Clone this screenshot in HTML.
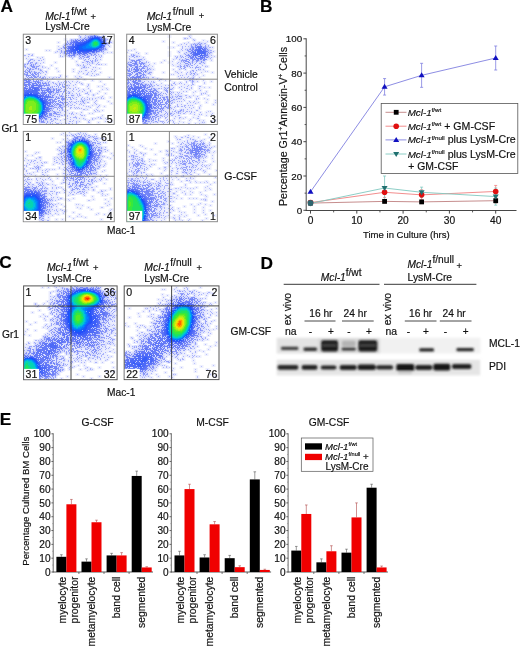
<!DOCTYPE html>
<html><head><meta charset="utf-8"><title>Figure</title>
<style>
html,body{margin:0;padding:0;background:#fff;}
body{width:520px;height:647px;overflow:hidden;}
svg{display:block;font-family:"Liberation Sans", sans-serif;}
text{stroke:#111;stroke-width:0.18px;paint-order:stroke;filter:grayscale(1);}
</style></head><body>
<svg width="520" height="647" viewBox="0 0 520 647">
<rect width="520" height="647" fill="#fff"/>
<text x="0.6" y="12.4" font-size="17.3" font-weight="bold" fill="#000">A</text>
<text x="259.9" y="12.4" font-size="17.3" font-weight="bold" fill="#000">B</text>
<text x="-0.8" y="268.4" font-size="17.3" font-weight="bold" fill="#000">C</text>
<text x="260.6" y="268.7" font-size="17.3" font-weight="bold" fill="#000">D</text>
<text x="-0.35" y="425.2" font-size="17.3" font-weight="bold" fill="#000">E</text>
<defs><clipPath id="c0"><rect x="23.60" y="34.50" width="90.40" height="89.70"/></clipPath>
<path id="p0_1" d="M42 5h1M35 8h1M35 12h1M3 15h1M23 16h1M26 16h1M32 18h1M84 18h1M88 18h1M14 23h1M53 27h1M32 28h1M54 30h1M82 30h1M28 31h1M22 33h1M25 34h1M33 34h1M76 34h1M50 35h1M35 37h1M50 37h1M77 38h1M55 39h1M75 40h1M43 42h1M52 42h1M30 43h1M58 43h1M86 43h1M61 45h1M69 46h1M77 47h1M59 50h1M81 50h1M75 52h1M79 52h1M83 54h1M79 55h1M84 55h1M76 57h1M74 59h1M82 59h1M70 60h1M75 63h1M87 63h1M85 67h1M88 69h1M69 71h1M81 72h1M67 73h1M64 75h1M79 76h1M76 77h1M66 79h1M69 79h1M79 81h1M72 84h1M82 84h1M62 85h1M83 85h1M56 87h1M82 87h1M88 87h1M75 88h1M38 89h1"/>
<path id="p0_2" d="M58 0h1M56 1h1M62 1h1M80 1h1M57 2h1M82 4h1M48 5h1M84 5h1M87 7h1M87 8h2M85 11h1M86 12h1M35 15h2M83 15h1M34 17h1M38 18h1M37 19h1M80 19h1M5 20h2M9 20h1M1 21h2M8 21h2M37 21h1M78 21h1M5 22h1M37 22h1M39 22h1M76 22h1M78 22h1M19 23h1M77 23h1M3 24h1M17 24h1M49 24h1M56 24h1M20 25h1M77 25h1M11 26h1M15 26h2M18 26h1M61 26h1M74 26h1M72 27h1M13 28h1M20 28h1M59 28h2M75 28h1M17 29h1M69 29h1M74 29h1M1 30h1M60 30h1M64 30h1M66 30h1M73 30h1M75 30h2M78 30h1M1 31h1M16 31h1M55 31h1M57 31h1M60 31h1M67 31h1M1 32h1M19 32h1M19 33h1M63 33h1M65 33h1M70 33h1M72 33h1M58 34h1M17 35h1M69 35h1M18 36h1M62 36h2M72 36h1M19 37h1M22 37h2M56 37h1M58 37h1M68 37h1M71 37h1M20 38h1M23 38h1M65 38h1M60 39h1M64 39h1M69 39h1M22 40h1M63 40h2M73 40h1M37 41h1M68 41h1M71 41h1M21 42h1M37 42h1M56 42h1M22 43h1M26 43h1M33 43h1M35 43h2M22 44h1M24 44h1M29 44h1M54 44h2M24 46h1M26 47h1M35 47h1M41 47h1M43 47h1M45 47h1M49 47h1M54 47h1M29 48h2M38 48h1M40 48h1M42 48h2M46 48h1M53 48h1M56 48h1M30 49h1M32 49h1M47 49h1M58 49h1M52 50h1M65 50h1M46 51h1M50 51h1M65 51h1M64 52h1M45 53h1M52 53h1M44 54h1M46 54h2M50 54h1M55 54h1M65 54h1M50 55h1M53 55h1M60 55h1M43 56h1M49 56h1M56 56h1M61 56h1M67 56h1M45 57h1M50 57h1M55 57h1M59 57h1M67 57h1M64 58h1M49 59h1M53 59h1M56 59h1M62 59h3M54 60h1M56 60h1M65 60h1M50 61h1M54 61h1M56 61h2M70 61h1M55 62h1M79 62h1M53 63h1M59 63h1M64 63h1M78 63h1M58 64h1M61 64h1M66 64h1M69 64h1M72 64h1M78 64h1M80 64h1M53 65h1M58 65h1M64 65h1M66 65h1M69 65h1M73 66h1M53 67h1M55 67h1M57 67h1M72 67h1M51 68h2M64 68h2M71 68h1M53 69h1M57 69h1M61 69h1M72 69h1M49 70h1M56 70h1M58 70h1M73 70h1M43 71h1M47 71h2M51 71h1M60 71h1M76 71h1M41 72h1M45 72h1M63 72h1M65 72h1M75 72h1M47 73h2M51 73h1M53 73h1M55 73h1M74 73h1M47 74h1M52 74h1M54 74h1M56 74h1M58 74h1M60 75h2M73 75h1M39 76h1M44 76h1M71 76h1M74 76h1M41 77h2M72 77h1M37 78h1M42 78h1M49 78h1M58 78h1M46 79h1M48 79h2M53 79h1M41 80h1M48 80h1M50 80h1M57 80h1M38 81h2M41 81h1M44 81h1M58 81h2M61 81h1M36 82h1M44 82h1M52 82h1M47 83h1M50 83h4M75 83h1M77 83h1M44 84h1M53 84h1M56 84h1M60 84h1M69 84h1M77 84h2M32 85h1M34 85h1M41 85h2M47 85h1M69 85h1M30 86h1M37 86h1M50 86h1M66 86h1M28 87h2M46 87h2M49 87h1M53 87h1M65 87h1M27 88h1M32 88h1M42 88h1M53 88h1M65 88h2M1 89h1M15 89h1M27 89h1M29 89h1M33 89h3M42 89h2M45 89h2M49 89h1M53 89h1"/>
<path id="p0_3" d="M68 0h1M65 2h1M57 3h1M62 3h1M82 5h1M48 6h1M44 7h1M44 8h1M43 9h1M84 9h1M42 10h1M41 11h1M40 12h1M40 13h1M38 14h1M82 14h1M82 15h1M38 16h1M38 17h1M80 17h1M41 19h1M72 20h1M75 20h1M42 21h1M68 21h1M70 21h1M73 21h1M46 22h1M51 22h1M56 22h1M65 22h2M72 22h1M57 23h1M61 23h1M63 23h3M72 23h1M58 24h1M60 24h1M66 24h1M70 24h1M73 24h1M7 25h3M62 25h1M65 25h1M72 25h1M6 26h2M67 26h1M69 26h1M72 26h1M5 27h2M63 27h3M68 27h2M5 28h1M7 28h3M64 28h1M66 28h1M69 28h1M4 29h2M7 29h1M12 29h2M2 30h1M4 30h1M10 30h1M12 30h1M7 31h1M2 32h1M13 32h3M61 32h1M2 33h1M4 33h1M13 33h1M60 33h2M4 34h2M13 34h1M15 34h1M3 35h1M9 35h2M15 35h1M2 36h1M4 36h1M17 36h1M1 37h2M8 37h1M11 37h1M2 38h2M12 38h2M15 38h2M1 39h1M14 39h2M17 39h1M1 40h2M15 40h1M15 41h1M14 42h2M17 42h1M16 43h2M19 43h2M18 44h3M1 45h1M0 46h1M18 46h2M22 48h1M25 48h1M0 49h1M23 49h1M25 49h1M36 49h1M25 50h2M33 50h1M36 50h2M39 50h1M41 50h1M25 51h2M34 51h1M36 51h1M39 51h1M43 51h2M29 52h1M31 52h1M33 52h1M35 52h1M39 52h3M29 53h1M35 53h1M37 53h1M40 53h2M30 54h1M33 54h1M38 54h1M36 55h2M41 55h1M36 56h1M41 56h1M37 57h2M40 57h2M35 58h1M40 58h1M46 58h1M32 59h1M39 59h1M43 59h1M45 59h2M31 60h1M34 60h1M36 60h1M39 60h1M36 61h1M38 61h1M43 61h1M45 61h1M48 61h2M33 62h1M37 62h1M39 62h2M42 62h1M43 63h1M45 63h3M49 63h1M41 64h1M47 64h1M50 64h1M41 65h1M44 65h1M47 65h2M59 66h1M61 66h1M42 67h1M46 67h1M48 67h1M59 67h2M41 68h4M47 68h1M60 68h1M39 69h2M42 69h1M45 69h1M40 70h1M44 70h1M33 71h1M31 73h3M35 73h1M37 73h3M30 74h1M34 74h1M36 74h1M38 74h2M34 75h1M39 75h1M29 76h1M36 76h1M30 77h2M34 78h2M33 79h1M33 80h4M30 81h1M31 82h2M34 82h1M25 83h3M28 84h1M31 84h2M23 85h1M27 85h2M24 87h1M1 88h1M18 88h4M24 88h1M7 89h1M10 89h1M12 89h2M23 89h1"/>
<path id="p0_4" d="M67 2h1M65 3h1M78 3h1M61 4h1M52 5h1M54 5h1M57 5h1M59 5h1M50 6h1M82 6h1M48 7h1M82 7h1M47 8h2M82 8h1M45 9h1M47 9h1M83 9h1M43 10h2M46 10h1M42 11h1M44 12h1M41 13h1M43 13h1M41 14h2M42 15h1M80 15h1M41 17h2M76 17h1M78 17h1M41 18h1M42 19h3M43 20h1M46 20h1M68 20h1M71 20h1M45 21h7M57 21h1M61 21h2M48 22h1M59 22h2M64 22h1M8 30h1M8 31h1M10 31h1M8 32h4M9 33h3M7 34h1M12 34h1M6 35h2M6 36h1M5 37h2M4 38h1M6 38h2M11 38h1M4 39h1M7 39h1M9 39h1M11 39h2M3 40h2M8 40h3M12 40h2M3 41h5M9 41h3M3 42h1M5 42h1M8 42h1M10 42h3M4 43h1M6 43h4M11 43h3M2 44h1M5 44h1M10 44h1M3 45h4M9 45h2M14 45h1M1 46h2M6 46h2M10 46h1M13 46h1M15 46h1M17 46h1M10 47h6M1 48h1M8 48h1M16 48h2M19 48h1M1 49h1M17 49h1M19 49h4M0 50h2M17 50h1M20 50h1M23 50h1M18 51h7M21 52h1M24 53h2M27 53h1M0 54h1M19 54h4M24 54h3M23 55h1M27 55h1M30 55h2M33 55h1M35 55h1M20 56h3M30 56h2M33 56h3M21 57h1M29 57h2M33 57h1M35 57h1M30 58h1M33 58h2M29 61h2M29 62h1M38 62h1M29 63h2M33 63h1M35 63h1M39 63h1M32 64h1M34 64h3M38 64h3M28 65h2M31 65h3M38 65h3M27 66h1M29 66h3M35 66h2M39 66h1M29 67h5M35 67h1M37 67h1M28 68h3M32 68h1M36 68h4M29 69h1M31 69h1M33 69h3M30 70h1M32 70h1M34 70h4M28 71h2M31 71h1M36 71h3M28 72h3M36 72h2M28 74h1M27 76h1M26 77h1M31 78h2M24 79h1M26 79h3M30 79h3M26 80h3M24 81h1M26 81h3M23 82h2M21 84h3M18 85h1M22 85h1M16 86h1M18 86h1M20 86h1M13 87h1M16 87h1M18 87h3M5 88h1M8 88h1"/>
<path id="p0_5" d="M71 1h1M68 2h2M67 3h1M77 3h1M78 4h1M60 5h1M62 5h2M79 5h1M52 6h2M55 6h2M58 6h3M80 6h1M50 7h3M49 8h2M81 8h1M48 9h1M82 9h1M47 10h1M82 10h1M81 11h1M45 12h2M81 12h1M45 13h1M80 13h1M44 14h2M80 14h1M45 15h1M78 15h2M43 16h2M76 16h3M43 17h3M74 17h2M44 18h1M46 18h1M71 18h1M73 18h1M45 19h2M48 19h1M66 19h2M50 20h2M54 20h1M56 20h1M59 20h3M64 20h1M3 46h1M5 46h1M3 47h4M2 48h6M12 48h1M14 48h2M5 49h2M9 49h5M15 49h1M2 50h6M9 50h2M13 50h2M16 50h1M1 51h3M5 51h2M8 51h2M14 51h4M2 52h3M6 52h1M8 52h1M15 52h4M1 53h2M6 53h2M15 53h2M18 53h1M1 54h1M17 54h2M0 55h2M16 55h1M18 55h1M24 55h3M0 56h1M16 56h1M18 56h2M23 56h3M27 56h1M19 57h1M24 57h5M18 58h6M25 58h4M0 59h1M18 59h5M26 59h2M19 60h3M23 60h1M25 60h1M27 60h1M22 61h2M26 62h2M25 63h4M24 64h1M24 65h1M26 65h2M25 66h2M27 67h1M25 68h3M26 69h2M26 70h2M25 71h2M25 72h3M25 73h1M25 74h3M25 75h2M24 76h2M23 77h3M23 78h1M23 79h1M22 80h2M21 81h2M20 82h1M22 82h1M20 83h2M17 84h1M19 84h1M15 86h1M11 87h1"/>
<path id="p0_6" d="M71 2h1M74 2h1M76 3h1M66 4h1M78 5h1M53 7h2M57 7h1M59 7h1M80 7h1M51 8h2M80 8h1M50 9h1M81 9h1M49 10h2M49 11h1M47 12h2M80 12h1M46 13h2M79 13h1M46 14h1M78 14h1M77 15h1M45 16h3M46 17h2M71 17h1M73 17h1M47 18h2M65 18h1M69 18h2M50 19h3M55 19h4M60 19h4M10 51h4M9 52h2M8 53h7M2 54h3M6 54h2M9 54h2M13 54h3M3 55h1M5 55h5M14 55h2M1 56h3M6 56h3M14 56h2M1 57h2M14 57h1M1 58h1M14 58h2M1 59h1M15 59h2M0 60h1M17 60h1M0 61h1M16 61h5M25 61h1M18 62h8M19 63h1M21 63h4M20 64h3M21 65h3M22 66h2M23 67h2M23 68h2M23 69h3M23 70h2M24 71h1M23 73h2M23 74h2M22 75h3M23 76h1M22 77h1M21 78h2M21 79h1M21 80h1M19 82h1M18 83h1M16 84h1M0 85h1M15 85h1M13 86h1M5 87h1M7 87h2M10 87h1"/>
<path id="p0_7" d="M72 2h1M69 3h1M75 3h1M67 4h1M65 5h2M63 6h2M78 6h1M61 7h2M79 7h1M53 8h7M52 9h3M52 10h1M50 11h1M80 11h1M49 12h2M48 13h2M78 13h1M47 14h2M47 15h2M76 15h1M48 16h2M72 16h2M48 17h4M66 17h5M50 18h3M54 18h4M59 18h6M11 54h2M11 55h3M4 56h2M9 56h5M3 57h11M2 58h12M2 59h2M10 59h5M1 60h1M14 60h1M15 61h1M0 62h1M16 62h2M17 63h1M19 64h1M20 66h2M21 67h2M22 68h1M22 69h1M22 70h1M22 71h1M22 72h1M22 73h1M21 77h1M20 79h1M19 81h1M18 82h1M15 84h1M11 86h1"/>
<path id="p0_8" d="M71 3h4M68 4h1M76 4h1M67 5h1M77 5h1M65 6h1M63 7h2M78 7h1M60 8h3M79 8h1M55 9h5M79 9h1M53 10h4M79 10h1M52 11h2M79 11h1M51 12h3M78 12h1M50 13h3M77 13h1M49 14h2M49 15h4M73 15h2M50 16h5M70 16h2M52 17h1M54 17h12M4 59h2M7 59h2M2 60h3M9 60h5M1 61h1M13 61h2M16 63h1M17 64h2M18 65h2M19 66h1M20 67h1M21 68h1M21 69h1M21 71h1M21 72h1M21 73h1M21 74h1M21 75h1M20 78h1M19 80h1M18 81h1M17 82h1M16 83h1M13 85h1M4 86h1M8 86h1"/>
<path id="p0_9" d="M69 4h2M75 4h1M68 5h1M76 5h1M66 6h1M77 6h1M65 7h1M63 8h1M78 8h1M60 9h3M57 10h4M54 11h5M78 11h1M54 12h2M53 13h3M52 14h4M75 14h1M53 15h3M71 15h2M56 16h5M63 16h6M5 60h4M2 61h2M11 61h2M14 62h1M15 63h1M19 67h1M20 68h1M20 69h1M20 70h1M20 77h1M19 79h1"/>
<path id="p0_10" d="M71 4h4M69 5h1M75 5h1M67 6h1M76 6h1M66 7h1M77 7h1M64 8h2M63 9h1M78 9h1M61 10h2M78 10h1M59 11h3M56 12h4M77 12h1M56 13h3M76 13h1M56 14h4M73 14h2M56 15h15M61 16h2M4 61h7M2 62h1M12 62h2M14 63h1M17 65h1M18 66h1M19 68h1M20 71h1M20 72h1M20 73h1M20 74h1M20 75h1M19 78h1M16 82h1M3 85h2M11 85h1"/>
<path id="p0_11" d="M70 5h1M74 5h1M68 6h1M67 7h1M66 8h1M77 8h1M64 9h2M77 9h1M63 10h2M77 10h1M62 11h2M77 11h1M60 12h3M76 12h1M59 13h4M75 13h1M60 14h13M11 62h1M1 63h1M13 63h1M15 64h1M0 65h1M16 65h1M17 66h1M18 67h1M19 69h1M19 70h1M19 76h1M19 77h1M18 79h1M17 80h1M0 82h1M15 82h1M1 83h1M2 84h1M12 84h1M5 85h1"/>
<path id="p0_12" d="M71 5h3M69 6h1M75 6h1M68 7h1M76 7h1M67 8h1M66 9h1M65 10h1M64 11h2M76 11h1M63 12h4M75 12h1M63 13h6M73 13h2M4 62h2M8 62h3M2 63h1M12 63h1M1 64h1M14 64h1M0 66h1M17 67h1M18 68h1M19 71h1M19 72h1M19 73h1M19 74h1M19 75h1M18 78h1M0 81h1M16 81h1M13 83h1M3 84h1M11 84h1"/>
<path id="p0_13" d="M70 6h1M74 6h1M69 7h1M75 7h1M68 8h1M76 8h1M67 9h1M76 9h1M66 10h2M76 10h1M66 11h2M67 12h2M74 12h1M69 13h4M6 62h2M3 63h1M11 63h1M13 64h1M15 65h1M16 66h1M0 67h1M18 69h1M18 70h1M18 77h1M0 79h1M17 79h1M0 80h1M16 80h1M15 81h1M1 82h1M14 82h1M2 83h1M4 84h7"/>
<path id="p0_14" d="M71 6h3M75 8h1M68 9h1M68 10h1M68 11h1M75 11h1M69 12h1M73 12h1M4 63h1M9 63h2M2 64h1M1 65h1M14 65h1M15 66h1M16 67h1M0 68h1M17 68h1M0 69h1M17 69h1M0 70h1M0 71h1M18 71h1M0 72h1M18 72h1M0 73h1M18 73h1M18 74h1M18 75h1M18 76h1M0 77h1M0 78h1M17 78h1M1 81h1M13 82h1M3 83h1M12 83h1"/>
<path id="p0_15" d="M70 7h2M73 7h2M69 8h1M69 9h1M75 9h1M69 10h1M75 10h1M69 11h1M74 11h1M70 12h3M5 63h4M3 64h1M11 64h2M2 65h1M13 65h1M1 66h1M16 68h1M17 70h1M0 74h1M0 75h1M0 76h1M17 77h1M16 79h1M1 80h1M15 80h1M14 81h1M2 82h1M4 83h8"/>
<path id="p0_16" d="M72 7h1M70 8h1M74 8h1M70 9h1M74 9h1M70 10h1M74 10h1M70 11h4M4 64h1M9 64h2M12 65h1M14 66h1M1 67h1M15 67h1M1 68h1M16 69h1M17 71h1M17 72h1M17 73h1M17 74h1M17 75h1M17 76h1M1 78h1M16 78h1M1 79h1M15 79h1M14 80h1M2 81h1M13 81h1M3 82h3M11 82h2"/>
<path id="p0_17" d="M71 8h3M71 9h3M71 10h3M5 64h4M3 65h1M11 65h1M2 66h1M13 66h1M2 67h1M14 67h1M15 68h1M1 69h1M15 69h1M1 70h1M16 70h1M1 71h1M16 71h1M1 72h1M16 72h1M1 73h1M16 73h1M1 74h1M16 74h1M1 75h1M16 75h1M1 76h1M16 76h1M1 77h1M16 77h1M15 78h1M14 79h1M2 80h1M13 80h1M3 81h3M12 81h1M6 82h5"/>
<path id="p0_18" d="M4 65h7M3 66h1M11 66h2M13 67h1M2 68h1M14 68h1M2 69h1M14 69h1M15 70h1M15 71h1M15 72h1M15 73h1M15 74h1M15 75h1M15 76h1M15 77h1M2 78h1M14 78h1M2 79h1M13 79h1M3 80h10M6 81h6"/>
<path id="p0_19" d="M4 66h7M3 67h2M11 67h2M3 68h1M12 68h2M3 69h1M13 69h1M2 70h1M13 70h2M2 71h1M13 71h2M2 72h1M13 72h2M2 73h1M13 73h2M2 74h1M13 74h2M2 75h1M13 75h2M2 76h1M12 76h3M2 77h1M11 77h4M3 78h2M9 78h5M3 79h10"/>
<path id="p0_20" d="M5 67h6M4 68h8M4 69h9M3 70h10M3 71h10M3 72h4M9 72h4M3 73h3M9 73h4M3 74h3M9 74h4M3 75h3M9 75h4M3 76h9M3 77h8M5 78h4"/>
<path id="p0_21" d="M7 72h2M6 73h3M6 74h3M6 75h3"/>
<clipPath id="c1"><rect x="127.00" y="34.50" width="90.10" height="89.70"/></clipPath>
<path id="p1_1" d="M64 0h1M43 2h1M58 4h1M67 5h1M77 6h1M37 7h1M81 7h1M47 8h1M62 8h1M52 11h1M43 13h1M47 13h1M8 15h1M2 16h1M5 16h1M52 17h1M1 18h1M43 18h1M20 19h1M43 21h1M88 22h1M47 25h1M38 26h1M85 26h1M46 27h1M35 28h1M43 28h1M28 29h1M46 30h1M47 31h1M26 32h1M81 32h1M27 35h1M47 35h1M49 37h1M79 37h1M81 37h1M37 38h1M75 38h1M86 38h1M45 40h1M47 40h1M77 41h1M73 43h1M39 46h1M44 46h1M77 46h1M85 47h1M78 48h1M35 49h1M78 49h1M78 53h1M83 53h1M69 57h1M80 57h1M67 58h1M67 61h1M82 61h1M64 63h1M78 64h1M81 65h1M89 66h1M72 68h1M80 68h1M89 68h1M87 70h1M74 71h1M82 77h1M84 77h1M80 78h1M86 79h1M85 80h1M80 81h1M59 83h1M67 83h1M57 84h1M64 85h1M63 86h1M77 86h1M89 86h1M53 87h1M86 87h1M57 88h1M78 88h1M52 89h1M62 89h2M69 89h1M73 89h1"/>
<path id="p1_2" d="M63 2h1M64 3h1M59 4h1M61 4h1M68 6h1M73 8h1M58 9h1M68 9h1M78 9h2M55 10h1M60 10h1M65 10h1M82 11h1M56 12h1M59 12h1M62 12h1M82 12h1M56 13h1M83 13h2M86 13h1M56 14h1M55 15h1M59 15h1M56 16h1M84 16h2M87 17h1M10 18h1M53 18h1M85 18h1M12 19h1M58 19h1M5 20h1M7 20h1M5 21h1M54 21h1M85 21h1M3 22h1M11 22h1M13 22h1M49 22h1M51 22h1M54 22h1M17 23h1M50 23h2M85 23h1M3 24h1M50 24h1M84 24h1M3 25h1M18 25h1M53 25h1M20 27h1M20 28h1M22 28h1M52 28h1M1 29h1M51 29h1M54 29h1M78 29h1M23 30h1M22 31h1M76 31h1M51 32h2M79 32h1M74 33h1M24 35h1M53 35h1M74 35h1M77 35h1M64 37h1M24 38h2M51 38h1M55 38h1M61 38h1M64 38h1M23 39h1M52 39h1M60 39h1M24 40h1M60 40h1M64 40h1M71 40h1M54 41h1M56 41h1M52 42h1M62 42h1M22 43h1M26 43h2M55 43h1M58 43h1M61 43h1M67 43h1M22 44h1M31 44h1M53 44h1M63 44h2M67 44h1M34 45h2M59 45h1M70 45h1M33 46h1M63 46h2M22 47h1M25 47h1M27 47h1M60 47h1M67 47h1M71 47h1M27 48h2M48 48h1M54 48h1M60 48h1M66 48h1M47 49h2M53 49h1M55 49h1M66 49h1M30 50h1M45 50h1M49 50h1M58 50h1M66 50h2M28 51h1M31 51h2M39 51h1M42 51h1M45 51h2M62 51h1M65 51h1M35 52h1M55 52h1M61 52h1M73 52h2M38 53h1M42 53h1M47 53h1M53 53h1M58 53h1M65 53h1M32 54h2M35 54h1M46 54h1M60 54h2M65 54h1M73 54h1M38 55h1M55 55h1M63 55h1M74 56h1M57 57h1M60 57h1M47 58h1M51 58h1M53 58h1M52 59h1M55 59h1M75 59h1M77 59h1M79 59h1M49 60h1M75 60h1M59 61h2M46 62h1M49 62h1M55 62h1M63 62h1M71 62h1M50 63h1M60 63h1M55 64h1M70 64h1M72 64h1M48 65h1M50 65h1M57 65h1M70 65h1M58 66h1M51 67h1M53 67h1M55 67h1M63 67h1M68 67h1M46 68h1M48 68h1M64 68h1M67 68h1M61 69h1M69 69h1M51 70h1M55 70h1M51 71h1M58 71h2M62 71h1M64 71h1M66 71h1M49 72h1M51 72h2M55 72h2M58 72h1M48 73h1M59 73h1M63 73h1M67 73h1M73 73h1M45 74h1M65 74h1M73 74h1M47 75h1M55 75h1M57 75h1M61 75h1M49 76h1M57 76h1M70 76h2M43 77h1M46 77h1M48 77h2M57 77h1M60 77h2M63 77h1M65 77h1M50 78h1M59 78h1M65 78h1M68 78h1M74 78h1M48 79h1M52 79h1M54 79h1M57 79h2M64 79h1M44 80h1M47 80h1M68 80h1M73 80h1M75 80h1M35 81h1M45 81h2M52 81h2M36 82h1M38 82h1M41 82h1M49 82h1M72 82h1M34 83h1M39 83h2M53 83h2M39 84h1M48 84h1M53 84h1M71 84h2M41 85h1M40 86h1M44 86h1M46 86h1M73 86h1M34 87h4M42 87h1M47 87h1M27 88h1M31 88h1M36 88h1M38 88h1M41 88h1M47 88h1M76 88h1M24 89h1M37 89h1M48 89h1"/>
<path id="p1_3" d="M72 9h1M75 9h1M67 10h1M69 10h1M65 11h1M79 11h1M65 12h2M79 12h1M65 13h1M64 14h1M61 15h1M63 15h1M61 16h2M82 16h1M62 17h1M60 18h1M84 18h1M83 19h1M59 20h1M7 21h2M60 21h2M6 22h2M10 22h1M56 22h1M59 22h1M82 22h1M8 23h1M55 23h1M57 23h1M59 24h1M12 25h4M56 25h1M5 26h1M55 26h3M55 27h1M57 27h1M70 27h2M2 28h1M66 28h1M70 28h1M75 28h1M77 28h1M18 29h1M64 29h1M66 29h1M69 29h1M73 29h2M2 30h1M64 30h1M68 30h1M54 31h1M58 31h1M61 31h1M65 31h2M71 31h1M1 32h1M19 32h2M54 32h2M57 32h2M61 32h1M63 32h1M70 32h1M1 33h1M21 33h1M54 33h1M58 33h2M64 33h1M66 33h1M69 33h4M21 34h1M23 34h1M55 34h1M57 34h2M69 34h1M1 35h1M21 35h2M59 35h1M72 35h1M1 36h1M21 36h1M66 36h2M70 36h1M20 37h1M67 37h1M23 38h1M69 38h1M1 39h1M22 39h1M65 39h1M67 39h2M68 40h1M1 41h1M19 41h1M67 41h1M1 43h1M20 43h1M66 44h1M1 45h1M17 45h3M1 46h1M66 46h1M18 47h1M66 47h1M16 48h2M24 49h1M1 50h1M20 50h1M22 50h1M24 50h2M23 51h1M25 51h1M26 52h1M27 54h2M39 54h1M41 54h1M40 55h1M44 55h2M39 56h3M43 56h1M40 57h2M43 57h2M32 58h1M35 58h1M41 58h1M43 58h1M45 58h1M34 59h1M37 59h1M39 59h1M44 59h1M40 60h1M43 60h1M45 60h1M36 61h1M52 61h1M40 62h2M51 62h1M53 62h2M41 63h1M44 63h1M46 63h1M45 64h1M52 64h2M42 65h1M47 65h1M45 66h2M43 67h2M45 69h1M44 71h1M43 72h1M40 73h3M44 73h1M37 74h1M41 74h3M35 76h1M37 76h1M54 76h2M33 77h3M39 77h1M52 77h3M32 78h1M35 78h1M40 78h1M52 78h1M32 79h1M39 79h1M41 79h1M44 79h2M31 80h1M38 80h1M41 80h1M34 81h1M31 82h2M29 83h2M27 84h1M29 84h1M32 84h1M27 85h1M29 85h1M32 85h1M26 86h2M32 86h1M22 87h2M25 87h1M29 87h2M1 89h1M17 89h5"/>
<path id="p1_4" d="M71 10h1M73 10h2M69 11h2M74 11h1M69 12h1M66 13h2M79 13h1M66 14h2M79 14h2M64 15h1M66 15h1M81 15h1M65 16h1M63 17h2M81 17h1M82 18h1M64 19h1M81 19h1M62 20h1M81 20h1M62 21h2M81 21h1M63 22h1M62 23h1M64 23h1M80 23h2M64 24h1M60 25h3M66 25h4M71 25h1M78 25h3M6 26h3M10 26h4M58 26h3M63 26h1M66 26h2M70 26h3M77 26h2M6 27h1M8 27h3M13 27h2M59 27h4M66 27h1M75 27h1M4 28h2M10 28h1M13 28h1M15 28h2M58 28h1M62 28h2M6 29h3M13 29h5M59 29h3M3 30h3M8 30h4M14 30h2M17 30h1M62 30h1M3 31h6M11 31h1M14 31h1M18 31h1M60 31h1M4 32h2M9 32h1M11 32h1M13 32h3M17 32h2M6 33h1M16 33h2M3 34h1M5 34h1M13 34h1M15 34h4M3 35h1M5 35h1M7 35h1M14 35h2M2 36h2M5 36h1M14 36h2M17 36h1M19 36h1M2 37h3M7 37h2M15 37h2M18 37h2M5 38h2M8 38h1M14 38h1M17 38h1M19 38h1M2 39h3M6 39h1M10 39h1M13 39h3M17 39h1M3 40h3M9 40h2M16 40h3M2 41h3M8 41h1M15 41h1M17 41h1M3 42h1M6 42h2M17 42h1M4 43h3M14 43h1M16 43h3M2 44h1M4 44h1M14 44h2M2 45h4M13 45h1M2 46h1M4 46h1M12 46h3M2 47h1M6 47h1M12 47h3M1 48h3M1 49h2M4 49h1M13 49h1M15 49h1M4 50h2M15 50h2M19 50h1M2 51h1M18 51h2M21 51h1M1 52h2M19 52h1M23 52h2M1 53h1M21 53h3M20 54h2M25 54h1M22 55h4M28 55h2M24 56h1M27 56h4M27 57h1M30 57h2M29 58h1M30 59h1M30 60h1M32 60h2M30 61h3M34 61h1M32 62h1M30 63h1M32 63h1M34 63h1M36 63h3M40 63h1M30 64h2M33 64h2M37 64h2M41 64h1M35 65h1M37 65h3M41 65h1M32 66h3M36 66h1M38 66h1M41 66h2M33 67h1M36 67h1M40 67h3M34 68h3M39 68h2M42 68h1M34 69h1M39 69h3M33 70h6M40 70h1M42 70h1M33 71h1M35 71h1M39 71h1M42 71h1M32 72h1M34 72h2M38 72h2M42 72h1M31 73h2M35 73h1M37 73h1M29 74h2M32 74h5M31 75h1M34 75h1M36 75h1M29 76h3M27 77h1M29 77h1M27 78h3M31 78h1M27 79h3M25 80h1M28 80h1M30 80h1M29 81h2M24 82h1M26 82h3M24 83h1M26 83h1M23 84h1M25 84h1M22 85h2M25 85h1M19 87h2M15 88h1M18 88h2M2 89h1M4 89h1M10 89h1M13 89h3"/>
<path id="p1_5" d="M71 12h5M69 13h3M75 13h1M77 13h1M70 14h1M78 14h1M67 15h1M69 15h1M78 15h2M66 16h1M68 16h1M79 16h1M66 17h2M80 17h1M65 18h2M65 19h1M66 20h1M65 21h1M79 21h2M64 22h1M66 22h2M78 22h2M65 23h3M69 23h2M77 23h2M65 24h2M68 24h1M70 24h7M78 24h1M72 25h1M74 25h2M77 25h1M9 28h1M9 29h2M10 32h1M9 33h3M8 34h1M10 34h2M8 35h5M9 36h4M9 37h3M12 38h2M11 39h1M11 40h1M11 41h1M14 41h1M10 42h5M7 43h7M6 44h1M8 44h3M12 44h1M6 45h5M12 45h1M7 46h1M9 46h2M7 47h3M7 48h5M8 49h5M7 50h2M10 50h3M14 50h1M5 51h1M7 51h3M12 51h1M14 51h1M16 51h2M4 52h2M8 52h5M14 52h2M17 52h2M3 53h1M15 53h5M2 54h2M18 54h1M2 55h1M17 55h2M1 56h1M19 56h2M1 57h2M18 57h1M20 57h2M23 57h4M1 58h1M19 58h1M22 58h1M24 58h1M26 58h2M1 59h1M20 59h6M27 59h3M22 60h1M24 60h3M28 60h2M25 61h2M28 61h2M25 62h1M28 62h2M25 63h1M27 63h3M24 64h1M26 64h2M24 65h1M26 65h5M24 66h1M26 66h1M28 66h3M25 67h2M28 67h3M32 67h1M26 68h4M31 68h1M27 69h4M32 69h1M27 70h4M32 70h1M28 71h2M31 71h1M27 72h1M30 72h1M27 73h3M26 74h1M28 74h1M25 76h3M25 77h2M24 78h1M24 79h2M23 80h2M23 81h1M22 82h1M22 83h2M20 84h3M17 86h1M19 86h2M16 87h2M1 88h1M12 88h3M6 89h2"/>
<path id="p1_6" d="M72 13h3M72 14h5M70 15h3M76 15h2M69 16h3M77 16h2M69 17h1M78 17h2M67 18h2M79 18h1M67 19h2M79 19h1M67 20h2M78 20h2M67 21h5M76 21h3M69 22h1M72 22h3M76 22h1M74 23h3M5 53h2M8 53h7M4 54h12M3 55h2M6 55h5M12 55h2M16 55h1M3 56h2M11 56h3M15 56h3M3 57h1M5 57h2M11 57h7M2 58h5M11 58h1M13 58h2M16 58h1M18 58h1M2 59h2M13 59h6M1 60h2M15 60h1M17 60h2M20 60h1M1 61h1M16 61h1M18 61h7M20 62h5M21 63h4M22 64h2M22 65h2M22 66h2M22 67h2M23 68h2M23 69h1M24 70h2M25 71h1M25 72h1M24 73h2M25 74h1M24 75h1M23 76h2M23 77h2M23 78h1M22 80h1M21 81h2M21 82h1M20 83h2M19 84h1M17 85h2M1 87h1M13 87h1M5 88h2M8 88h1M10 88h1"/>
<path id="p1_7" d="M73 15h2M72 16h4M71 17h7M69 18h1M71 18h8M69 19h10M69 20h5M75 20h1M74 21h2M8 56h2M7 57h3M7 58h1M9 58h2M6 59h4M11 59h2M3 60h2M6 60h1M10 60h5M2 61h1M13 61h2M15 62h1M17 62h3M17 63h4M19 64h1M21 64h1M20 65h2M20 66h1M21 67h1M21 68h2M22 69h1M22 70h2M22 71h3M23 72h2M23 73h1M23 74h1M22 75h2M22 76h1M22 77h1M22 78h1M21 79h1M21 80h1M20 81h1M20 82h1M19 83h1M16 85h1M14 86h1M2 87h1M11 87h2"/>
<path id="p1_8" d="M7 60h3M3 61h2M10 61h3M2 62h1M13 62h1M15 63h2M17 64h2M18 65h2M19 66h1M20 67h1M20 68h1M21 70h1M21 71h1M22 73h1M22 74h1M21 76h1M21 77h1M21 78h1M20 80h1M19 81h1M18 83h1M15 85h1M1 86h1M13 86h1M3 87h2M10 87h1"/>
<path id="p1_9" d="M5 61h5M3 62h1M11 62h1M1 63h1M14 63h1M17 65h1M18 66h1M19 67h1M19 68h1M20 69h1M20 70h1M21 72h1M21 73h1M21 74h1M21 75h1M20 78h1M19 80h1M18 82h1M17 83h1M16 84h1M14 85h1M5 87h1M9 87h1"/>
<path id="p1_10" d="M4 62h2M9 62h2M2 63h1M12 63h2M1 64h1M14 64h2M16 65h1M17 66h1M18 67h1M19 69h1M20 71h1M20 72h1M20 73h1M20 74h1M20 75h1M20 76h1M20 77h1M19 79h1M18 81h1M16 83h1M15 84h1M13 85h1M2 86h2"/>
<path id="p1_11" d="M7 62h2M3 63h1M11 63h1M13 64h1M15 65h1M16 66h1M17 67h1M18 68h1M19 70h1M19 71h1M19 77h1M19 78h1M18 80h1M14 84h1M12 85h1M4 86h2M8 86h2"/>
<path id="p1_12" d="M4 63h1M9 63h2M2 64h1M12 64h1M1 65h1M14 65h1M0 67h1M17 68h1M18 69h1M19 72h1M19 73h1M19 74h1M19 75h1M19 76h1M18 79h1M0 81h1M17 81h1M0 82h1M16 82h1M15 83h1M1 84h1M2 85h1M11 85h1M6 86h2"/>
<path id="p1_13" d="M5 63h4M3 64h1M11 64h1M1 66h1M15 66h1M16 67h1M0 68h1M0 69h1M18 70h1M18 71h1M0 78h1M18 78h1M0 79h1M0 80h1M17 80h1M16 81h1M1 83h1M14 83h1M13 84h1M3 85h2M10 85h1"/>
<path id="p1_14" d="M4 64h1M10 64h1M2 65h1M13 65h1M14 66h1M15 67h1M16 68h1M17 69h1M0 70h1M0 71h1M0 72h1M18 72h1M0 73h1M18 73h1M0 74h1M0 75h1M18 75h1M0 76h1M18 76h1M0 77h1M18 77h1M17 79h1M1 82h1M15 82h1M2 84h1M11 84h2M5 85h5"/>
<path id="p1_15" d="M5 64h5M3 65h1M11 65h2M2 66h1M13 66h1M1 67h1M16 69h1M17 70h1M17 71h1M18 74h1M17 78h1M1 80h1M16 80h1M1 81h1M15 81h1M14 82h1M2 83h1M12 83h2M3 84h2M10 84h1"/>
<path id="p1_16" d="M4 65h1M9 65h2M12 66h1M14 67h1M1 68h1M15 68h1M1 69h1M16 70h1M17 72h1M17 73h1M17 74h1M17 75h1M17 76h1M17 77h1M1 78h1M16 78h1M1 79h1M16 79h1M15 80h1M14 81h1M2 82h1M13 82h1M3 83h1M11 83h1M5 84h5"/>
<path id="p1_17" d="M5 65h4M3 66h2M11 66h1M2 67h1M13 67h1M2 68h1M14 68h1M15 69h1M1 70h1M1 71h1M16 71h1M1 72h1M16 72h1M1 73h1M1 74h1M1 75h1M1 76h1M16 76h1M1 77h1M16 77h1M15 79h1M2 80h1M14 80h1M2 81h1M13 81h1M3 82h1M11 82h2M4 83h7"/>
<path id="p1_18" d="M5 66h6M3 67h2M11 67h2M13 68h1M2 69h1M14 69h1M2 70h1M15 70h1M15 71h1M15 72h1M16 73h1M16 74h1M16 75h1M15 76h1M15 77h1M2 78h1M15 78h1M2 79h1M14 79h1M3 80h1M13 80h1M3 81h2M10 81h3M4 82h7"/>
<path id="p1_19" d="M5 67h6M3 68h3M11 68h2M3 69h1M13 69h1M13 70h2M2 71h1M14 71h1M2 72h1M14 72h1M2 73h1M14 73h2M2 74h1M14 74h2M2 75h1M14 75h2M2 76h1M14 76h1M2 77h1M13 77h2M3 78h1M13 78h2M3 79h2M11 79h3M4 80h9M5 81h5"/>
<path id="p1_20" d="M6 68h5M4 69h9M3 70h4M11 70h2M3 71h3M12 71h2M3 72h1M12 72h2M3 73h1M12 73h2M3 74h1M12 74h2M3 75h1M12 75h2M3 76h1M12 76h2M3 77h3M11 77h2M4 78h9M5 79h6"/>
<path id="p1_21" d="M7 70h4M6 71h6M4 72h8M4 73h4M10 73h2M4 74h3M10 74h2M4 75h4M9 75h3M4 76h8M6 77h5"/>
<path id="p1_22" d="M8 73h2M7 74h3M8 75h1"/>
<clipPath id="c2"><rect x="23.60" y="131.70" width="90.40" height="89.70"/></clipPath>
<path id="p2_1" d="M46 1h1M40 2h1M38 3h1M42 4h1M29 7h1M77 7h1M80 7h1M40 8h1M34 11h1M37 11h1M34 18h1M2 20h1M13 21h1M15 21h1M12 22h1M88 22h1M4 24h1M9 24h1M90 24h1M81 25h1M17 26h1M31 26h1M84 26h1M2 27h1M87 27h1M1 29h1M81 30h1M23 31h1M82 32h1M30 33h1M36 36h1M36 37h1M26 38h1M29 38h1M31 38h1M81 39h1M79 40h1M10 41h1M8 43h1M34 43h1M12 44h1M77 44h1M83 44h1M34 47h1M83 48h1M29 50h1M38 52h1M81 52h1M29 53h1M73 55h1M38 56h1M87 57h1M87 58h1M70 59h1M82 59h1M75 61h1M84 63h1M45 64h1M79 64h1M82 64h1M69 65h1M38 67h1M50 67h1M88 67h1M42 68h1M45 68h1M70 68h1M82 68h1M46 69h1M65 69h2M85 70h1M35 72h1M82 72h1M38 73h1M53 73h1M55 73h1M86 73h1M59 74h1M84 74h1M41 75h1M54 76h1M65 76h1M78 76h2M57 77h1M37 78h1M68 78h1M88 78h1M42 79h1M87 79h1M50 81h1M40 82h1M75 82h1M86 82h1M35 83h1M56 83h1M73 83h1M81 83h1M29 84h1M46 85h1M54 85h1M58 85h1M62 86h1M86 86h1M50 87h1M33 88h1M39 88h1M78 88h1"/>
<path id="p2_2" d="M57 1h1M55 2h1M60 2h1M62 2h1M48 3h1M63 3h1M72 3h1M44 4h1M46 4h1M49 4h1M65 4h2M67 5h1M69 5h1M71 5h1M73 5h1M44 7h1M74 7h1M43 10h1M77 11h1M80 11h1M82 11h1M76 12h1M77 13h1M39 15h1M36 16h1M78 16h1M82 16h1M37 17h1M38 18h1M81 18h2M36 19h1M84 19h1M82 20h1M35 23h1M79 25h1M16 26h1M34 26h1M38 26h1M13 27h1M35 27h1M31 28h1M36 28h1M38 28h1M78 28h1M5 29h1M8 29h1M11 29h2M17 29h1M33 29h1M77 29h1M8 30h1M10 30h1M31 30h1M77 30h1M7 31h1M14 31h1M18 31h1M21 31h1M33 31h2M38 31h1M4 32h1M11 32h1M19 32h1M36 32h1M39 32h1M6 33h1M39 33h2M1 34h1M3 34h1M14 34h1M18 34h2M77 34h1M81 34h1M3 35h1M11 35h1M13 35h1M15 35h1M76 35h1M80 35h1M12 36h1M17 36h1M41 36h1M76 36h1M1 37h1M7 37h1M9 37h2M75 37h1M1 38h1M15 38h1M23 38h1M40 38h1M0 39h1M3 39h1M14 39h1M19 39h1M22 39h1M41 39h1M3 40h1M14 40h1M24 40h1M19 41h1M22 41h1M73 41h1M4 42h1M6 42h1M40 42h2M72 42h1M1 43h1M19 43h2M73 43h1M2 44h1M21 44h1M24 44h1M3 45h1M18 45h1M20 45h1M1 46h1M5 46h1M26 46h1M72 46h1M80 46h1M4 47h1M13 47h1M17 47h1M25 47h1M71 47h1M78 47h1M2 48h1M4 48h3M8 48h1M13 48h1M19 48h1M22 48h1M27 48h1M76 48h1M78 48h1M1 49h1M14 49h1M20 49h1M40 49h1M72 49h1M77 49h1M18 50h1M42 50h1M71 50h1M73 50h1M7 51h1M13 51h2M19 51h1M40 51h3M69 51h1M23 52h1M69 52h1M9 53h2M24 53h2M67 53h1M32 54h1M22 56h1M29 56h1M33 56h1M35 56h1M46 56h1M65 56h1M68 56h2M23 57h2M29 57h1M33 57h1M40 58h1M65 58h1M70 58h1M41 59h2M48 59h1M78 59h1M27 60h3M31 60h1M61 60h1M78 60h2M33 61h2M36 61h1M41 61h1M46 61h1M48 61h1M51 61h1M54 61h2M60 61h1M63 61h1M26 62h1M29 62h1M33 62h1M47 62h1M53 62h1M57 62h2M61 62h1M79 62h1M27 63h1M33 63h1M49 63h2M60 63h1M28 64h1M61 64h1M28 66h1M30 66h1M34 66h1M37 67h1M35 68h1M29 69h1M32 69h1M32 73h1M30 74h1M33 75h1M28 76h1M29 78h1M33 78h1M26 79h1M31 79h1M33 79h1M39 79h1M27 80h1M34 80h1M41 80h1M27 82h1M32 82h1M25 83h1M25 86h1M19 89h2M24 89h2"/>
<path id="p2_3" d="M52 3h1M56 3h1M50 4h1M53 4h1M58 4h1M61 4h1M51 5h1M54 5h5M62 5h1M51 6h1M65 6h2M70 6h1M50 7h1M64 7h1M71 7h3M70 8h1M72 8h1M46 9h1M71 9h1M73 9h1M45 10h1M68 10h1M74 10h1M43 11h2M69 11h4M72 12h1M74 12h2M42 14h1M73 14h1M41 15h2M74 15h1M73 16h1M75 16h2M78 17h1M41 18h1M76 18h1M41 19h1M77 19h2M38 20h1M78 20h1M38 21h1M40 21h1M37 22h3M77 22h1M38 23h1M40 24h1M76 24h1M38 25h1M41 25h1M41 26h1M75 26h2M39 27h1M75 27h1M41 28h1M39 29h1M40 30h1M42 30h2M74 30h1M76 31h1M43 32h1M45 32h1M74 32h1M76 32h1M74 33h1M45 35h1M75 35h1M14 36h2M44 36h1M13 37h1M15 37h1M43 37h1M45 37h2M72 37h1M74 37h1M43 38h2M72 38h1M44 39h2M70 39h1M72 39h1M45 40h1M46 41h1M70 42h2M44 43h1M46 43h1M68 43h1M43 44h1M41 45h2M44 45h2M66 45h1M69 45h2M41 46h1M43 46h2M46 46h1M65 46h1M41 47h1M44 47h1M47 47h1M61 47h1M43 48h1M45 48h1M61 48h1M63 48h1M66 48h1M68 48h2M46 49h2M50 49h1M61 49h1M65 49h1M68 49h2M3 50h1M61 50h1M65 50h2M68 50h1M4 51h1M46 51h1M60 51h1M2 52h1M5 52h1M16 52h1M19 52h1M46 52h1M49 52h2M64 52h2M1 53h1M5 53h2M15 53h1M17 53h1M19 53h1M45 53h2M49 53h1M60 53h1M63 53h1M66 53h1M4 54h1M16 54h3M20 54h1M47 54h1M49 54h1M61 54h3M1 55h1M5 55h1M9 55h1M13 55h1M15 55h1M19 55h1M46 55h3M52 55h1M56 55h2M59 55h1M62 55h1M10 56h4M19 56h1M51 56h1M53 56h1M57 56h1M61 56h3M0 57h1M14 57h1M17 57h3M21 57h1M49 57h1M52 57h4M60 57h1M16 58h1M18 58h1M49 58h3M54 58h1M56 58h1M59 58h3M19 59h1M21 59h3M49 59h1M20 60h4M56 60h2M59 60h1M22 62h2M26 68h1M28 68h1M27 69h1M26 72h1M28 72h1M26 73h2M29 73h1M26 74h1M26 75h1M28 75h1M24 76h1M24 78h1M26 78h1M25 80h1M25 81h1M23 82h1M20 85h1M19 87h2M1 88h1M15 88h1M18 88h1M4 89h2M10 89h2M13 89h1"/>
<path id="p2_4" d="M52 6h3M57 6h1M59 6h2M52 7h2M61 7h1M50 8h1M49 9h1M65 9h1M66 10h1M45 11h1M45 12h1M69 12h1M70 13h1M44 14h1M69 14h2M71 16h1M43 17h1M70 17h1M72 17h1M72 18h1M75 18h1M72 19h1M74 19h3M41 20h2M71 20h1M75 20h1M41 21h2M73 21h1M76 21h2M43 22h1M72 22h3M76 22h1M42 23h1M72 23h2M76 23h1M43 24h1M72 24h4M42 25h1M72 25h1M75 25h1M43 26h1M72 26h1M74 26h1M43 27h1M73 27h1M43 28h1M72 28h3M43 29h2M71 29h3M71 30h1M73 30h1M45 31h1M70 31h2M46 32h1M71 32h1M46 33h1M71 33h1M47 34h1M69 34h1M72 34h1M69 35h2M47 36h2M68 36h4M68 37h1M70 37h1M48 38h2M67 38h2M71 38h1M47 39h1M49 39h1M67 39h3M47 40h4M63 40h5M48 41h1M62 41h1M64 41h2M67 41h1M48 42h3M52 42h1M60 42h3M65 42h1M67 42h2M47 43h1M51 43h2M62 43h3M66 43h1M48 44h6M57 44h2M61 44h1M63 44h2M48 45h1M51 45h1M53 45h1M57 45h1M59 45h2M62 45h1M48 46h1M50 46h1M52 46h1M54 46h7M48 47h3M53 47h2M57 47h1M59 47h1M50 48h1M52 48h2M55 48h4M54 49h1M56 49h1M52 50h3M58 50h1M52 51h4M57 51h3M52 52h1M54 52h1M57 52h1M53 53h1M57 53h3M53 54h1M56 54h2M2 56h5M1 57h3M9 57h1M11 57h2M1 58h1M7 58h1M10 58h2M0 59h1M15 59h1M17 59h1M16 60h1M19 60h1M18 61h1M21 62h1M19 63h3M21 64h1M22 65h2M23 67h1M24 68h1M24 69h2M24 71h2M23 72h2M24 73h1M22 75h1M24 75h1M22 76h1M22 77h1M23 79h1M22 81h1M22 82h1M20 83h1M19 84h1M18 85h1M15 86h3M1 87h2M13 87h2M16 87h1M4 88h1M6 88h1M8 88h2M11 88h1M14 88h1"/>
<path id="p2_5" d="M54 7h1M59 7h2M51 8h2M64 9h1M65 10h1M46 12h1M45 13h1M68 14h1M45 15h1M44 17h1M44 18h1M44 19h1M70 19h1M44 20h1M70 20h1M44 21h1M70 21h1M71 22h1M70 23h2M44 24h1M70 24h1M44 25h1M70 25h2M45 26h1M71 26h1M45 27h1M70 27h2M45 28h2M69 28h1M71 28h1M46 29h1M70 29h1M68 30h1M47 31h1M68 31h1M67 32h1M69 32h1M68 33h1M48 34h1M67 34h2M67 35h1M49 36h1M64 36h2M67 36h1M49 37h1M63 37h1M65 37h1M67 37h1M50 38h1M63 38h2M66 38h1M51 39h2M63 39h1M53 40h1M59 40h1M61 40h1M54 41h5M60 41h1M54 42h1M57 42h3M54 43h1M56 43h3M54 44h3M2 58h5M2 59h4M7 59h2M10 59h1M12 59h1M1 60h2M13 60h1M15 60h1M1 61h1M15 61h2M16 62h2M17 63h1M18 64h2M20 65h2M20 66h2M21 67h1M21 68h2M21 69h2M21 70h3M21 71h3M21 72h1M22 73h1M21 74h2M21 76h1M21 77h1M21 79h1M20 80h2M20 81h1M19 82h1M18 83h1M16 84h3M1 85h1M15 85h1M1 86h2M13 86h1M3 87h3M7 87h1M9 87h1M11 87h1"/>
<path id="p2_6" d="M59 8h1M61 8h1M63 9h1M49 10h1M47 12h1M67 13h1M46 14h1M68 15h1M45 16h1M68 16h1M45 17h1M69 18h1M69 20h1M69 21h1M69 22h1M45 23h1M69 23h1M69 24h1M45 25h1M68 25h2M46 26h1M68 26h2M67 27h2M47 28h1M67 28h2M47 29h1M67 29h1M47 30h1M66 30h2M66 31h2M48 32h1M66 32h1M48 33h1M66 33h1M49 34h1M65 34h1M49 35h1M64 35h1M50 36h1M63 36h1M51 37h1M52 38h1M61 38h1M53 39h2M59 39h1M55 40h4M4 60h6M11 60h2M3 61h4M12 61h3M1 62h2M15 62h1M1 63h1M16 63h1M0 64h1M16 64h2M18 65h1M19 66h1M19 67h2M19 68h1M20 69h1M19 71h2M20 72h1M19 73h2M19 74h2M19 75h2M20 76h1M19 77h2M19 78h1M19 79h2M19 80h1M18 81h2M17 82h2M0 83h1M15 83h2M1 84h1M15 84h1M2 85h1M4 85h1M13 85h1M5 86h7"/>
<path id="p2_7" d="M56 8h1M52 9h1M61 9h1M50 10h1M49 11h1M65 11h1M48 12h1M47 13h1M67 14h1M46 15h1M68 17h1M45 18h1M45 19h1M68 19h1M45 20h1M68 20h1M68 21h1M68 22h1M68 23h1M68 24h1M67 25h1M67 26h1M66 27h1M66 28h1M66 29h1M48 30h1M65 31h1M65 32h1M49 33h1M64 34h1M50 35h1M63 35h1M51 36h1M53 38h1M59 38h1M55 39h2M8 61h2M11 61h1M3 62h6M13 62h2M2 63h1M14 63h2M1 64h1M15 64h1M0 65h1M16 65h1M0 66h1M16 66h1M17 67h2M18 68h1M19 69h1M18 70h2M18 71h1M18 72h1M18 73h1M18 74h1M18 75h1M18 76h1M18 78h1M18 79h1M18 80h1M16 81h2M14 82h3M1 83h2M13 83h2M2 84h3M11 84h3M5 85h7"/>
<path id="p2_8" d="M59 9h1M63 10h1M64 11h1M65 12h1M47 14h1M46 18h1M46 21h1M46 23h1M67 23h1M67 24h1M47 25h1M47 26h1M66 26h1M48 27h1M48 28h1M65 28h1M65 29h1M65 30h1M49 31h1M49 32h1M64 32h1M63 34h1M51 35h1M62 35h1M61 36h1M53 37h1M60 37h1M54 38h2M57 38h2M9 62h3M3 63h11M2 64h1M13 64h2M1 65h1M14 65h2M15 66h1M0 67h1M16 67h1M0 68h1M16 68h2M17 69h1M17 70h1M17 71h1M17 73h1M17 74h1M17 75h1M17 76h1M17 77h1M17 78h1M0 79h1M16 79h2M0 80h1M15 80h2M1 81h1M15 81h1M1 82h2M13 82h1M3 83h2M11 83h2M6 84h5"/>
<path id="p2_9" d="M56 9h1M58 9h1M52 10h1M61 10h2M50 11h1M63 11h1M64 12h1M48 13h1M65 13h1M66 14h1M66 15h1M67 18h1M46 20h1M67 20h1M67 21h1M67 22h1M47 24h1M66 25h1M65 27h1M64 30h1M64 31h1M50 33h1M63 33h1M59 37h1M56 38h1M3 64h5M9 64h4M2 65h1M12 65h2M1 66h1M13 66h2M14 67h2M15 68h1M0 69h1M16 69h1M0 70h1M16 70h1M16 71h1M16 72h1M16 73h1M16 74h1M16 75h1M16 76h1M0 77h1M16 77h1M0 78h1M16 78h1M15 79h1M1 80h1M14 80h1M2 81h1M12 81h2M3 82h1M11 82h2M5 83h6"/>
<path id="p2_10" d="M60 10h1M50 12h1M49 13h1M48 14h1M65 14h1M66 16h1M47 17h1M47 18h1M66 22h1M47 23h1M66 23h1M48 25h1M65 25h1M65 26h1M50 31h1M50 32h1M63 32h1M53 36h1M60 36h1M55 37h1M3 65h9M2 66h1M12 66h1M1 67h1M13 67h1M1 68h1M14 68h1M14 69h2M15 70h1M15 71h1M0 72h1M15 72h1M15 73h1M15 74h1M0 75h1M15 75h1M0 76h1M15 76h1M15 77h1M14 78h2M1 79h1M13 79h2M2 80h1M12 80h1M3 81h1M11 81h1M4 82h7"/>
<path id="p2_11" d="M54 10h6M52 11h1M62 11h1M51 12h1M63 12h1M64 13h1M49 14h1M48 15h1M65 15h1M48 16h1M66 17h1M66 18h1M47 19h1M66 19h1M47 20h1M66 20h1M47 21h1M66 21h1M48 24h1M49 27h1M64 27h1M50 29h1M50 30h1M63 30h1M63 31h1M51 33h1M62 33h1M61 34h1M60 35h1M54 36h1M59 36h1M57 37h1M3 66h3M7 66h5M2 67h1M11 67h2M12 68h2M1 69h1M13 69h1M1 70h1M14 70h1M14 71h1M14 72h1M0 73h1M14 73h1M0 74h1M14 74h1M14 75h1M14 76h1M1 77h1M14 77h1M1 78h1M13 78h1M2 79h1M12 79h1M3 80h1M10 80h2M4 81h7"/>
<path id="p2_12" d="M53 11h1M60 11h2M62 12h1M50 13h1M63 13h1M64 14h1M49 15h1M65 16h1M48 17h1M48 18h1M48 23h1M65 23h1M49 26h1M64 26h1M50 28h1M63 29h1M51 31h1M51 32h1M62 32h1M61 33h1M52 34h1M60 34h1M53 35h1M59 35h1M55 36h1M58 36h1M6 66h1M3 67h2M8 67h3M2 68h1M10 68h2M2 69h1M12 69h1M12 70h2M1 71h1M13 71h1M1 72h1M13 72h1M13 73h1M13 74h1M1 75h1M13 75h1M1 76h1M13 76h1M12 77h2M2 78h1M11 78h2M3 79h1M10 79h2M4 80h6"/>
<path id="p2_13" d="M54 11h1M59 11h1M52 12h1M61 12h1M51 13h1M50 14h1M64 15h1M49 16h1M65 17h1M65 18h1M48 19h1M65 19h1M48 20h1M65 20h1M48 21h1M65 21h1M48 22h1M65 22h1M49 25h1M64 25h1M50 27h1M63 27h1M63 28h1M51 29h1M51 30h1M62 30h1M62 31h1M52 32h1M61 32h1M52 33h1M53 34h1M54 35h1M56 36h2M5 67h3M3 68h2M8 68h2M3 69h1M10 69h2M2 70h1M11 70h1M2 71h1M11 71h2M12 72h1M1 73h1M12 73h1M1 74h1M12 74h1M12 75h1M2 76h1M11 76h2M2 77h2M11 77h1M3 78h2M9 78h2M4 79h6"/>
<path id="p2_14" d="M55 11h4M53 12h1M60 12h1M52 13h1M62 13h1M51 14h1M63 14h1M50 15h1M64 16h1M49 17h1M49 18h1M64 23h1M49 24h1M64 24h1M50 26h1M63 26h1M51 28h1M62 29h1M52 30h1M52 31h1M61 31h1M60 32h1M53 33h1M60 33h1M59 34h1M55 35h4M5 68h3M4 69h1M8 69h2M3 70h1M9 70h2M10 71h1M2 72h1M10 72h2M2 73h1M10 73h2M2 74h1M10 74h2M2 75h2M10 75h2M3 76h2M9 76h2M4 77h7M5 78h4"/>
<path id="p2_15" d="M54 12h1M59 12h1M53 13h1M61 13h1M52 14h1M62 14h1M51 15h1M63 15h1M50 16h1M50 17h1M64 17h1M64 18h1M49 19h1M64 19h1M49 20h1M64 20h1M49 21h1M64 21h1M49 22h1M64 22h1M49 23h1M50 25h1M63 25h1M51 27h1M62 28h1M52 29h1M61 30h1M53 31h1M60 31h1M53 32h1M59 32h1M54 33h1M58 33h2M54 34h2M57 34h2M5 69h3M4 70h5M3 71h3M7 71h3M3 72h2M7 72h3M3 73h7M3 74h7M4 75h6M5 76h4"/>
<path id="p2_16" d="M55 12h4M60 13h1M61 14h1M62 15h1M51 16h1M63 16h1M63 17h1M50 18h1M50 19h1M50 24h1M63 24h1M51 26h1M62 27h1M52 28h1M61 28h1M53 29h1M61 29h1M53 30h2M60 30h1M54 31h2M58 31h2M54 32h5M55 33h3M56 34h1M6 71h1M5 72h2"/>
<path id="p2_17" d="M54 13h1M59 13h1M53 14h1M52 15h1M62 16h1M51 17h1M63 18h1M63 19h1M50 20h1M63 20h1M50 21h1M63 21h1M50 22h1M63 22h1M50 23h1M63 23h1M51 25h1M62 26h1M52 27h1M61 27h1M53 28h1M54 29h2M59 29h2M55 30h5M56 31h2"/>
<path id="p2_18" d="M55 13h4M54 14h1M60 14h1M53 15h1M61 15h1M52 16h1M62 17h1M51 18h1M62 18h1M51 19h1M62 19h1M51 24h1M62 24h1M62 25h1M52 26h1M61 26h1M53 27h1M54 28h2M59 28h2M56 29h3"/>
<path id="p2_19" d="M55 14h1M59 14h1M60 15h1M53 16h1M61 16h1M52 17h1M61 17h1M51 20h1M62 20h1M51 21h1M62 21h1M51 22h1M62 22h1M51 23h1M62 23h1M52 25h1M61 25h1M53 26h1M54 27h2M60 27h1M56 28h3"/>
<path id="p2_20" d="M56 14h3M54 15h1M59 15h1M60 16h1M52 18h1M61 18h1M52 19h1M61 19h1M52 20h1M61 20h1M52 21h1M61 21h1M52 22h1M61 22h1M52 23h1M61 23h1M52 24h1M61 24h1M53 25h1M54 26h2M60 26h1M56 27h4"/>
<path id="p2_21" d="M55 15h1M58 15h1M54 16h1M53 17h1M60 17h1M53 18h1M53 22h1M53 23h1M53 24h2M60 24h1M54 25h3M59 25h2M56 26h4"/>
<path id="p2_22" d="M56 15h2M55 16h1M59 16h1M54 17h1M60 18h1M53 19h1M60 19h1M53 20h1M60 20h1M53 21h1M60 21h1M54 22h1M59 22h2M54 23h7M55 24h5M57 25h2"/>
<path id="p2_23" d="M56 16h3M59 17h1M54 18h1M59 18h1M54 19h1M59 19h1M54 20h1M59 20h1M54 21h2M58 21h2M55 22h4"/>
<path id="p2_24" d="M55 17h4M55 18h1M58 18h1M55 19h1M58 19h1M55 20h4M56 21h2"/>
<path id="p2_25" d="M56 18h2M56 19h2"/>
<clipPath id="c3"><rect x="127.00" y="131.70" width="90.10" height="89.70"/></clipPath>
<path id="p3_1" d="M79 3h1M49 5h1M67 5h1M50 6h1M72 6h1M83 6h1M78 8h1M42 10h1M83 11h1M29 12h1M46 12h1M2 14h1M14 14h1M16 15h1M51 15h1M88 15h1M6 16h1M19 17h1M48 17h1M8 18h1M25 18h1M1 19h1M10 19h1M40 19h1M3 20h1M34 20h1M88 20h1M3 21h1M14 21h1M50 21h1M87 21h1M19 22h1M29 23h1M40 23h1M86 24h1M37 27h1M86 27h1M23 28h1M1 29h1M27 29h1M29 29h1M37 29h1M23 30h1M79 30h1M87 30h1M38 31h1M39 32h1M28 33h1M84 33h1M83 34h1M38 36h1M33 37h1M81 37h1M83 37h1M39 38h1M38 39h1M90 39h1M79 40h1M45 41h1M78 41h1M1 42h1M35 42h1M25 43h1M45 43h1M72 43h1M83 43h1M26 44h1M41 44h1M49 45h1M55 45h1M68 45h1M45 46h1M50 46h1M89 46h1M67 47h1M46 48h1M52 48h1M55 50h1M69 50h1M80 50h1M45 51h1M64 51h1M70 51h1M74 51h1M78 51h1M81 51h1M88 51h1M46 53h1M59 53h1M84 53h1M59 54h1M81 55h1M55 56h1M59 56h1M70 56h1M79 56h1M49 57h2M52 57h1M61 57h1M64 57h1M67 57h1M83 57h1M54 58h1M84 58h1M79 59h1M50 60h1M58 60h1M64 60h1M56 61h1M66 61h1M74 61h1M48 62h1M59 62h1M59 63h1M64 63h1M75 63h1M88 63h1M51 64h1M79 64h1M80 65h1M48 66h1M50 67h1M55 67h1M63 67h1M67 67h1M70 67h1M75 68h1M77 68h1M79 69h1M47 70h1M86 70h1M74 72h1M65 73h1M72 73h1M79 73h1M84 74h1M58 75h1M68 75h1M77 76h1M52 77h1M68 78h1M77 79h1M84 79h1M53 80h1M55 81h1M58 81h1M68 81h1M77 81h1M55 83h1M79 83h1M42 84h1M48 84h1M53 84h1M60 84h1M72 84h1M88 84h1M58 85h1M43 86h1M47 86h1M80 87h1M38 88h1M63 88h1M35 89h1M49 89h1M56 89h1M62 89h1M76 89h1"/>
<path id="p3_2" d="M62 4h1M59 5h1M55 6h2M61 6h2M64 7h1M51 8h1M53 8h2M64 8h1M66 8h2M61 9h1M75 9h1M58 10h1M61 10h1M52 11h1M56 11h1M61 11h1M55 12h1M57 12h1M54 13h2M59 13h1M83 13h1M81 14h1M83 14h1M54 15h1M56 15h1M83 16h1M85 16h1M45 17h2M54 17h1M84 17h1M45 19h1M53 19h1M83 19h1M41 20h1M47 20h1M8 21h1M83 21h1M8 22h1M15 22h1M43 22h1M45 22h1M53 22h2M10 23h1M17 23h1M42 23h1M45 23h1M54 23h1M5 24h3M17 24h1M42 24h1M45 24h1M47 24h1M3 25h1M5 25h1M9 25h3M50 25h1M53 25h1M80 25h1M13 26h1M49 26h1M51 26h1M79 26h1M9 27h1M11 27h1M15 27h2M49 27h2M53 27h1M77 27h1M5 28h2M13 28h1M16 28h1M46 28h1M48 28h1M16 29h1M43 29h3M47 29h2M52 29h1M77 29h1M18 30h1M46 30h1M41 31h1M46 31h1M49 31h1M52 31h1M71 31h1M73 31h1M76 31h1M3 32h1M17 32h1M45 32h1M50 32h1M72 32h1M3 33h1M18 33h2M25 33h1M71 33h1M76 33h1M3 34h1M23 34h1M43 34h1M50 34h1M53 34h1M67 34h1M69 34h2M75 34h1M78 34h1M80 34h1M18 35h1M24 35h1M44 35h1M70 35h1M76 35h1M79 35h1M4 36h1M20 36h1M39 36h1M50 36h1M55 36h1M67 36h1M69 36h1M6 37h1M16 37h1M18 37h1M21 37h1M46 37h1M51 37h2M54 37h1M72 37h1M75 37h1M3 38h1M18 38h1M20 38h1M51 38h1M69 38h1M71 38h1M74 38h1M5 39h1M18 39h1M45 39h2M65 39h1M68 39h1M77 39h1M3 40h1M5 40h1M51 40h1M65 40h1M15 41h1M17 41h2M56 41h2M64 41h1M68 41h1M15 42h1M50 42h2M60 42h1M63 42h1M7 43h1M20 43h1M61 43h1M64 43h2M3 44h1M5 44h1M7 44h1M11 44h1M15 44h1M21 44h1M57 44h1M39 45h1M57 45h1M10 46h1M14 46h1M16 46h1M20 46h1M37 46h1M64 46h1M2 47h1M5 47h2M9 47h1M11 47h2M17 47h1M20 47h1M34 47h1M37 47h1M40 47h1M60 47h1M64 47h1M19 48h1M25 48h3M37 48h1M1 49h2M13 49h1M18 49h1M21 49h1M34 49h1M38 49h1M41 49h1M60 49h2M63 49h1M17 50h1M23 50h1M30 50h1M34 50h1M32 51h1M39 51h1M27 52h1M29 52h1M34 52h1M40 52h3M44 53h1M36 54h1M39 54h3M34 55h1M38 55h1M38 56h1M43 56h1M38 57h1M42 57h2M37 58h1M43 58h3M34 59h1M36 60h2M41 60h2M44 60h1M39 61h1M38 62h1M47 62h1M39 63h1M43 63h1M39 64h1M42 65h1M44 65h2M40 67h1M44 67h2M79 68h1M43 69h1M40 70h1M44 70h1M38 73h1M41 73h1M43 74h2M43 75h1M38 76h1M46 76h1M35 77h1M38 77h1M42 77h2M45 77h1M35 78h1M44 78h1M46 78h1M34 79h1M38 79h1M43 79h1M47 79h1M33 80h1M38 80h1M34 81h1M37 81h1M40 81h2M44 81h1M37 82h1M35 84h1M37 84h1M33 85h1M39 85h1M31 86h3M35 86h1M38 86h1M53 86h1M48 87h1M53 87h1M53 88h1M27 89h1M30 89h1"/>
<path id="p3_3" d="M69 9h1M68 10h4M74 10h1M65 11h1M67 11h2M75 11h1M77 11h1M62 12h1M65 12h2M71 12h1M74 12h1M76 12h3M63 13h3M77 13h1M60 14h1M62 14h1M65 14h1M78 14h1M59 15h3M65 15h1M79 15h1M56 16h1M60 16h3M79 16h2M58 17h1M62 17h2M54 18h2M58 18h1M60 18h3M79 18h1M81 18h2M54 19h3M60 19h1M80 19h3M55 20h1M59 20h1M79 20h1M81 20h1M58 21h2M61 21h2M78 21h2M60 22h3M79 22h1M56 23h1M76 23h3M58 24h4M78 24h1M7 25h1M54 25h3M59 25h4M64 25h3M76 25h1M7 26h1M55 26h1M57 26h1M62 26h2M65 26h1M67 26h1M57 27h2M60 27h2M63 27h3M70 27h3M7 28h1M60 28h1M62 28h1M65 28h1M72 28h2M10 29h1M12 29h1M15 29h1M56 29h1M58 29h1M61 29h1M63 29h1M66 29h3M72 29h2M7 30h1M11 30h1M16 30h1M54 30h1M56 30h4M61 30h1M63 30h1M66 30h1M69 30h2M6 31h1M9 31h1M11 31h2M14 31h1M56 31h1M60 31h1M63 31h2M67 31h1M6 32h1M9 32h5M15 32h2M54 32h2M57 32h1M59 32h1M62 32h4M7 33h2M12 33h2M56 33h4M66 33h1M7 34h3M11 34h2M14 34h2M59 34h1M7 35h1M9 35h3M14 35h1M60 35h2M63 35h1M66 35h1M10 36h1M14 36h1M57 36h4M63 36h1M65 36h1M11 37h3M56 37h1M60 37h1M9 38h2M12 38h1M57 38h3M61 38h1M63 38h2M9 39h1M11 39h3M57 39h1M59 39h1M61 39h1M8 40h1M10 40h3M58 40h1M7 41h1M10 41h2M59 41h2M8 42h1M10 42h1M10 44h1M5 48h2M4 49h2M7 49h3M11 49h1M5 50h2M8 50h1M10 50h2M13 50h1M1 51h3M7 51h1M14 51h1M17 51h3M21 51h1M2 52h1M4 52h3M12 52h1M17 52h1M22 52h3M33 52h1M2 53h1M14 53h1M20 53h2M23 53h1M25 53h1M32 53h1M1 54h2M24 54h2M30 54h1M32 54h2M1 55h1M28 55h1M31 55h2M26 56h1M30 56h1M25 57h3M30 57h4M27 58h2M30 58h2M27 59h1M27 60h2M32 60h2M31 61h1M36 61h1M28 62h4M34 62h2M37 62h1M32 63h2M29 64h1M32 64h1M35 64h2M29 65h2M32 65h4M37 65h1M30 66h1M32 66h1M34 66h2M37 66h1M29 67h1M34 67h2M38 67h2M31 68h2M37 68h1M39 68h1M31 69h1M38 69h2M33 70h3M31 71h1M35 71h1M37 71h1M32 72h1M37 72h2M32 73h2M35 73h3M31 74h1M34 74h1M31 75h1M33 75h3M34 76h1M30 78h1M31 82h1M33 82h1M30 83h1M33 83h1M30 84h2M28 86h1M24 88h2M22 89h2M26 89h1M23 90h1"/>
<path id="p3_4" d="M67 12h2M67 13h2M70 13h1M73 13h2M76 13h1M67 14h4M72 14h1M74 14h1M66 15h1M73 15h1M75 15h3M66 16h1M74 16h2M78 16h1M66 17h1M74 17h3M64 18h1M66 18h1M75 18h4M63 19h3M74 19h1M78 19h1M64 20h2M75 20h2M64 21h2M75 21h1M64 22h2M72 22h3M65 23h1M67 23h2M71 23h1M73 23h1M75 23h1M68 24h3M72 24h3M68 25h7M69 26h2M72 26h2M58 32h1M10 33h2M7 52h2M10 52h1M7 53h5M6 54h1M8 54h6M16 54h4M21 54h2M4 55h1M6 55h1M12 55h3M16 55h1M19 55h1M22 55h2M2 56h2M12 56h1M17 56h1M20 56h3M17 57h5M17 58h2M20 58h1M22 58h3M22 59h2M26 59h1M23 60h4M25 61h2M24 62h1M26 62h1M24 63h3M24 64h4M25 66h4M26 67h3M26 68h2M29 68h1M27 69h1M30 69h1M26 70h1M29 70h2M25 71h2M28 71h1M30 71h1M27 72h1M29 72h1M28 73h1M30 73h2M26 74h5M25 75h1M28 75h3M24 76h1M26 76h2M25 77h1M28 77h2M23 78h3M28 78h1M24 79h2M27 79h2M23 80h1M25 80h4M26 81h1M29 81h1M22 82h1M24 82h2M27 82h3M22 83h2M25 83h3M22 84h2M25 84h5M23 85h1M25 85h2M23 86h3M21 87h1M24 87h1M21 88h2M20 89h2"/>
<path id="p3_5" d="M68 15h1M70 15h2M68 16h1M70 16h4M67 17h5M73 17h1M68 18h7M66 19h7M66 20h1M69 20h5M66 21h5M72 21h1M69 22h3M69 23h2M7 55h2M10 55h1M6 56h6M3 57h2M6 57h1M8 57h2M11 57h5M1 58h1M10 58h2M14 58h3M12 59h2M15 59h2M20 59h2M13 60h10M16 61h1M18 61h5M15 62h2M19 62h5M16 63h8M17 64h3M21 64h3M19 65h2M22 65h2M20 66h3M24 66h1M21 67h5M21 68h5M23 69h1M25 69h1M23 70h3M22 71h3M22 72h3M22 73h1M24 73h1M22 74h3M22 75h3M22 76h1M22 77h2M22 78h1M22 79h1M21 80h1M21 81h1M21 82h1M21 83h1M21 84h1M21 85h1M20 87h1M19 89h1"/>
<path id="p3_6" d="M2 58h2M5 58h5M9 59h3M11 60h2M12 61h2M13 62h2M15 63h1M16 64h1M16 65h3M18 66h2M18 67h3M19 68h2M19 69h2M20 70h2M20 71h1M21 72h1M21 73h1M21 74h1M21 76h1M21 78h1M20 85h1M19 88h1"/>
<path id="p3_7" d="M1 59h2M5 59h3M9 60h2M11 61h1M12 62h1M13 63h1M14 64h1M15 65h1M16 66h1M17 67h1M17 68h2M18 69h1M19 70h1M19 71h1M19 72h2M20 73h1M20 74h1M20 76h1M20 78h1M20 79h1M20 80h1M20 81h1M20 82h1M19 87h1M18 89h1"/>
<path id="p3_8" d="M3 59h2M7 60h2M10 61h1M11 62h1M12 63h1M14 65h1M17 69h1M18 70h1M18 71h1M19 73h1M19 74h1M19 75h1M19 84h1M19 85h1M18 88h1"/>
<path id="p3_9" d="M1 60h2M5 60h2M10 62h1M15 67h1M16 68h1M16 69h1M17 70h1M18 72h1M18 73h1M19 76h1M19 77h1M19 78h1M19 79h1M19 80h1M19 82h1M18 87h1M17 89h1"/>
<path id="p3_10" d="M1 61h1M7 61h2M9 62h1M11 63h1M12 64h1M13 65h1M14 66h1M15 68h1M16 70h1M17 71h1M17 72h1M18 74h1M18 75h1M18 85h1M18 86h1M15 90h1"/>
<path id="p3_11" d="M2 61h1M6 61h1M8 62h1M10 63h1M12 65h1M13 66h1M15 69h1M16 71h1M17 73h1M18 76h1M18 77h1M18 78h1M18 80h1M18 81h1M18 82h1M18 84h1M17 87h1M16 89h1M13 90h2"/>
<path id="p3_12" d="M3 61h2M1 62h1M7 62h1M9 63h1M0 64h1M0 65h1M0 66h1M13 67h1M14 68h1M15 70h1M16 72h1M17 74h1M17 75h1M17 85h1M17 86h1M16 88h1M15 89h1M7 90h6M1 91h1M3 91h2"/>
<path id="p3_13" d="M2 62h1M5 62h2M1 63h1M8 63h1M10 64h1M11 65h1M12 66h1M0 67h1M0 68h1M0 69h1M14 69h1M0 70h1M0 71h1M15 71h1M16 73h1M17 76h1M17 77h1M17 78h1M17 79h1M17 80h1M17 81h1M17 82h1M17 83h1M17 84h1M16 87h1M14 89h1M0 90h1M6 90h1M2 91h1"/>
<path id="p3_14" d="M3 62h2M6 63h2M1 64h1M9 64h1M10 65h1M11 66h1M12 67h1M13 68h1M13 69h1M14 70h1M14 71h1M0 72h1M15 72h1M0 73h1M15 73h1M0 74h1M16 74h1M0 75h1M16 75h1M0 76h1M16 76h1M0 77h1M0 78h1M0 79h1M0 80h1M0 81h1M0 82h1M0 83h1M0 84h1M0 85h1M16 85h1M16 86h1M15 88h1M8 89h6M5 90h1"/>
<path id="p3_15" d="M2 63h4M7 64h2M1 65h1M9 65h1M1 66h1M10 66h1M1 67h1M11 67h1M12 68h1M12 69h1M13 70h1M13 71h1M14 72h1M14 73h1M15 74h1M15 75h1M16 77h1M16 78h1M16 79h1M16 80h1M16 81h1M16 82h1M16 83h1M16 84h1M0 86h1M15 86h1M15 87h1M12 88h3M0 89h1M6 89h2M1 90h1M4 90h1"/>
<path id="p3_16" d="M2 64h5M2 65h1M7 65h2M9 66h1M10 67h1M1 68h1M10 68h2M1 69h1M11 69h1M1 70h1M11 70h2M1 71h1M12 71h1M1 72h1M12 72h2M1 73h1M13 73h1M1 74h1M13 74h2M1 75h1M14 75h1M1 76h1M14 76h2M1 77h1M15 77h1M1 78h1M14 78h2M1 79h1M14 79h2M1 80h1M15 80h1M1 81h1M15 81h1M1 82h1M14 82h2M1 83h1M14 83h2M14 84h2M14 85h2M13 86h2M0 87h1M11 87h4M0 88h1M7 88h5M5 89h1M2 90h2"/>
<path id="p3_17" d="M3 65h4M2 66h1M5 66h4M2 67h1M6 67h4M2 68h1M7 68h3M7 69h4M7 70h4M7 71h5M7 72h5M7 73h6M7 74h6M7 75h7M6 76h8M6 77h9M6 78h8M6 79h8M7 80h8M7 81h8M8 82h6M8 83h6M1 84h1M7 84h7M1 85h1M7 85h7M7 86h6M6 87h5M5 88h2M1 89h1M4 89h1"/>
<path id="p3_18" d="M3 66h2M3 67h3M3 68h4M2 69h5M2 70h1M4 70h3M2 71h1M5 71h2M2 72h1M5 72h2M2 73h1M5 73h2M2 74h1M5 74h2M2 75h1M4 75h3M2 76h4M2 77h4M2 78h4M2 79h4M2 80h5M2 81h1M5 81h2M2 82h1M5 82h3M2 83h1M5 83h3M2 84h1M5 84h2M5 85h2M1 86h1M5 86h2M1 87h1M5 87h1M1 88h1M2 89h2"/>
<path id="p3_19" d="M3 70h1M3 71h2M3 72h2M3 73h2M3 74h2M3 75h1M3 81h2M3 82h2M3 83h2M3 84h2M2 85h3M2 86h3M4 87h1M4 88h1"/>
<path id="p3_20" d="M2 87h2M2 88h2"/>
<clipPath id="c4"><rect x="23.90" y="286.20" width="92.90" height="93.20"/></clipPath>
<path id="p4_1" d="M31 1h1M19 2h1M25 2h1M30 6h1M24 16h1M12 18h1M21 18h1M20 19h1M16 25h1M9 27h1M20 29h1M17 31h1M22 35h1M3 36h1M12 37h1M7 39h1M20 42h1M4 44h1M12 45h1M2 46h1M1 49h1M6 50h1M91 60h1M90 64h1M91 67h1M88 71h1M82 75h1M67 76h1M79 77h1M89 77h1M55 80h1M61 80h1M51 81h1M76 82h1M90 82h1M62 83h1M46 84h1M57 84h1M69 84h1M64 85h1M83 86h1M90 86h1M54 89h1M44 91h1M60 91h1M76 91h1M38 93h1M68 93h1"/>
<path id="p4_2" d="M36 1h1M33 2h1M39 2h1M88 3h1M35 4h1M82 4h1M84 4h1M87 4h1M34 5h1M89 5h2M86 6h1M92 6h1M27 7h1M84 7h1M88 7h1M91 7h2M27 8h1M92 10h1M27 11h1M93 13h1M27 14h1M27 18h1M12 19h1M93 19h1M15 20h1M14 21h1M25 22h1M93 22h1M93 23h1M93 24h1M93 25h1M27 28h1M91 30h1M93 30h1M22 31h1M24 31h1M91 32h1M21 33h1M29 33h1M27 34h2M27 35h1M91 35h1M89 36h1M91 36h1M23 39h1M90 39h1M22 40h1M89 40h1M91 40h1M24 41h1M26 41h1M25 42h1M24 43h1M91 43h1M92 44h1M26 46h1M24 48h1M88 48h1M92 48h1M22 49h1M91 50h2M20 51h1M90 54h2M12 55h2M15 55h1M5 57h1M11 57h1M89 57h1M5 58h2M84 58h1M90 58h1M3 59h1M87 59h1M82 61h1M2 62h1M82 62h1M86 62h1M83 63h1M85 63h1M82 64h1M1 65h1M78 66h1M86 66h2M82 67h1M43 68h1M77 68h1M80 68h1M43 69h1M79 69h2M47 70h1M49 70h1M78 70h1M84 70h1M39 71h1M58 71h1M78 71h1M46 72h1M48 72h1M74 72h1M76 72h1M81 72h1M85 72h1M50 73h1M58 73h1M65 73h1M69 73h2M74 73h1M77 73h1M41 74h1M65 74h1M72 74h1M77 74h1M84 74h1M41 75h1M45 75h1M51 75h1M58 75h1M62 75h1M45 76h1M48 76h2M52 76h1M55 76h1M47 77h1M49 77h1M58 77h1M61 77h1M72 77h2M48 78h1M42 79h1M44 79h1M43 80h1M47 81h1M46 82h1M49 82h1M64 82h1M67 83h1M40 84h1M67 84h1M35 89h1M29 94h1"/>
<path id="p4_3" d="M51 1h2M54 1h1M73 1h1M49 2h1M68 2h1M75 2h1M77 2h1M39 3h1M41 3h1M43 3h2M49 3h1M76 3h1M41 4h1M35 5h1M38 5h1M34 6h1M36 6h2M80 6h1M88 6h1M90 7h1M34 9h1M83 9h1M86 10h1M88 10h1M90 10h1M31 11h1M87 11h1M89 11h1M30 12h1M84 12h2M88 12h1M90 12h1M92 12h1M32 13h1M92 13h1M29 14h1M88 14h1M91 14h1M31 15h1M86 15h1M29 16h1M89 16h1M91 16h1M28 17h1M31 17h1M89 17h1M30 18h1M92 18h1M27 19h1M30 19h1M90 19h2M29 20h1M89 20h1M26 21h1M30 21h1M91 21h1M26 22h1M29 22h1M27 23h3M87 23h1M26 24h2M31 24h1M90 24h2M29 25h1M31 25h1M86 25h1M89 25h1M28 26h1M33 26h1M88 26h1M91 26h1M28 27h1M30 27h2M90 27h1M29 28h1M33 28h1M89 28h1M29 29h1M33 29h1M31 30h1M88 30h1M31 31h2M34 31h1M90 31h1M33 32h2M89 32h1M32 33h1M86 33h2M30 34h1M34 34h1M85 34h1M87 34h2M29 35h1M85 35h1M30 36h1M33 36h1M84 36h1M83 37h1M85 37h1M28 38h1M31 38h1M82 38h1M85 38h1M28 39h1M30 39h1M86 39h1M28 40h1M84 40h1M81 41h2M85 41h2M31 42h2M82 42h1M30 43h1M32 43h2M84 43h1M90 43h1M28 44h2M31 44h1M85 44h1M87 44h2M27 45h2M86 45h1M88 45h3M29 46h1M83 46h1M88 46h2M28 47h1M30 47h1M81 47h2M88 47h1M28 48h1M84 48h1M26 49h1M29 49h1M79 49h1M86 49h1M80 50h1M83 50h1M86 50h1M22 51h1M83 51h3M21 52h1M79 52h3M86 52h2M21 53h1M81 53h1M83 53h1M85 53h1M88 53h1M18 54h1M87 54h1M89 54h1M19 55h1M79 55h2M89 55h1M80 56h2M85 56h2M16 57h1M78 57h1M80 57h1M87 57h1M12 58h1M76 58h1M86 58h1M14 59h1M78 59h4M12 60h1M78 60h1M6 61h3M10 61h2M75 61h2M79 61h1M6 62h1M58 62h1M76 62h1M5 63h1M45 63h1M62 63h1M65 63h1M74 63h2M78 63h1M46 64h1M58 64h1M62 64h3M67 64h1M76 64h2M4 65h1M41 65h1M45 65h2M48 65h1M66 65h1M75 65h1M41 66h1M43 66h1M45 66h1M48 66h2M55 66h6M64 66h1M68 66h1M3 67h1M37 67h1M43 67h1M46 67h1M51 67h1M54 67h1M59 67h1M61 67h1M63 67h3M73 67h1M2 68h1M46 68h1M54 68h2M62 68h1M64 68h3M73 68h1M75 68h1M1 69h1M53 69h2M59 69h1M62 69h1M66 69h2M74 69h1M56 70h1M60 70h1M62 70h3M67 70h1M69 70h4M37 71h1M54 71h1M62 71h2M71 71h1M74 71h1M40 72h1M54 72h1M56 72h1M66 72h1M34 73h1M38 73h3M53 73h1M55 73h1M36 74h3M54 74h1M40 75h1M36 76h1M38 77h1M40 78h1M40 79h1M37 80h1M39 80h2M38 82h2M39 84h1M37 85h1M39 85h1M37 86h1M34 88h1M32 90h1M32 91h1M27 92h1M30 92h1M32 92h1M25 93h1M28 93h1M30 93h1M1 94h1M16 94h1"/>
<path id="p4_4" d="M53 2h1M57 2h3M63 2h2M70 2h1M73 2h1M50 3h1M53 3h1M69 3h2M72 3h1M74 3h2M43 4h3M47 4h1M50 4h1M40 5h1M44 5h2M76 5h2M40 6h3M38 7h1M40 7h1M79 7h1M36 8h1M38 8h1M81 8h1M35 9h2M34 10h2M37 10h1M81 10h2M34 11h3M82 11h2M35 12h2M36 13h1M84 14h1M33 15h2M36 15h1M83 15h1M85 15h1M33 16h3M85 16h1M34 17h2M84 17h1M86 17h2M31 18h1M33 18h2M86 18h2M35 19h1M85 19h1M88 19h2M32 20h1M35 20h1M85 20h2M88 20h1M31 21h4M85 21h3M32 22h1M34 22h2M83 22h1M85 22h2M35 23h2M84 23h1M33 24h2M37 24h1M84 24h1M34 25h2M35 26h1M36 27h2M84 27h1M85 28h2M36 29h2M86 29h1M35 30h1M85 30h3M35 31h1M85 31h1M35 32h1M83 32h1M36 33h2M82 33h1M37 34h1M80 34h3M34 35h1M37 35h1M80 35h1M82 35h2M36 36h1M80 36h1M33 37h3M37 37h1M79 37h3M33 38h3M33 39h3M78 39h1M80 39h1M36 40h1M78 40h1M80 40h1M78 41h1M37 42h1M35 43h2M77 43h2M80 43h1M82 43h2M35 44h2M81 44h1M83 44h1M32 45h1M35 45h1M77 45h1M79 45h1M82 45h2M33 46h2M77 46h4M82 46h1M31 47h1M34 47h2M78 47h1M33 48h1M35 48h1M78 48h2M31 49h2M34 49h1M31 50h3M35 50h1M24 51h1M29 51h2M32 51h1M34 51h2M22 52h1M25 52h2M28 52h1M31 52h1M78 52h1M23 53h1M28 53h1M70 53h1M21 54h1M23 54h1M71 54h6M69 55h1M73 55h1M76 55h3M18 56h1M70 56h1M72 56h1M74 56h1M17 57h1M19 57h1M48 57h1M72 57h2M75 57h1M16 58h2M47 58h2M50 58h1M61 58h1M74 58h1M17 59h1M46 59h2M51 59h1M60 59h1M62 59h2M73 59h3M13 60h1M15 60h2M43 60h1M45 60h1M49 60h3M59 60h2M62 60h3M66 60h1M71 60h1M73 60h1M13 61h3M43 61h1M49 61h1M51 61h1M54 61h1M56 61h2M61 61h1M65 61h2M68 61h3M13 62h1M41 62h1M44 62h1M52 62h1M54 62h3M64 62h1M68 62h1M70 62h2M74 62h1M6 63h2M13 63h1M39 63h1M42 63h2M49 63h2M52 63h2M71 63h1M7 64h1M9 64h2M38 64h1M49 64h2M70 64h3M5 65h3M10 65h1M36 65h1M39 65h1M50 65h1M53 65h2M69 65h2M72 65h2M6 66h2M10 66h1M35 66h1M37 66h1M51 66h2M54 66h1M71 66h2M6 67h2M34 67h1M69 67h1M71 67h1M3 68h1M5 68h2M8 68h1M35 68h1M70 68h1M5 69h1M34 69h1M1 70h2M32 70h2M32 71h3M29 72h2M33 72h1M30 73h1M33 73h1M28 74h1M33 74h1M29 75h3M33 75h1M28 76h2M33 76h1M30 77h1M33 77h1M35 77h1M33 78h2M34 79h3M34 80h1M36 80h1M36 81h1M35 82h1M37 82h1M34 83h2M33 84h1M35 84h1M37 84h1M35 85h2M32 86h1M34 86h1M32 87h2M31 88h2M31 89h2M28 90h3M25 91h2M29 91h1M19 92h1M22 92h3M1 93h1M9 93h1M11 93h1M13 93h2M16 93h2M21 93h3M5 94h1M8 94h1"/>
<path id="p4_5" d="M54 3h1M56 3h1M60 3h1M62 3h3M67 3h1M51 4h1M53 4h1M70 4h1M72 4h2M48 5h3M74 5h2M44 6h4M77 6h1M42 7h2M45 7h1M77 7h1M40 8h2M43 8h2M78 8h2M40 9h1M43 9h1M79 9h1M38 10h2M80 10h1M37 11h1M39 11h3M80 11h2M37 12h1M39 12h3M80 12h2M40 13h2M80 13h1M37 14h2M40 14h1M39 15h2M81 15h1M36 16h4M82 16h2M38 17h2M82 17h2M38 18h1M82 18h1M84 18h1M36 19h3M83 19h1M36 20h2M80 20h2M37 21h2M80 21h3M38 22h2M80 22h2M40 23h1M80 23h2M38 24h3M80 24h1M38 25h2M77 25h1M80 25h2M39 26h2M75 26h1M77 26h1M82 26h1M82 27h2M38 28h2M82 28h3M38 29h2M82 29h3M38 30h2M81 30h3M38 31h2M80 31h1M82 31h2M38 32h1M79 32h2M38 33h1M79 33h3M38 34h1M77 34h1M79 34h1M38 35h2M38 36h1M40 36h1M40 37h1M37 38h2M40 38h1M77 38h1M37 39h1M39 39h2M77 39h1M38 40h1M40 40h1M76 40h1M38 41h2M76 41h1M38 42h4M75 42h2M37 43h1M41 43h1M37 44h1M39 44h1M41 44h1M75 44h2M36 45h2M39 45h2M42 45h1M76 45h1M37 46h2M40 46h1M42 46h1M75 46h1M36 47h5M42 47h3M75 47h2M36 48h2M39 48h1M43 48h3M75 48h2M37 49h1M39 49h1M39 50h1M45 50h2M69 50h2M74 50h3M71 51h2M75 51h2M35 52h1M38 52h1M40 52h1M67 52h1M69 52h1M71 52h3M75 52h2M24 53h3M30 53h2M33 53h2M36 53h4M47 53h1M66 53h3M74 53h1M24 54h4M29 54h5M35 54h1M47 54h3M66 54h3M23 55h1M25 55h5M31 55h2M45 55h1M47 55h4M55 55h2M59 55h1M61 55h1M64 55h4M22 56h2M25 56h1M27 56h1M41 56h2M44 56h2M48 56h5M56 56h1M58 56h3M64 56h2M68 56h1M20 57h2M40 57h3M44 57h4M57 57h2M60 57h1M62 57h2M65 57h1M67 57h5M19 58h3M38 58h1M44 58h1M51 58h1M53 58h1M57 58h1M59 58h1M64 58h3M68 58h1M70 58h1M19 59h1M38 59h2M43 59h2M54 59h1M56 59h2M64 59h1M66 59h2M69 59h1M71 59h1M18 60h2M36 60h1M38 60h1M41 60h1M53 60h1M56 60h1M67 60h4M17 61h2M36 61h2M40 61h2M16 62h3M36 62h3M40 62h1M15 63h1M37 63h2M13 64h3M34 64h3M13 65h2M32 65h1M31 66h2M34 66h1M10 67h2M31 67h3M9 68h3M29 68h3M10 69h1M28 69h1M30 69h1M32 69h1M4 70h1M7 70h1M27 70h1M29 70h3M27 71h1M29 71h2M25 72h1M27 72h1M25 73h3M24 74h1M26 74h1M23 75h5M24 76h2M21 77h5M27 77h2M27 78h2M30 78h2M31 79h1M33 79h1M28 80h2M28 81h6M28 82h2M31 82h3M30 83h4M26 84h4M32 84h1M26 85h1M29 85h1M31 85h2M25 86h1M28 86h4M26 87h1M29 87h2M25 88h3M29 88h2M24 89h7M25 90h1M17 91h2M21 91h4M1 92h1M9 92h8M2 93h2M7 93h2"/>
<path id="p4_6" d="M61 3h1M55 4h2M67 4h3M51 5h1M71 5h3M49 6h2M74 6h2M47 7h1M76 7h1M45 8h2M45 9h1M43 10h2M78 10h1M42 11h1M42 12h2M79 12h1M43 13h1M41 14h3M42 15h2M80 15h1M40 16h2M43 16h1M81 16h1M40 17h1M42 17h1M80 17h2M40 18h1M42 18h2M79 18h2M40 19h4M78 19h3M39 20h3M43 20h1M39 21h2M79 21h1M40 22h3M76 22h3M41 23h1M74 23h2M77 23h3M41 24h2M73 24h1M76 24h1M78 24h2M41 25h1M72 25h3M78 25h1M41 26h2M73 26h1M78 26h2M40 27h1M73 27h3M77 27h5M40 28h1M74 28h1M76 28h1M79 28h3M40 29h2M75 29h7M40 30h1M75 30h3M80 30h1M40 31h2M75 31h2M78 31h1M40 32h2M76 32h2M76 33h1M40 34h2M75 34h2M40 35h2M75 35h1M41 36h1M75 36h2M42 37h1M75 37h2M41 38h2M75 38h2M42 39h1M75 39h1M43 40h1M74 40h2M41 41h1M43 41h1M74 41h2M42 42h2M73 42h2M42 43h2M73 43h1M42 44h3M73 44h2M44 45h2M73 45h1M46 46h1M73 46h2M45 47h2M72 47h3M40 48h2M47 48h1M66 48h1M69 48h1M71 48h4M40 49h4M46 49h1M48 49h1M65 49h3M69 49h4M40 50h2M44 50h1M48 50h1M64 50h5M71 50h3M41 51h1M43 51h2M48 51h1M64 51h1M67 51h1M41 52h1M43 52h3M47 52h1M49 52h2M52 52h1M54 52h1M57 52h2M60 52h5M66 52h1M43 53h3M49 53h4M54 53h2M57 53h4M62 53h4M38 54h3M42 54h4M50 54h4M56 54h2M59 54h6M34 55h6M41 55h1M43 55h2M52 55h1M54 55h1M29 56h1M33 56h4M38 56h3M53 56h2M28 57h5M34 57h6M53 57h4M22 58h3M26 58h3M30 58h4M36 58h2M54 58h2M21 59h3M25 59h2M32 59h1M34 59h1M20 60h1M22 60h5M33 60h2M21 61h6M33 61h2M19 62h5M25 62h1M27 62h1M33 62h3M19 63h6M26 63h2M29 63h5M16 64h9M27 64h4M32 64h1M15 65h7M23 65h9M14 66h5M20 66h4M27 66h2M30 66h1M13 67h3M17 67h7M28 67h2M13 68h5M19 68h10M12 69h3M16 69h4M22 69h5M11 70h7M19 70h2M23 70h3M2 71h2M5 71h1M7 71h3M11 71h4M16 71h1M18 71h1M20 71h4M25 71h1M13 72h5M19 72h6M13 73h1M15 73h1M17 73h4M22 73h3M14 74h9M15 75h1M17 75h5M16 76h5M16 77h4M17 78h2M20 78h1M22 78h2M19 79h2M22 79h4M18 80h9M22 81h2M25 81h3M23 82h5M23 83h1M25 83h2M23 84h3M23 85h3M22 86h2M21 87h4M20 88h3M24 88h1M18 89h2M21 89h3M14 90h4M19 90h4M13 91h2M16 91h1M2 92h2M5 92h1M7 92h1"/>
<path id="p4_7" d="M57 4h6M64 4h2M53 5h2M70 5h1M49 7h1M75 7h1M76 8h1M77 9h1M45 10h1M44 11h2M78 11h1M44 12h1M79 13h1M44 14h1M79 14h1M44 15h1M79 15h1M44 16h1M79 16h1M44 17h1M79 17h1M44 18h1M78 18h1M44 19h1M77 19h1M44 20h1M77 20h1M44 21h1M75 21h2M43 22h2M73 22h3M43 23h1M72 23h1M43 24h2M71 24h2M43 25h1M70 25h1M43 26h1M70 26h2M70 27h1M70 28h3M42 29h2M70 29h1M72 29h2M42 30h2M72 30h3M42 31h2M73 31h2M43 32h1M74 32h2M42 33h1M73 33h2M42 34h1M73 34h2M42 35h2M73 35h2M42 36h2M73 36h2M43 37h1M73 37h2M43 38h1M74 38h1M43 39h2M73 39h2M44 40h1M72 40h2M44 41h1M71 41h3M44 42h2M70 42h1M45 43h1M67 43h1M69 43h1M71 43h2M46 44h1M67 44h5M46 45h2M66 45h7M47 46h2M65 46h6M48 47h1M64 47h8M48 48h2M63 48h2M49 49h2M61 49h3M49 50h15M51 51h2M54 51h4M59 51h4M29 58h1M27 59h4M27 60h6M27 61h6M28 62h5M25 66h2M25 67h2M1 72h1M9 72h2M12 73h1M13 74h1M14 76h1M15 77h1M15 78h2M16 79h1M16 80h2M17 81h1M19 81h1M21 81h1M17 82h6M18 83h5M18 84h2M21 84h1M18 85h4M18 86h2M21 86h1M17 87h4M16 88h1M18 88h2M14 89h3M12 90h2M8 91h1"/>
<path id="p4_8" d="M55 5h3M67 5h1M52 6h1M71 6h1M73 7h1M75 8h1M76 9h1M46 10h1M45 12h1M45 13h1M45 14h1M45 15h1M78 16h1M45 17h1M78 17h1M45 18h1M45 19h2M76 19h1M45 20h2M75 20h1M45 21h2M73 21h2M45 22h2M71 22h2M45 23h1M70 23h1M45 24h1M69 24h2M45 25h1M68 25h2M44 26h1M68 26h2M44 27h1M68 27h2M44 28h1M68 28h2M44 29h1M68 29h2M68 30h1M70 30h2M44 31h1M69 31h4M44 32h1M69 32h4M43 33h2M69 33h4M43 34h2M69 34h2M72 34h1M44 35h1M69 35h1M71 35h2M44 36h1M69 36h4M44 37h1M69 37h4M44 38h1M68 38h5M45 39h1M66 39h4M71 39h2M45 40h1M65 40h7M45 41h1M64 41h7M46 42h1M64 42h5M46 43h1M64 43h3M47 44h1M63 44h4M48 45h1M63 45h2M49 46h1M62 46h3M49 47h3M60 47h4M50 48h5M58 48h5M51 49h3M55 49h6M4 72h1M6 72h3M10 73h2M12 74h1M13 75h1M14 77h1M15 79h1M16 81h1M16 82h1M16 83h2M16 84h2M16 85h1M17 86h1M15 87h2M14 88h2M12 89h2M9 90h1M5 91h1M7 91h1"/>
<path id="p4_9" d="M58 5h4M64 5h1M66 5h1M53 6h2M70 6h1M51 7h1M72 7h1M49 8h1M74 8h1M48 9h1M47 10h1M76 10h1M46 11h1M77 11h1M46 12h1M78 15h1M46 17h1M77 17h1M46 18h1M47 19h1M47 20h1M73 20h2M47 21h1M47 22h1M70 22h1M47 23h1M68 23h2M46 24h2M67 24h2M46 25h1M66 25h2M45 26h2M66 26h2M45 27h1M67 27h1M45 28h1M66 28h2M45 29h1M66 29h2M45 30h1M67 30h1M45 31h1M67 31h2M45 32h1M67 32h2M45 33h1M67 33h2M45 34h1M67 34h2M45 35h1M67 35h2M45 36h1M67 36h2M45 37h1M66 37h3M65 38h3M46 39h1M64 39h2M46 40h1M63 40h2M46 41h1M63 41h1M47 42h1M62 42h2M47 43h1M62 43h2M48 44h1M61 44h2M49 45h1M60 45h3M50 46h1M52 46h1M57 46h5M52 47h8M55 48h3M2 73h1M8 73h2M11 74h1M12 75h1M13 76h1M13 77h1M14 78h1M15 81h1M15 82h1M15 84h1M15 85h1M15 86h1M14 87h1M13 88h1M10 89h2M1 90h1"/>
<path id="p4_10" d="M62 5h1M56 6h1M68 6h2M52 7h1M71 7h1M50 8h1M73 8h1M49 9h1M75 9h1M47 11h1M76 11h1M46 13h1M77 13h1M77 14h1M46 15h1M77 15h1M46 16h1M77 16h1M47 18h1M75 18h1M74 19h1M48 20h1M72 20h1M48 21h2M70 21h2M48 22h2M68 22h2M48 23h1M65 23h3M48 24h1M64 24h3M47 25h1M64 25h2M47 26h1M64 26h2M46 27h1M64 27h2M46 28h1M65 28h1M46 29h1M65 29h1M46 30h1M65 30h2M46 31h1M66 31h1M46 32h1M66 32h1M46 33h1M66 33h1M46 34h1M66 34h1M46 35h1M66 35h1M46 36h1M65 36h2M46 37h1M65 37h1M46 38h1M64 38h1M47 39h1M63 39h1M47 40h1M62 40h1M47 41h1M62 41h1M48 42h1M61 42h1M48 43h1M60 43h2M49 44h2M58 44h3M50 45h9M53 46h4M3 73h5M1 74h1M9 74h2M11 75h1M12 76h1M13 78h1M14 80h1M15 83h1M14 85h1M13 87h1M12 88h1M2 90h1M4 90h3"/>
<path id="p4_11" d="M57 6h3M66 6h2M54 7h1M70 7h1M51 8h2M50 9h1M74 9h1M48 10h1M75 10h1M47 12h1M76 12h1M47 16h1M76 16h1M47 17h1M48 18h1M48 19h1M73 19h1M49 20h1M71 20h1M50 21h1M69 21h1M50 22h1M65 22h3M49 23h2M62 23h3M49 24h1M62 24h2M48 25h1M62 25h2M48 26h1M47 27h1M63 27h1M47 28h1M63 28h2M47 29h1M64 29h1M47 30h1M64 30h1M64 31h2M65 32h1M65 33h1M64 34h2M64 35h2M47 36h1M64 36h1M47 37h1M63 37h2M47 38h1M63 38h1M62 39h1M48 40h1M61 40h1M48 41h1M61 41h1M49 42h1M59 42h2M49 43h2M58 43h2M51 44h7M2 74h1M7 74h2M10 75h1M11 76h1M0 77h1M12 77h1M13 79h1M14 81h1M14 82h1M14 83h1M14 84h1M13 86h1M12 87h1M10 88h1M1 89h1M7 89h2"/>
<path id="p4_12" d="M60 6h6M55 7h2M69 7h1M53 8h1M72 8h1M51 9h1M73 9h1M49 10h1M48 11h1M75 11h1M47 13h1M76 13h1M47 14h1M76 14h1M47 15h1M76 15h1M48 17h1M75 17h1M49 18h1M74 18h1M49 19h1M72 19h1M50 20h1M70 20h1M51 21h1M67 21h2M51 22h1M62 22h3M51 23h1M60 23h2M50 24h1M60 24h2M49 25h1M61 25h1M49 26h1M62 26h1M48 27h1M62 27h1M48 28h1M62 28h1M63 29h1M63 30h1M47 31h1M63 31h1M47 32h1M63 32h2M47 33h1M63 33h2M47 34h1M63 34h1M47 35h1M63 35h1M63 36h1M48 37h1M62 37h1M48 38h1M62 38h1M48 39h1M61 39h1M49 40h1M60 40h1M49 41h1M59 41h2M50 42h1M57 42h2M51 43h2M55 43h3M3 74h4M1 75h1M9 75h1M10 76h1M11 77h1M0 78h1M12 78h1M0 79h1M12 79h1M0 80h1M13 80h1M13 81h1M13 82h1M0 84h1M13 84h1M0 85h1M13 85h1M0 86h1M12 86h1M11 87h1M1 88h1M9 88h1M2 89h5"/>
<path id="p4_13" d="M57 7h2M68 7h1M54 8h1M71 8h1M52 9h1M50 10h1M74 10h1M49 11h1M48 12h1M75 12h1M48 13h1M48 14h1M48 15h1M48 16h1M75 16h1M49 17h1M74 17h1M73 18h1M50 19h1M71 19h1M51 20h2M68 20h2M52 21h2M64 21h3M52 22h2M58 22h4M52 23h1M58 23h2M51 24h1M59 24h1M50 25h1M60 25h1M61 26h1M49 27h1M61 27h1M61 28h1M48 29h1M62 29h1M48 30h1M62 30h1M48 31h1M62 31h1M48 32h1M62 32h1M48 33h1M62 33h1M48 34h1M62 34h1M48 35h1M62 35h1M48 36h1M62 36h1M61 37h1M49 38h1M61 38h1M49 39h1M60 39h1M50 40h1M59 40h1M50 41h1M57 41h2M51 42h2M55 42h2M53 43h2M2 75h2M5 75h4M1 76h1M9 76h1M10 77h1M11 78h1M12 80h1M0 81h1M12 81h1M0 82h1M0 83h1M13 83h1M12 85h1M11 86h1M1 87h1M10 87h1M2 88h1M7 88h2"/>
<path id="p4_14" d="M59 7h2M66 7h2M55 8h2M70 8h1M53 9h2M72 9h1M51 10h2M73 10h1M50 11h2M74 11h1M49 12h1M49 13h1M75 13h1M49 14h1M75 14h1M49 15h1M75 15h1M49 16h1M74 16h1M50 17h1M73 17h1M50 18h1M72 18h1M51 19h2M70 19h1M53 20h1M66 20h2M54 21h10M54 22h4M53 23h5M52 24h1M57 24h2M51 25h1M58 25h2M50 26h1M59 26h2M50 27h1M60 27h1M49 28h1M60 28h1M49 29h1M61 29h1M49 30h1M61 30h1M49 31h1M61 31h1M61 32h1M61 33h1M61 34h1M49 35h1M61 35h1M49 36h1M61 36h1M49 37h1M60 37h1M50 38h1M60 38h1M50 39h1M59 39h1M51 40h1M57 40h2M51 41h3M55 41h2M53 42h2M4 75h1M2 76h1M5 76h4M1 77h1M8 77h2M1 78h1M10 78h1M1 79h1M10 79h2M11 80h1M11 81h1M12 82h1M12 83h1M12 84h1M11 85h1M1 86h1M10 86h1M8 87h2M3 88h4"/>
<path id="p4_15" d="M61 7h5M57 8h2M69 8h1M55 9h1M71 9h1M53 10h2M72 10h1M52 11h2M73 11h1M50 12h2M74 12h1M50 13h2M74 13h1M50 14h1M50 15h1M74 15h1M50 16h1M73 16h1M51 17h1M72 17h1M51 18h2M71 18h1M53 19h1M68 19h2M54 20h3M64 20h2M53 24h4M52 25h2M56 25h2M51 26h1M58 26h1M59 27h1M50 28h1M50 29h1M60 29h1M60 30h1M60 31h1M49 32h1M49 33h1M49 34h1M60 34h1M60 35h1M50 36h1M60 36h1M50 37h1M59 37h1M51 38h1M58 38h2M51 39h1M57 39h2M52 40h2M55 40h2M54 41h1M3 76h2M2 77h6M2 78h1M5 78h5M5 79h5M1 80h1M6 80h5M1 81h1M7 81h4M1 82h1M8 82h4M1 83h1M9 83h3M1 84h1M10 84h2M1 85h1M9 85h2M7 86h3M2 87h6"/>
<path id="p4_16" d="M59 8h1M67 8h2M56 9h2M70 9h1M55 10h1M54 11h1M52 12h2M73 12h1M52 13h1M51 14h2M74 14h1M51 15h2M73 15h1M51 16h2M72 16h1M52 17h2M71 17h1M53 18h2M69 18h2M54 19h3M66 19h2M57 20h7M54 25h2M52 26h2M56 26h2M51 27h2M58 27h1M51 28h1M58 28h2M51 29h1M59 29h1M50 30h1M59 30h1M50 31h1M50 32h1M60 32h1M50 33h1M60 33h1M50 34h1M59 34h1M50 35h1M59 35h1M51 36h1M59 36h1M51 37h1M58 37h1M52 38h1M57 38h1M52 39h5M54 40h1M3 78h2M2 79h3M2 80h1M4 80h2M2 81h1M5 81h2M5 82h3M6 83h3M2 84h1M5 84h5M2 85h1M5 85h4M2 86h5"/>
<path id="p4_17" d="M60 8h2M66 8h1M58 9h1M69 9h1M56 10h1M71 10h1M55 11h1M72 11h1M54 12h1M53 13h2M73 13h1M53 14h2M73 14h1M53 15h2M72 15h1M53 16h2M71 16h1M54 17h2M70 17h1M55 18h2M68 18h1M57 19h2M64 19h2M54 26h2M53 27h5M52 28h1M57 28h1M52 29h1M58 29h1M51 30h1M58 30h1M51 31h1M58 31h2M51 32h1M59 32h1M51 33h1M58 33h2M51 34h1M58 34h1M51 35h1M58 35h1M52 36h1M57 36h2M52 37h2M56 37h2M53 38h4M3 80h1M3 81h2M2 82h3M2 83h4M3 84h2M3 85h2"/>
<path id="p4_18" d="M62 8h4M59 9h1M68 9h1M57 10h1M70 10h1M56 11h1M71 11h1M55 12h1M72 12h1M55 13h1M72 13h1M55 14h1M72 14h1M55 15h1M71 15h1M55 16h2M56 17h2M69 17h1M57 18h2M66 18h2M59 19h5M53 28h4M53 29h5M52 30h2M57 30h1M52 31h1M57 31h1M52 32h1M57 32h2M52 33h1M57 33h1M52 34h1M57 34h1M52 35h2M56 35h2M53 36h4M54 37h2"/>
<path id="p4_19" d="M60 9h1M67 9h1M58 10h1M69 10h1M57 11h1M70 11h1M56 12h1M71 12h1M56 13h1M71 13h1M56 14h1M71 14h1M56 15h1M57 16h1M70 16h1M58 17h1M68 17h1M59 18h2M64 18h2M54 30h3M53 31h4M53 32h4M53 33h4M53 34h4M54 35h2"/>
<path id="p4_20" d="M61 9h2M65 9h2M59 10h1M68 10h1M58 11h1M69 11h1M57 12h1M70 12h1M57 13h1M70 13h1M57 14h1M70 14h1M57 15h1M70 15h1M58 16h1M69 16h1M59 17h1M67 17h1M61 18h3"/>
<path id="p4_21" d="M63 9h2M60 10h1M67 10h1M59 11h1M58 12h1M69 12h1M58 13h1M58 14h1M58 15h1M69 15h1M59 16h1M68 16h1M60 17h2M64 17h3"/>
<path id="p4_22" d="M61 10h1M66 10h1M60 11h1M68 11h1M59 12h1M69 13h1M69 14h1M59 15h1M68 15h1M60 16h1M67 16h1M62 17h2"/>
<path id="p4_23" d="M62 10h4M61 11h1M67 11h1M60 12h1M68 12h1M59 13h1M68 13h1M59 14h1M68 14h1M60 15h1M67 15h1M61 16h2M65 16h2"/>
<path id="p4_24" d="M62 11h1M66 11h1M67 12h1M60 13h1M60 14h1M67 14h1M61 15h1M66 15h1M63 16h2"/>
<path id="p4_25" d="M63 11h3M61 12h1M66 12h1M61 13h1M67 13h1M61 14h1M66 14h1M62 15h4"/>
<path id="p4_26" d="M62 12h4M62 13h1M66 13h1M62 14h2M65 14h1"/>
<path id="p4_27" d="M63 13h3M64 14h1"/>
<clipPath id="c5"><rect x="124.50" y="286.20" width="94.20" height="93.10"/></clipPath>
<path id="p5_1" d="M52 2h1M76 2h1M38 4h1M40 4h1M88 8h1M38 9h1M43 10h1M89 10h1M34 14h1M91 17h1M5 23h1M21 23h1M92 23h1M19 26h1M92 27h1M14 28h1M92 30h1M15 31h1M24 31h1M5 32h1M90 35h1M1 38h1M11 38h1M1 40h1M4 41h1M92 41h1M92 43h1M89 44h1M13 45h1M7 52h1M92 57h1M81 59h1M91 60h1M86 61h1M84 64h1M75 65h1M79 66h1M82 69h1M75 71h1M69 75h1M51 78h1M70 78h1M89 80h1M77 81h1M45 82h1M57 82h1M49 83h1M71 84h1M83 84h1M48 85h1M71 86h1M41 87h1M32 89h1M51 89h1M86 89h1M34 91h1M45 91h1M73 91h1M91 91h1M27 92h1M48 92h1M73 92h1"/>
<path id="p5_2" d="M62 2h1M60 3h1M63 3h1M50 4h1M63 4h1M53 5h1M55 5h1M60 5h1M70 5h1M51 6h1M61 6h1M72 6h1M74 7h2M84 7h2M70 8h1M79 8h1M83 8h1M75 9h1M77 9h1M50 10h1M74 10h1M82 10h1M48 11h1M39 12h1M76 13h1M78 13h1M81 13h1M41 14h1M38 15h1M42 16h1M36 17h1M81 17h1M34 18h1M36 18h1M86 18h1M35 19h1M38 19h1M85 19h1M87 19h1M37 20h1M39 20h1M80 20h1M31 21h1M83 21h1M26 22h1M34 22h1M23 23h1M29 23h1M32 23h1M29 24h1M35 24h2M87 24h1M25 25h1M32 25h1M83 25h1M25 26h1M86 26h1M87 27h1M83 28h1M88 28h1M27 29h1M29 29h1M86 29h1M34 30h1M86 30h1M27 31h1M29 32h1M84 32h2M28 33h1M82 33h1M87 36h1M27 37h1M86 38h1M83 39h1M16 40h1M18 40h1M83 40h1M13 41h1M20 41h1M26 41h1M84 41h1M15 42h1M21 42h1M23 44h1M82 44h1M84 44h1M23 45h1M85 45h1M80 46h1M17 47h2M79 47h1M84 47h1M15 48h1M20 48h1M86 48h1M13 50h1M16 50h1M84 50h1M15 51h1M81 52h1M8 53h1M81 53h1M79 54h1M83 54h1M10 55h1M78 55h1M12 56h2M10 57h1M13 57h1M4 59h1M71 59h1M5 60h1M5 61h1M8 61h1M10 61h1M73 61h1M8 63h1M70 63h1M66 66h1M71 66h1M71 67h1M57 68h1M60 68h1M68 68h1M63 70h1M68 70h1M70 70h1M42 71h1M47 71h2M59 71h1M65 71h1M69 71h1M72 71h1M51 72h1M68 72h1M53 73h1M58 73h1M47 74h1M54 74h1M56 74h1M58 74h2M56 75h1M46 76h1M37 77h1M44 77h2M38 80h1M40 80h1M42 81h1M32 82h1M39 82h1M42 82h1M31 85h1M28 86h1M27 88h1M49 89h1M24 91h1M18 92h1M20 92h1M14 93h1"/>
<path id="p5_3" d="M55 6h2M58 6h1M65 6h2M68 6h1M67 7h2M54 8h1M56 8h4M63 8h1M65 8h1M67 8h1M60 9h1M63 9h2M62 10h1M70 10h1M52 11h1M63 11h1M51 12h2M64 12h1M47 13h1M47 14h1M44 15h1M46 15h1M76 15h1M75 16h1M77 17h1M79 17h1M76 18h1M78 18h1M41 19h1M78 19h1M78 21h1M80 22h1M39 24h1M79 24h1M80 25h1M37 26h2M79 27h1M79 29h1M79 30h1M80 31h1M34 32h1M78 32h1M32 33h1M80 33h1M79 34h2M30 35h1M32 35h1M81 35h1M32 36h1M75 36h1M81 36h2M81 37h1M29 38h2M77 38h1M79 38h1M81 38h1M78 39h1M29 40h1M30 41h1M78 41h2M30 42h1M80 42h1M79 43h1M27 44h1M25 45h2M77 45h2M27 46h4M28 47h1M76 47h1M25 48h1M23 49h1M76 49h1M19 50h1M21 50h2M20 51h2M74 51h1M76 51h2M19 52h1M77 52h1M17 53h1M20 53h1M78 53h1M15 54h2M19 54h1M73 54h1M75 54h1M17 55h1M73 55h1M17 56h1M17 57h1M68 57h1M71 57h1M71 58h1M66 59h1M15 60h2M12 61h1M14 61h1M65 61h1M68 61h2M10 62h1M12 62h1M66 62h1M14 63h1M66 63h2M61 64h1M64 64h1M11 65h1M56 65h1M59 65h2M2 66h1M4 66h1M10 66h1M1 67h2M5 67h2M56 67h1M1 68h1M46 68h1M49 68h1M45 69h1M50 69h1M53 69h2M0 70h1M53 70h1M52 71h1M40 73h1M39 74h2M37 75h1M41 75h1M40 76h1M42 76h3M34 79h2M33 80h1M29 83h1M25 84h1M28 84h1M24 85h1M26 85h1M16 88h1M23 88h1M19 89h2M22 89h2M15 90h2M19 90h1M21 90h1M14 91h1M1 92h1M1 93h1M5 93h2M9 93h1M12 93h1"/>
<path id="p5_4" d="M57 9h2M57 10h1M56 11h1M59 11h1M60 12h1M67 12h4M59 13h1M61 13h2M64 13h1M66 13h2M70 13h3M49 14h2M52 14h1M60 14h1M65 14h1M70 14h1M73 14h1M47 15h2M62 15h1M73 15h1M47 16h1M71 16h2M74 16h1M72 17h2M44 18h1M72 18h2M43 19h1M45 19h1M71 19h1M74 19h1M44 20h1M74 20h2M43 21h1M76 21h2M42 22h1M74 22h1M76 22h2M41 23h1M76 23h1M41 24h1M77 24h2M76 25h2M39 26h1M39 27h1M77 27h1M38 28h1M76 28h1M38 29h1M76 29h1M78 29h1M75 30h2M36 31h1M75 31h3M35 32h3M75 32h1M77 32h1M36 33h1M75 33h1M35 34h1M36 35h1M33 36h4M74 36h1M35 37h1M37 37h1M75 37h1M31 38h2M34 38h2M73 38h1M31 39h1M73 39h2M33 40h1M75 40h1M77 40h1M33 41h3M77 41h1M32 42h3M74 42h2M31 43h1M74 43h1M76 43h1M31 44h1M33 44h3M73 44h1M76 44h1M32 45h1M34 45h1M73 45h1M76 45h1M32 46h1M34 46h1M34 47h1M30 48h2M72 48h1M74 48h1M26 49h3M30 49h1M74 49h1M26 50h2M72 50h2M26 51h1M73 51h1M24 52h1M70 52h1M72 52h1M22 53h1M24 53h1M68 53h2M23 54h1M67 54h2M70 54h2M19 55h1M65 55h3M69 55h1M18 56h2M21 56h2M65 56h1M68 56h1M21 57h1M65 57h2M17 58h1M19 58h2M63 58h1M19 59h1M63 59h3M18 60h1M62 60h1M16 61h1M18 61h1M61 61h3M60 62h1M56 63h5M15 64h1M46 64h1M51 64h1M53 64h1M55 64h1M12 65h1M42 65h3M46 65h2M51 65h2M54 65h1M12 66h1M43 66h2M46 66h7M40 67h2M45 67h1M48 67h1M52 67h2M2 68h1M10 68h1M42 68h1M52 68h1M1 69h1M3 69h3M7 69h1M1 70h2M5 70h2M2 71h1M38 71h1M38 72h1M36 73h1M38 73h1M0 75h1M34 75h2M33 76h1M33 77h2M32 78h1M30 79h2M28 81h2M26 82h1M28 82h2M0 83h1M27 83h1M1 86h1M20 86h1M1 87h1M19 87h1M21 87h1M13 88h1M19 88h2M1 89h1M3 89h1M11 89h1M13 89h1M2 90h1M4 90h1M9 90h1M13 90h1M1 91h1M3 91h2M8 91h1M11 91h2M2 92h3"/>
<path id="p5_5" d="M55 12h1M57 12h1M55 13h3M68 13h1M53 14h1M55 14h4M66 14h4M52 15h1M54 15h3M59 15h1M65 15h1M67 15h2M70 15h1M50 16h1M52 16h1M54 16h1M57 16h1M61 16h6M68 16h1M49 17h1M51 17h1M60 17h3M67 17h2M70 17h1M46 18h4M47 19h2M69 19h1M46 20h2M69 20h2M44 21h1M72 21h1M43 22h1M45 22h1M47 22h1M71 22h1M73 22h1M42 23h2M45 23h1M47 23h1M72 23h3M42 24h4M72 24h3M42 25h1M72 25h1M74 25h1M42 26h1M72 26h2M75 26h1M41 27h2M73 27h3M72 28h2M40 29h2M40 30h1M73 30h2M38 31h1M40 31h1M38 32h3M74 32h1M39 33h1M73 33h1M39 34h1M73 34h1M39 35h2M38 36h3M72 37h1M37 38h1M39 38h1M71 38h1M38 39h1M37 40h2M71 40h1M73 40h1M72 41h2M38 42h1M38 43h1M73 43h1M37 44h1M37 45h1M72 45h1M35 46h1M37 46h1M71 46h1M36 47h2M70 47h1M72 47h1M33 48h2M37 48h1M70 48h2M31 49h4M70 49h1M31 50h2M35 50h2M69 50h3M27 51h2M31 51h5M67 51h3M26 52h1M28 52h3M33 52h1M66 52h1M25 53h1M27 53h5M65 53h1M67 53h1M24 54h4M30 54h2M63 54h2M24 55h2M27 55h5M63 55h1M24 56h3M29 56h1M61 56h2M64 56h1M23 57h5M30 57h1M60 57h1M62 57h2M24 58h4M29 58h1M60 58h2M26 59h3M58 59h1M60 59h1M62 59h1M20 60h3M24 60h3M28 60h2M40 60h1M50 60h3M56 60h1M58 60h4M19 61h6M26 61h1M29 61h1M39 61h5M49 61h3M53 61h1M55 61h1M57 61h3M18 62h1M21 62h4M28 62h1M30 62h1M33 62h1M38 62h1M40 62h1M43 62h7M51 62h5M58 62h1M18 63h1M20 63h1M23 63h1M25 63h2M28 63h2M33 63h1M36 63h2M39 63h2M43 63h1M48 63h1M50 63h1M53 63h2M17 64h3M24 64h3M34 64h6M41 64h1M26 65h2M34 65h1M36 65h1M38 65h1M40 65h2M14 66h4M34 66h2M37 66h3M12 67h1M35 67h1M37 67h1M36 68h3M10 69h2M38 69h1M9 70h1M36 70h2M3 71h1M8 71h2M35 71h3M2 72h4M34 72h3M3 73h1M31 73h2M2 74h1M31 74h3M1 75h1M31 75h1M1 76h1M31 76h2M0 77h1M31 77h1M29 78h2M0 79h1M29 79h1M25 81h1M1 82h1M1 83h1M22 83h2M20 84h3M2 85h1M16 85h1M18 85h1M21 85h1M3 86h1M13 86h1M15 86h4M2 87h1M4 87h1M13 87h1M9 88h1M6 89h3M6 90h3"/>
<path id="p5_6" d="M56 16h1M53 17h3M58 17h2M63 17h3M54 18h1M59 18h1M61 18h1M64 18h4M49 19h1M51 19h1M66 19h3M49 20h2M48 21h2M68 21h2M70 22h1M48 23h1M69 23h2M47 24h1M70 24h2M44 25h1M71 25h1M44 26h2M43 27h2M71 27h1M43 28h2M71 28h1M43 29h1M71 29h1M41 30h3M41 31h2M71 31h2M41 32h2M71 32h2M42 33h1M71 33h2M41 34h2M72 34h1M41 35h1M71 35h1M41 36h1M71 36h1M40 37h2M70 37h1M70 38h1M40 39h1M39 40h1M40 41h1M70 41h1M39 42h2M69 42h2M40 43h1M69 43h1M39 44h2M38 45h2M69 45h2M38 46h1M69 46h2M38 47h2M68 47h2M38 48h2M68 48h2M38 49h2M67 49h1M69 49h1M38 50h3M66 50h3M38 51h2M41 51h1M64 51h2M35 52h2M38 52h1M40 52h1M42 52h1M63 52h2M34 53h8M62 53h2M34 54h1M36 54h3M40 54h1M42 54h1M61 54h1M33 55h6M41 55h2M61 55h1M32 56h2M35 56h2M38 56h6M58 56h3M31 57h2M34 57h2M37 57h1M39 57h3M43 57h1M57 57h1M59 57h1M31 58h12M44 58h2M47 58h2M50 58h9M29 59h3M34 59h1M36 59h4M44 59h3M48 59h2M53 59h2M56 59h2M31 60h8M43 60h6M54 60h2M32 61h3M36 61h2M45 61h1M47 61h1M31 62h2M35 62h2M21 63h2M30 63h1M32 63h1M21 64h3M29 64h4M20 65h1M22 65h1M28 65h1M30 65h4M18 66h3M22 66h1M24 66h1M27 66h5M15 67h1M17 67h5M23 67h4M28 67h5M13 68h22M12 69h2M15 69h2M18 69h2M27 69h1M29 69h1M31 69h4M12 70h2M28 70h3M32 70h4M10 71h3M29 71h2M32 71h1M10 72h2M28 72h1M31 72h1M5 73h7M28 73h2M3 74h2M6 74h2M29 74h1M2 75h3M29 75h2M3 76h2M28 76h2M1 77h3M24 77h1M27 77h1M29 77h1M2 78h1M23 78h6M1 79h2M24 79h4M1 80h2M22 80h4M1 81h1M21 81h3M2 82h2M20 82h3M2 83h1M19 83h3M2 84h3M11 84h1M13 84h2M16 84h4M4 85h2M9 85h5M4 86h1M6 86h7M5 87h1M7 87h2M10 87h1M8 88h1"/>
<path id="p5_7" d="M55 18h4M53 19h2M63 19h3M51 20h2M65 20h1M67 20h1M51 21h1M67 21h1M50 22h1M68 22h1M49 23h2M68 23h1M69 24h1M47 25h2M47 26h1M69 26h1M45 27h2M69 27h1M45 28h1M70 28h1M44 29h2M70 29h1M44 30h1M44 31h1M70 31h1M43 32h1M70 32h1M43 33h1M43 34h1M70 34h1M42 35h1M70 35h1M42 36h1M70 36h1M69 37h1M41 38h2M69 38h1M41 39h1M69 39h1M41 40h1M69 40h1M41 41h1M68 41h1M41 42h1M68 42h1M68 43h1M41 44h1M68 44h1M40 45h2M67 45h2M40 46h2M67 46h2M40 47h2M66 47h2M40 48h2M66 48h2M40 49h3M65 49h2M41 50h1M64 50h1M43 51h1M63 51h1M43 52h1M62 52h1M43 53h2M43 54h2M43 55h3M58 55h2M44 56h5M57 56h1M45 57h2M48 57h1M51 57h2M54 57h3M21 69h3M25 69h2M14 70h3M18 70h2M21 70h3M25 70h1M27 70h1M13 71h15M14 72h3M18 72h2M23 72h5M12 73h7M23 73h2M26 73h2M8 74h2M11 74h2M14 74h3M23 74h6M6 75h11M22 75h2M26 75h3M6 76h6M13 76h2M16 76h1M21 76h2M24 76h1M26 76h2M4 77h5M12 77h4M17 77h1M20 77h2M23 77h1M26 77h1M3 78h3M7 78h2M12 78h11M3 79h6M10 79h3M18 79h4M3 80h1M5 80h7M13 80h1M18 80h4M3 81h12M17 81h4M5 82h1M9 82h4M14 82h1M16 82h2M19 82h1M4 83h7M13 83h6M5 84h5M6 85h3"/>
<path id="p5_8" d="M56 19h2M59 19h2M53 20h1M63 20h2M52 21h1M66 21h1M51 22h1M67 22h1M67 23h1M68 24h1M49 25h1M68 25h1M48 26h1M68 26h1M47 27h1M69 28h1M46 29h1M69 29h1M45 30h1M45 31h1M44 32h1M44 33h1M43 35h1M69 35h1M69 36h1M43 37h1M68 38h1M42 39h1M68 39h1M42 40h1M42 41h1M42 42h1M67 42h1M42 43h1M67 43h1M42 44h1M67 44h1M42 45h1M66 45h1M42 46h1M66 46h1M42 47h1M65 47h1M42 48h1M65 48h1M43 49h1M64 49h1M44 51h1M62 51h1M44 52h1M61 52h1M45 54h2M59 54h1M46 55h1M48 55h1M57 55h1M49 56h7M20 72h3M19 73h4M18 74h5M17 75h5M17 76h4M9 77h2M18 77h1M9 78h3M13 79h5M14 80h3M15 81h2"/>
<path id="p5_9" d="M55 20h3M61 20h1M53 21h1M64 21h1M52 22h1M66 22h1M51 23h1M67 24h1M68 27h1M47 28h1M68 28h1M69 31h1M69 32h1M69 33h1M44 34h1M44 35h1M68 35h1M68 36h1M68 37h1M43 39h1M67 40h1M67 41h1M43 45h1M65 45h1M43 46h1M65 46h1M43 47h1M64 47h1M43 48h1M64 48h1M63 49h1M62 50h1M45 52h1M46 53h1M47 54h1M49 55h2M55 55h2"/>
<path id="p5_10" d="M58 20h2M55 21h1M63 21h1M53 22h1M65 22h1M66 23h1M66 24h1M50 25h1M49 26h1M47 29h1M68 30h1M46 31h1M68 31h1M68 32h1M45 33h1M68 33h1M68 34h1M44 36h1M44 37h1M67 37h1M67 39h1M43 40h1M43 42h1M66 42h1M43 43h1M43 44h1M65 44h1M44 48h1M44 49h1M62 49h1M61 50h1M45 51h1M60 51h1M59 52h1M47 53h1M58 53h1M48 54h1M56 54h1M52 55h2"/>
<path id="p5_11" d="M56 21h1M58 21h1M60 21h3M54 22h1M64 22h1M53 23h1M65 23h1M51 25h1M66 25h1M49 27h1M67 27h1M48 28h1M67 28h1M47 30h1M46 32h1M67 34h1M45 35h1M67 35h1M67 36h1M44 38h1M44 39h1M44 40h1M66 40h1M44 41h1M66 41h1M44 43h1M65 43h1M44 44h1M64 45h1M44 46h1M44 47h1M63 47h1M45 49h1M45 50h1M46 51h1M47 52h1M48 53h1M57 53h1M49 54h3M53 54h3"/>
<path id="p5_12" d="M59 21h1M55 22h2M62 22h2M54 23h1M64 23h1M53 24h1M65 24h1M66 26h1M50 27h1M66 27h1M49 28h1M48 29h1M67 29h1M67 30h1M47 31h1M67 31h1M67 32h1M46 33h1M67 33h1M46 34h1M45 36h1M45 37h1M66 37h1M66 38h1M66 39h1M65 41h1M44 42h1M65 42h1M64 44h1M63 46h1M45 47h1M45 48h1M62 48h1M61 49h1M46 50h1M60 50h1M59 51h1M58 52h1M49 53h1M55 53h2M52 54h1"/>
<path id="p5_13" d="M57 22h5M55 23h1M63 23h1M64 24h1M52 25h1M65 25h1M51 26h1M66 28h1M49 29h1M66 29h1M48 30h1M47 32h1M66 32h1M66 33h1M66 34h1M46 35h1M66 35h1M66 36h1M45 38h1M45 39h1M45 40h1M65 40h1M45 41h1M45 42h1M64 42h1M45 43h1M64 43h1M45 44h1M45 45h1M63 45h1M45 46h1M62 47h1M61 48h1M46 49h1M60 49h1M47 50h1M59 50h1M47 51h1M58 51h1M48 52h1M56 52h2M50 53h5"/>
<path id="p5_14" d="M56 23h7M54 24h2M63 24h1M53 25h1M64 25h1M52 26h1M65 26h1M51 27h1M65 27h1M50 28h1M49 30h1M66 30h1M48 31h1M66 31h1M48 32h1M47 33h1M47 34h1M65 35h1M46 36h1M65 36h1M65 37h1M65 38h1M65 39h1M64 41h1M63 43h1M63 44h1M62 45h1M62 46h1M46 47h1M61 47h1M46 48h1M60 48h1M47 49h1M59 49h1M58 50h1M48 51h1M57 51h1M49 52h2M54 52h2"/>
<path id="p5_15" d="M56 24h7M54 25h2M63 25h1M53 26h1M64 26h1M52 27h1M51 28h1M65 28h1M50 29h1M65 29h1M65 30h1M49 31h1M65 31h1M65 32h1M48 33h1M65 33h1M65 34h1M47 35h1M46 37h1M46 38h1M46 39h1M64 39h1M46 40h1M64 40h1M46 41h1M46 42h1M63 42h1M46 43h1M46 44h1M62 44h1M46 45h1M46 46h1M61 46h1M60 47h1M47 48h1M59 48h1M48 49h1M58 49h1M48 50h1M57 50h1M49 51h2M54 51h3M51 52h3"/>
<path id="p5_16" d="M56 25h7M54 26h3M63 26h1M53 27h1M63 27h2M52 28h1M64 28h1M51 29h1M64 29h1M50 30h1M64 30h1M64 31h1M49 32h1M64 32h1M64 33h1M48 34h1M64 34h1M64 35h1M47 36h1M64 36h1M47 37h1M64 37h1M64 38h1M63 41h1M47 43h1M62 43h1M47 44h1M47 45h1M61 45h1M47 46h1M60 46h1M47 47h1M59 47h1M48 48h1M58 48h1M49 49h1M56 49h2M49 50h2M54 50h3M51 51h3"/>
<path id="p5_17" d="M57 26h6M54 27h9M53 28h2M62 28h2M52 29h1M63 29h1M51 30h1M63 30h1M50 31h1M63 31h1M50 32h1M63 32h1M49 33h1M63 33h1M49 34h1M63 34h1M48 35h1M63 35h1M48 36h1M63 36h1M63 37h1M47 38h1M63 38h1M47 39h1M63 39h1M47 40h1M63 40h1M47 41h1M62 41h1M47 42h1M62 42h1M61 43h1M48 44h1M61 44h1M48 45h1M60 45h1M48 46h1M59 46h1M48 47h2M58 47h1M49 48h2M56 48h2M50 49h6M51 50h3"/>
<path id="p5_18" d="M55 28h7M53 29h2M61 29h2M52 30h2M61 30h2M51 31h1M62 31h1M51 32h1M62 32h1M50 33h1M62 33h1M62 34h1M49 35h1M48 37h1M48 38h1M62 39h1M62 40h1M48 41h1M48 42h1M61 42h1M48 43h1M49 44h1M60 44h1M49 45h1M59 45h1M49 46h2M58 46h1M50 47h8M51 48h5"/>
<path id="p5_19" d="M55 29h6M54 30h1M60 30h1M52 31h2M61 31h1M52 32h1M61 32h1M51 33h1M61 33h1M50 34h1M50 35h1M62 35h1M49 36h1M62 36h1M49 37h1M62 37h1M62 38h1M48 39h1M48 40h1M61 40h1M61 41h1M49 42h1M60 42h1M49 43h1M60 43h1M50 44h1M59 44h1M50 45h2M58 45h1M51 46h7"/>
<path id="p5_20" d="M55 30h5M54 31h1M59 31h2M53 32h1M60 32h1M52 33h1M60 33h1M51 34h1M61 34h1M61 35h1M50 36h1M61 36h1M61 37h1M49 38h1M61 38h1M49 39h1M61 39h1M49 40h1M49 41h1M60 41h1M50 42h1M50 43h1M59 43h1M51 44h1M58 44h1M52 45h2M56 45h2"/>
<path id="p5_21" d="M55 31h4M54 32h1M59 32h1M53 33h1M52 34h1M60 34h1M51 35h1M60 35h1M51 36h1M60 36h1M50 37h1M60 37h1M50 38h1M60 38h1M50 39h1M60 39h1M50 40h1M60 40h1M50 41h1M59 41h1M51 42h1M59 42h1M51 43h1M58 43h1M52 44h2M56 44h2M54 45h2"/>
<path id="p5_22" d="M55 32h4M54 33h1M58 33h2M53 34h1M59 34h1M52 35h1M51 37h1M51 38h1M59 40h1M51 41h1M58 42h1M52 43h2M57 43h1M54 44h2"/>
<path id="p5_23" d="M55 33h3M54 34h1M58 34h1M53 35h1M59 35h1M52 36h1M59 36h1M52 37h1M59 37h1M59 38h1M51 39h1M59 39h1M51 40h1M58 40h1M52 41h1M58 41h1M52 42h2M57 42h1M54 43h3"/>
<path id="p5_24" d="M55 34h3M54 35h1M58 35h1M53 36h1M58 36h1M53 37h1M58 37h1M52 38h1M58 38h1M52 39h1M58 39h1M52 40h1M53 41h1M57 41h1M54 42h3"/>
<path id="p5_25" d="M55 35h3M54 36h1M57 36h1M54 37h1M57 37h1M53 38h1M57 38h1M53 39h1M57 39h1M53 40h2M56 40h2M54 41h3"/>
<path id="p5_26" d="M55 36h2M55 37h2M54 38h3M54 39h3M55 40h1"/></defs>
<g clip-path="url(#c0)" fill="none"><g transform="translate(23,34.5)">
<use href="#p0_1" stroke="#8793f6" stroke-width="3" stroke-linecap="square" opacity="0.14"/>
<use href="#p0_2" stroke="#7886f7" stroke-width="3" stroke-linecap="square" opacity="0.15"/>
<use href="#p0_3" stroke="#6a7af7" stroke-width="3" stroke-linecap="square" opacity="0.16"/>
<use href="#p0_4" stroke="#5d70f6" stroke-width="3" stroke-linecap="square" opacity="0.17"/>
<use href="#p0_5" stroke="#5167f5" stroke-width="3" stroke-linecap="square" opacity="0.18"/>
<use href="#p0_6" stroke="#455ef5" stroke-width="3" stroke-linecap="square" opacity="0.19"/>
<use href="#p0_7" stroke="#3858f6" stroke-width="3" stroke-linecap="square" opacity="0.20"/>
<use href="#p0_8" stroke="#2c52f8" stroke-width="3" stroke-linecap="square" opacity="0.21"/>
<use href="#p0_9" stroke="#204cf9" stroke-width="3" stroke-linecap="square" opacity="0.22"/>
<use href="#p0_10" stroke="#145dfb" stroke-width="3" stroke-linecap="square" opacity="0.23"/>
<use href="#p0_11" stroke="#0973fd" stroke-width="3" stroke-linecap="square" opacity="0.24"/>
<use href="#p0_12" stroke="#008afc" stroke-width="3" stroke-linecap="square" opacity="0.25"/>
<use href="#p0_13" stroke="#00a7ea" stroke-width="3" stroke-linecap="square" opacity="0.26"/>
<use href="#p0_14" stroke="#00c4d7" stroke-width="3" stroke-linecap="square" opacity="0.27"/>
<use href="#p0_15" stroke="#06d3b2" stroke-width="3" stroke-linecap="square" opacity="0.28"/>
<use href="#p0_16" stroke="#0fdc83" stroke-width="3" stroke-linecap="square" opacity="0.29"/>
<use href="#p0_17" stroke="#20e35c" stroke-width="3" stroke-linecap="square" opacity="0.30"/>
<use href="#p0_18" stroke="#37e83c" stroke-width="3" stroke-linecap="square" opacity="0.31"/>
<use href="#p0_19" stroke="#55eb24" stroke-width="3" stroke-linecap="square" opacity="0.32"/>
<use href="#p0_20" stroke="#7eed1c" stroke-width="3" stroke-linecap="square" opacity="0.33"/>
<use href="#p0_21" stroke="#a7ef14" stroke-width="3" stroke-linecap="square" opacity="0.34"/>
<use href="#p0_1" stroke="#8793f6" opacity="0.51"/>
<use href="#p0_2" stroke="#7886f7" opacity="0.56"/>
<use href="#p0_3" stroke="#6a7af7" opacity="0.62"/>
<use href="#p0_4" stroke="#5d70f6" opacity="0.68"/>
<use href="#p0_5" stroke="#5167f5" opacity="0.74"/>
<use href="#p0_6" stroke="#455ef5" opacity="0.79"/>
<use href="#p0_7" stroke="#3858f6" opacity="0.85"/>
<use href="#p0_8" stroke="#2c52f8" opacity="0.91"/>
<use href="#p0_9" stroke="#204cf9" opacity="0.97"/>
<use href="#p0_10" stroke="#145dfb" opacity="1.00"/>
<use href="#p0_11" stroke="#0973fd" opacity="1.00"/>
<use href="#p0_12" stroke="#008afc" opacity="1.00"/>
<use href="#p0_13" stroke="#00a7ea" opacity="1.00"/>
<use href="#p0_14" stroke="#00c4d7" opacity="1.00"/>
<use href="#p0_15" stroke="#06d3b2" opacity="1.00"/>
<use href="#p0_16" stroke="#0fdc83" opacity="1.00"/>
<use href="#p0_17" stroke="#20e35c" opacity="1.00"/>
<use href="#p0_18" stroke="#37e83c" opacity="1.00"/>
<use href="#p0_19" stroke="#55eb24" opacity="1.00"/>
<use href="#p0_20" stroke="#7eed1c" opacity="1.00"/>
<use href="#p0_21" stroke="#a7ef14" opacity="1.00"/>
</g></g>
<g clip-path="url(#c1)" fill="none"><g transform="translate(126,34.5)">
<use href="#p1_1" stroke="#8793f6" stroke-width="3" stroke-linecap="square" opacity="0.14"/>
<use href="#p1_2" stroke="#7886f7" stroke-width="3" stroke-linecap="square" opacity="0.15"/>
<use href="#p1_3" stroke="#6a7af7" stroke-width="3" stroke-linecap="square" opacity="0.16"/>
<use href="#p1_4" stroke="#5d70f6" stroke-width="3" stroke-linecap="square" opacity="0.17"/>
<use href="#p1_5" stroke="#5167f5" stroke-width="3" stroke-linecap="square" opacity="0.18"/>
<use href="#p1_6" stroke="#455ef5" stroke-width="3" stroke-linecap="square" opacity="0.19"/>
<use href="#p1_7" stroke="#3858f6" stroke-width="3" stroke-linecap="square" opacity="0.20"/>
<use href="#p1_8" stroke="#2c52f8" stroke-width="3" stroke-linecap="square" opacity="0.21"/>
<use href="#p1_9" stroke="#204cf9" stroke-width="3" stroke-linecap="square" opacity="0.22"/>
<use href="#p1_10" stroke="#145dfb" stroke-width="3" stroke-linecap="square" opacity="0.23"/>
<use href="#p1_11" stroke="#0973fd" stroke-width="3" stroke-linecap="square" opacity="0.24"/>
<use href="#p1_12" stroke="#008afc" stroke-width="3" stroke-linecap="square" opacity="0.25"/>
<use href="#p1_13" stroke="#00a7ea" stroke-width="3" stroke-linecap="square" opacity="0.26"/>
<use href="#p1_14" stroke="#00c4d7" stroke-width="3" stroke-linecap="square" opacity="0.27"/>
<use href="#p1_15" stroke="#06d3b2" stroke-width="3" stroke-linecap="square" opacity="0.28"/>
<use href="#p1_16" stroke="#0fdc83" stroke-width="3" stroke-linecap="square" opacity="0.29"/>
<use href="#p1_17" stroke="#20e35c" stroke-width="3" stroke-linecap="square" opacity="0.30"/>
<use href="#p1_18" stroke="#37e83c" stroke-width="3" stroke-linecap="square" opacity="0.31"/>
<use href="#p1_19" stroke="#55eb24" stroke-width="3" stroke-linecap="square" opacity="0.32"/>
<use href="#p1_20" stroke="#7eed1c" stroke-width="3" stroke-linecap="square" opacity="0.33"/>
<use href="#p1_21" stroke="#a7ef14" stroke-width="3" stroke-linecap="square" opacity="0.34"/>
<use href="#p1_22" stroke="#c8ec0c" stroke-width="3" stroke-linecap="square" opacity="0.35"/>
<use href="#p1_1" stroke="#8793f6" opacity="0.51"/>
<use href="#p1_2" stroke="#7886f7" opacity="0.56"/>
<use href="#p1_3" stroke="#6a7af7" opacity="0.62"/>
<use href="#p1_4" stroke="#5d70f6" opacity="0.68"/>
<use href="#p1_5" stroke="#5167f5" opacity="0.74"/>
<use href="#p1_6" stroke="#455ef5" opacity="0.79"/>
<use href="#p1_7" stroke="#3858f6" opacity="0.85"/>
<use href="#p1_8" stroke="#2c52f8" opacity="0.91"/>
<use href="#p1_9" stroke="#204cf9" opacity="0.97"/>
<use href="#p1_10" stroke="#145dfb" opacity="1.00"/>
<use href="#p1_11" stroke="#0973fd" opacity="1.00"/>
<use href="#p1_12" stroke="#008afc" opacity="1.00"/>
<use href="#p1_13" stroke="#00a7ea" opacity="1.00"/>
<use href="#p1_14" stroke="#00c4d7" opacity="1.00"/>
<use href="#p1_15" stroke="#06d3b2" opacity="1.00"/>
<use href="#p1_16" stroke="#0fdc83" opacity="1.00"/>
<use href="#p1_17" stroke="#20e35c" opacity="1.00"/>
<use href="#p1_18" stroke="#37e83c" opacity="1.00"/>
<use href="#p1_19" stroke="#55eb24" opacity="1.00"/>
<use href="#p1_20" stroke="#7eed1c" opacity="1.00"/>
<use href="#p1_21" stroke="#a7ef14" opacity="1.00"/>
<use href="#p1_22" stroke="#c8ec0c" opacity="1.00"/>
</g></g>
<g clip-path="url(#c2)" fill="none"><g transform="translate(23,131.5)">
<use href="#p2_1" stroke="#8793f6" stroke-width="3" stroke-linecap="square" opacity="0.14"/>
<use href="#p2_2" stroke="#7886f7" stroke-width="3" stroke-linecap="square" opacity="0.15"/>
<use href="#p2_3" stroke="#6a7af7" stroke-width="3" stroke-linecap="square" opacity="0.16"/>
<use href="#p2_4" stroke="#5d70f6" stroke-width="3" stroke-linecap="square" opacity="0.17"/>
<use href="#p2_5" stroke="#5167f5" stroke-width="3" stroke-linecap="square" opacity="0.18"/>
<use href="#p2_6" stroke="#455ef5" stroke-width="3" stroke-linecap="square" opacity="0.19"/>
<use href="#p2_7" stroke="#3858f6" stroke-width="3" stroke-linecap="square" opacity="0.20"/>
<use href="#p2_8" stroke="#2c52f8" stroke-width="3" stroke-linecap="square" opacity="0.21"/>
<use href="#p2_9" stroke="#204cf9" stroke-width="3" stroke-linecap="square" opacity="0.22"/>
<use href="#p2_10" stroke="#145dfb" stroke-width="3" stroke-linecap="square" opacity="0.23"/>
<use href="#p2_11" stroke="#0973fd" stroke-width="3" stroke-linecap="square" opacity="0.24"/>
<use href="#p2_12" stroke="#008afc" stroke-width="3" stroke-linecap="square" opacity="0.25"/>
<use href="#p2_13" stroke="#00a7ea" stroke-width="3" stroke-linecap="square" opacity="0.26"/>
<use href="#p2_14" stroke="#00c4d7" stroke-width="3" stroke-linecap="square" opacity="0.27"/>
<use href="#p2_15" stroke="#06d3b2" stroke-width="3" stroke-linecap="square" opacity="0.28"/>
<use href="#p2_16" stroke="#0fdc83" stroke-width="3" stroke-linecap="square" opacity="0.29"/>
<use href="#p2_17" stroke="#20e35c" stroke-width="3" stroke-linecap="square" opacity="0.30"/>
<use href="#p2_18" stroke="#37e83c" stroke-width="3" stroke-linecap="square" opacity="0.31"/>
<use href="#p2_19" stroke="#55eb24" stroke-width="3" stroke-linecap="square" opacity="0.32"/>
<use href="#p2_20" stroke="#7eed1c" stroke-width="3" stroke-linecap="square" opacity="0.33"/>
<use href="#p2_21" stroke="#a7ef14" stroke-width="3" stroke-linecap="square" opacity="0.34"/>
<use href="#p2_22" stroke="#c8ec0c" stroke-width="3" stroke-linecap="square" opacity="0.35"/>
<use href="#p2_23" stroke="#e9e804" stroke-width="3" stroke-linecap="square" opacity="0.36"/>
<use href="#p2_24" stroke="#fbcd00" stroke-width="3" stroke-linecap="square" opacity="0.37"/>
<use href="#p2_25" stroke="#fd9e00" stroke-width="3" stroke-linecap="square" opacity="0.38"/>
<use href="#p2_1" stroke="#8793f6" opacity="0.51"/>
<use href="#p2_2" stroke="#7886f7" opacity="0.56"/>
<use href="#p2_3" stroke="#6a7af7" opacity="0.62"/>
<use href="#p2_4" stroke="#5d70f6" opacity="0.68"/>
<use href="#p2_5" stroke="#5167f5" opacity="0.74"/>
<use href="#p2_6" stroke="#455ef5" opacity="0.79"/>
<use href="#p2_7" stroke="#3858f6" opacity="0.85"/>
<use href="#p2_8" stroke="#2c52f8" opacity="0.91"/>
<use href="#p2_9" stroke="#204cf9" opacity="0.97"/>
<use href="#p2_10" stroke="#145dfb" opacity="1.00"/>
<use href="#p2_11" stroke="#0973fd" opacity="1.00"/>
<use href="#p2_12" stroke="#008afc" opacity="1.00"/>
<use href="#p2_13" stroke="#00a7ea" opacity="1.00"/>
<use href="#p2_14" stroke="#00c4d7" opacity="1.00"/>
<use href="#p2_15" stroke="#06d3b2" opacity="1.00"/>
<use href="#p2_16" stroke="#0fdc83" opacity="1.00"/>
<use href="#p2_17" stroke="#20e35c" opacity="1.00"/>
<use href="#p2_18" stroke="#37e83c" opacity="1.00"/>
<use href="#p2_19" stroke="#55eb24" opacity="1.00"/>
<use href="#p2_20" stroke="#7eed1c" opacity="1.00"/>
<use href="#p2_21" stroke="#a7ef14" opacity="1.00"/>
<use href="#p2_22" stroke="#c8ec0c" opacity="1.00"/>
<use href="#p2_23" stroke="#e9e804" opacity="1.00"/>
<use href="#p2_24" stroke="#fbcd00" opacity="1.00"/>
<use href="#p2_25" stroke="#fd9e00" opacity="1.00"/>
</g></g>
<g clip-path="url(#c3)" fill="none"><g transform="translate(126,131.5)">
<use href="#p3_1" stroke="#8793f6" stroke-width="3" stroke-linecap="square" opacity="0.14"/>
<use href="#p3_2" stroke="#7886f7" stroke-width="3" stroke-linecap="square" opacity="0.15"/>
<use href="#p3_3" stroke="#6a7af7" stroke-width="3" stroke-linecap="square" opacity="0.16"/>
<use href="#p3_4" stroke="#5d70f6" stroke-width="3" stroke-linecap="square" opacity="0.17"/>
<use href="#p3_5" stroke="#5167f5" stroke-width="3" stroke-linecap="square" opacity="0.18"/>
<use href="#p3_6" stroke="#455ef5" stroke-width="3" stroke-linecap="square" opacity="0.19"/>
<use href="#p3_7" stroke="#3858f6" stroke-width="3" stroke-linecap="square" opacity="0.20"/>
<use href="#p3_8" stroke="#2c52f8" stroke-width="3" stroke-linecap="square" opacity="0.21"/>
<use href="#p3_9" stroke="#204cf9" stroke-width="3" stroke-linecap="square" opacity="0.22"/>
<use href="#p3_10" stroke="#145dfb" stroke-width="3" stroke-linecap="square" opacity="0.23"/>
<use href="#p3_11" stroke="#0973fd" stroke-width="3" stroke-linecap="square" opacity="0.24"/>
<use href="#p3_12" stroke="#008afc" stroke-width="3" stroke-linecap="square" opacity="0.25"/>
<use href="#p3_13" stroke="#00a7ea" stroke-width="3" stroke-linecap="square" opacity="0.26"/>
<use href="#p3_14" stroke="#00c4d7" stroke-width="3" stroke-linecap="square" opacity="0.27"/>
<use href="#p3_15" stroke="#06d3b2" stroke-width="3" stroke-linecap="square" opacity="0.28"/>
<use href="#p3_16" stroke="#0fdc83" stroke-width="3" stroke-linecap="square" opacity="0.29"/>
<use href="#p3_17" stroke="#20e35c" stroke-width="3" stroke-linecap="square" opacity="0.30"/>
<use href="#p3_18" stroke="#37e83c" stroke-width="3" stroke-linecap="square" opacity="0.31"/>
<use href="#p3_19" stroke="#55eb24" stroke-width="3" stroke-linecap="square" opacity="0.32"/>
<use href="#p3_20" stroke="#7eed1c" stroke-width="3" stroke-linecap="square" opacity="0.33"/>
<use href="#p3_1" stroke="#8793f6" opacity="0.51"/>
<use href="#p3_2" stroke="#7886f7" opacity="0.56"/>
<use href="#p3_3" stroke="#6a7af7" opacity="0.62"/>
<use href="#p3_4" stroke="#5d70f6" opacity="0.68"/>
<use href="#p3_5" stroke="#5167f5" opacity="0.74"/>
<use href="#p3_6" stroke="#455ef5" opacity="0.79"/>
<use href="#p3_7" stroke="#3858f6" opacity="0.85"/>
<use href="#p3_8" stroke="#2c52f8" opacity="0.91"/>
<use href="#p3_9" stroke="#204cf9" opacity="0.97"/>
<use href="#p3_10" stroke="#145dfb" opacity="1.00"/>
<use href="#p3_11" stroke="#0973fd" opacity="1.00"/>
<use href="#p3_12" stroke="#008afc" opacity="1.00"/>
<use href="#p3_13" stroke="#00a7ea" opacity="1.00"/>
<use href="#p3_14" stroke="#00c4d7" opacity="1.00"/>
<use href="#p3_15" stroke="#06d3b2" opacity="1.00"/>
<use href="#p3_16" stroke="#0fdc83" opacity="1.00"/>
<use href="#p3_17" stroke="#20e35c" opacity="1.00"/>
<use href="#p3_18" stroke="#37e83c" opacity="1.00"/>
<use href="#p3_19" stroke="#55eb24" opacity="1.00"/>
<use href="#p3_20" stroke="#7eed1c" opacity="1.00"/>
</g></g>
<g clip-path="url(#c4)" fill="none"><g transform="translate(23,285.5)">
<use href="#p4_1" stroke="#8793f6" stroke-width="3" stroke-linecap="square" opacity="0.14"/>
<use href="#p4_2" stroke="#7886f7" stroke-width="3" stroke-linecap="square" opacity="0.15"/>
<use href="#p4_3" stroke="#6a7af7" stroke-width="3" stroke-linecap="square" opacity="0.16"/>
<use href="#p4_4" stroke="#5d70f6" stroke-width="3" stroke-linecap="square" opacity="0.17"/>
<use href="#p4_5" stroke="#5167f5" stroke-width="3" stroke-linecap="square" opacity="0.18"/>
<use href="#p4_6" stroke="#455ef5" stroke-width="3" stroke-linecap="square" opacity="0.19"/>
<use href="#p4_7" stroke="#3858f6" stroke-width="3" stroke-linecap="square" opacity="0.20"/>
<use href="#p4_8" stroke="#2c52f8" stroke-width="3" stroke-linecap="square" opacity="0.21"/>
<use href="#p4_9" stroke="#204cf9" stroke-width="3" stroke-linecap="square" opacity="0.22"/>
<use href="#p4_10" stroke="#145dfb" stroke-width="3" stroke-linecap="square" opacity="0.23"/>
<use href="#p4_11" stroke="#0973fd" stroke-width="3" stroke-linecap="square" opacity="0.24"/>
<use href="#p4_12" stroke="#008afc" stroke-width="3" stroke-linecap="square" opacity="0.25"/>
<use href="#p4_13" stroke="#00a7ea" stroke-width="3" stroke-linecap="square" opacity="0.26"/>
<use href="#p4_14" stroke="#00c4d7" stroke-width="3" stroke-linecap="square" opacity="0.27"/>
<use href="#p4_15" stroke="#06d3b2" stroke-width="3" stroke-linecap="square" opacity="0.28"/>
<use href="#p4_16" stroke="#0fdc83" stroke-width="3" stroke-linecap="square" opacity="0.29"/>
<use href="#p4_17" stroke="#20e35c" stroke-width="3" stroke-linecap="square" opacity="0.30"/>
<use href="#p4_18" stroke="#37e83c" stroke-width="3" stroke-linecap="square" opacity="0.31"/>
<use href="#p4_19" stroke="#55eb24" stroke-width="3" stroke-linecap="square" opacity="0.32"/>
<use href="#p4_20" stroke="#7eed1c" stroke-width="3" stroke-linecap="square" opacity="0.33"/>
<use href="#p4_21" stroke="#a7ef14" stroke-width="3" stroke-linecap="square" opacity="0.34"/>
<use href="#p4_22" stroke="#c8ec0c" stroke-width="3" stroke-linecap="square" opacity="0.35"/>
<use href="#p4_23" stroke="#e9e804" stroke-width="3" stroke-linecap="square" opacity="0.36"/>
<use href="#p4_24" stroke="#fbcd00" stroke-width="3" stroke-linecap="square" opacity="0.37"/>
<use href="#p4_25" stroke="#fd9e00" stroke-width="3" stroke-linecap="square" opacity="0.38"/>
<use href="#p4_26" stroke="#ff6500" stroke-width="3" stroke-linecap="square" opacity="0.39"/>
<use href="#p4_27" stroke="#ff2800" stroke-width="3" stroke-linecap="square" opacity="0.40"/>
<use href="#p4_1" stroke="#8793f6" opacity="0.51"/>
<use href="#p4_2" stroke="#7886f7" opacity="0.56"/>
<use href="#p4_3" stroke="#6a7af7" opacity="0.62"/>
<use href="#p4_4" stroke="#5d70f6" opacity="0.68"/>
<use href="#p4_5" stroke="#5167f5" opacity="0.74"/>
<use href="#p4_6" stroke="#455ef5" opacity="0.79"/>
<use href="#p4_7" stroke="#3858f6" opacity="0.85"/>
<use href="#p4_8" stroke="#2c52f8" opacity="0.91"/>
<use href="#p4_9" stroke="#204cf9" opacity="0.97"/>
<use href="#p4_10" stroke="#145dfb" opacity="1.00"/>
<use href="#p4_11" stroke="#0973fd" opacity="1.00"/>
<use href="#p4_12" stroke="#008afc" opacity="1.00"/>
<use href="#p4_13" stroke="#00a7ea" opacity="1.00"/>
<use href="#p4_14" stroke="#00c4d7" opacity="1.00"/>
<use href="#p4_15" stroke="#06d3b2" opacity="1.00"/>
<use href="#p4_16" stroke="#0fdc83" opacity="1.00"/>
<use href="#p4_17" stroke="#20e35c" opacity="1.00"/>
<use href="#p4_18" stroke="#37e83c" opacity="1.00"/>
<use href="#p4_19" stroke="#55eb24" opacity="1.00"/>
<use href="#p4_20" stroke="#7eed1c" opacity="1.00"/>
<use href="#p4_21" stroke="#a7ef14" opacity="1.00"/>
<use href="#p4_22" stroke="#c8ec0c" opacity="1.00"/>
<use href="#p4_23" stroke="#e9e804" opacity="1.00"/>
<use href="#p4_24" stroke="#fbcd00" opacity="1.00"/>
<use href="#p4_25" stroke="#fd9e00" opacity="1.00"/>
<use href="#p4_26" stroke="#ff6500" opacity="1.00"/>
<use href="#p4_27" stroke="#ff2800" opacity="1.00"/>
</g></g>
<g clip-path="url(#c5)" fill="none"><g transform="translate(124,285.5)">
<use href="#p5_1" stroke="#8793f6" stroke-width="3" stroke-linecap="square" opacity="0.14"/>
<use href="#p5_2" stroke="#7886f7" stroke-width="3" stroke-linecap="square" opacity="0.15"/>
<use href="#p5_3" stroke="#6a7af7" stroke-width="3" stroke-linecap="square" opacity="0.16"/>
<use href="#p5_4" stroke="#5d70f6" stroke-width="3" stroke-linecap="square" opacity="0.17"/>
<use href="#p5_5" stroke="#5167f5" stroke-width="3" stroke-linecap="square" opacity="0.18"/>
<use href="#p5_6" stroke="#455ef5" stroke-width="3" stroke-linecap="square" opacity="0.19"/>
<use href="#p5_7" stroke="#3858f6" stroke-width="3" stroke-linecap="square" opacity="0.20"/>
<use href="#p5_8" stroke="#2c52f8" stroke-width="3" stroke-linecap="square" opacity="0.21"/>
<use href="#p5_9" stroke="#204cf9" stroke-width="3" stroke-linecap="square" opacity="0.22"/>
<use href="#p5_10" stroke="#145dfb" stroke-width="3" stroke-linecap="square" opacity="0.23"/>
<use href="#p5_11" stroke="#0973fd" stroke-width="3" stroke-linecap="square" opacity="0.24"/>
<use href="#p5_12" stroke="#008afc" stroke-width="3" stroke-linecap="square" opacity="0.25"/>
<use href="#p5_13" stroke="#00a7ea" stroke-width="3" stroke-linecap="square" opacity="0.26"/>
<use href="#p5_14" stroke="#00c4d7" stroke-width="3" stroke-linecap="square" opacity="0.27"/>
<use href="#p5_15" stroke="#06d3b2" stroke-width="3" stroke-linecap="square" opacity="0.28"/>
<use href="#p5_16" stroke="#0fdc83" stroke-width="3" stroke-linecap="square" opacity="0.29"/>
<use href="#p5_17" stroke="#20e35c" stroke-width="3" stroke-linecap="square" opacity="0.30"/>
<use href="#p5_18" stroke="#37e83c" stroke-width="3" stroke-linecap="square" opacity="0.31"/>
<use href="#p5_19" stroke="#55eb24" stroke-width="3" stroke-linecap="square" opacity="0.32"/>
<use href="#p5_20" stroke="#7eed1c" stroke-width="3" stroke-linecap="square" opacity="0.33"/>
<use href="#p5_21" stroke="#a7ef14" stroke-width="3" stroke-linecap="square" opacity="0.34"/>
<use href="#p5_22" stroke="#c8ec0c" stroke-width="3" stroke-linecap="square" opacity="0.35"/>
<use href="#p5_23" stroke="#e9e804" stroke-width="3" stroke-linecap="square" opacity="0.36"/>
<use href="#p5_24" stroke="#fbcd00" stroke-width="3" stroke-linecap="square" opacity="0.37"/>
<use href="#p5_25" stroke="#fd9e00" stroke-width="3" stroke-linecap="square" opacity="0.38"/>
<use href="#p5_26" stroke="#ff6500" stroke-width="3" stroke-linecap="square" opacity="0.39"/>
<use href="#p5_1" stroke="#8793f6" opacity="0.51"/>
<use href="#p5_2" stroke="#7886f7" opacity="0.56"/>
<use href="#p5_3" stroke="#6a7af7" opacity="0.62"/>
<use href="#p5_4" stroke="#5d70f6" opacity="0.68"/>
<use href="#p5_5" stroke="#5167f5" opacity="0.74"/>
<use href="#p5_6" stroke="#455ef5" opacity="0.79"/>
<use href="#p5_7" stroke="#3858f6" opacity="0.85"/>
<use href="#p5_8" stroke="#2c52f8" opacity="0.91"/>
<use href="#p5_9" stroke="#204cf9" opacity="0.97"/>
<use href="#p5_10" stroke="#145dfb" opacity="1.00"/>
<use href="#p5_11" stroke="#0973fd" opacity="1.00"/>
<use href="#p5_12" stroke="#008afc" opacity="1.00"/>
<use href="#p5_13" stroke="#00a7ea" opacity="1.00"/>
<use href="#p5_14" stroke="#00c4d7" opacity="1.00"/>
<use href="#p5_15" stroke="#06d3b2" opacity="1.00"/>
<use href="#p5_16" stroke="#0fdc83" opacity="1.00"/>
<use href="#p5_17" stroke="#20e35c" opacity="1.00"/>
<use href="#p5_18" stroke="#37e83c" opacity="1.00"/>
<use href="#p5_19" stroke="#55eb24" opacity="1.00"/>
<use href="#p5_20" stroke="#7eed1c" opacity="1.00"/>
<use href="#p5_21" stroke="#a7ef14" opacity="1.00"/>
<use href="#p5_22" stroke="#c8ec0c" opacity="1.00"/>
<use href="#p5_23" stroke="#e9e804" opacity="1.00"/>
<use href="#p5_24" stroke="#fbcd00" opacity="1.00"/>
<use href="#p5_25" stroke="#fd9e00" opacity="1.00"/>
<use href="#p5_26" stroke="#ff6500" opacity="1.00"/>
</g></g>
<rect x="23.3" y="34.2" width="91.0" height="90.3" fill="none" stroke="#8c8c8c" stroke-width="1"/>
<line x1="65.6" y1="34.2" x2="65.6" y2="124.5" stroke="#7a7a7a" stroke-width="0.9"/>
<line x1="23.3" y1="79.2" x2="114.3" y2="79.2" stroke="#7a7a7a" stroke-width="0.9"/>
<text x="25.3" y="44.0" font-size="10.6" fill="#111">3</text>
<text x="112.7" y="44.0" font-size="10.6" text-anchor="end" fill="#111">17</text>
<rect x="23.8" y="113.7" width="15.0" height="10.3" fill="#fff"/>
<text x="25.3" y="122.6" font-size="10.6" fill="#111">75</text>
<text x="112.7" y="122.6" font-size="10.6" text-anchor="end" fill="#111">5</text>
<rect x="126.7" y="34.2" width="90.7" height="90.3" fill="none" stroke="#8c8c8c" stroke-width="1"/>
<line x1="169.5" y1="34.2" x2="169.5" y2="124.5" stroke="#7a7a7a" stroke-width="0.9"/>
<line x1="126.7" y1="79.2" x2="217.4" y2="79.2" stroke="#7a7a7a" stroke-width="0.9"/>
<text x="128.7" y="44.0" font-size="10.6" fill="#111">4</text>
<text x="215.8" y="44.0" font-size="10.6" text-anchor="end" fill="#111">6</text>
<rect x="127.2" y="113.7" width="15.0" height="10.3" fill="#fff"/>
<text x="128.7" y="122.6" font-size="10.6" fill="#111">87</text>
<text x="215.8" y="122.6" font-size="10.6" text-anchor="end" fill="#111">3</text>
<rect x="23.3" y="131.4" width="91.0" height="90.29999999999998" fill="none" stroke="#8c8c8c" stroke-width="1"/>
<line x1="65.6" y1="131.4" x2="65.6" y2="221.7" stroke="#7a7a7a" stroke-width="0.9"/>
<line x1="23.3" y1="176.3" x2="114.3" y2="176.3" stroke="#7a7a7a" stroke-width="0.9"/>
<text x="25.3" y="141.20000000000002" font-size="10.6" fill="#111">1</text>
<text x="112.7" y="141.20000000000002" font-size="10.6" text-anchor="end" fill="#111">61</text>
<rect x="23.8" y="210.89999999999998" width="15.0" height="10.3" fill="#fff"/>
<text x="25.3" y="219.79999999999998" font-size="10.6" fill="#111">34</text>
<text x="112.7" y="219.79999999999998" font-size="10.6" text-anchor="end" fill="#111">4</text>
<rect x="126.7" y="131.4" width="90.7" height="90.29999999999998" fill="none" stroke="#8c8c8c" stroke-width="1"/>
<line x1="169.4" y1="131.4" x2="169.4" y2="221.7" stroke="#7a7a7a" stroke-width="0.9"/>
<line x1="126.7" y1="176.2" x2="217.4" y2="176.2" stroke="#7a7a7a" stroke-width="0.9"/>
<text x="128.7" y="141.20000000000002" font-size="10.6" fill="#111">1</text>
<text x="215.8" y="141.20000000000002" font-size="10.6" text-anchor="end" fill="#111">2</text>
<rect x="127.2" y="210.89999999999998" width="15.0" height="10.3" fill="#fff"/>
<text x="128.7" y="219.79999999999998" font-size="10.6" fill="#111">97</text>
<text x="215.8" y="219.79999999999998" font-size="10.6" text-anchor="end" fill="#111">1</text>
<text x="45.2" y="20.0" font-size="10.4" font-style="italic" fill="#111">Mcl-1</text>
<text x="71.2" y="14.8" font-size="10.1" fill="#111">f/wt</text>
<text x="90.6" y="19.6" font-size="9.4" fill="#111">+</text>
<text x="45.2" y="30.4" font-size="10.4" fill="#111">LysM-Cre</text>
<text x="146.7" y="19.8" font-size="10.4" font-style="italic" fill="#111">Mcl-1</text>
<text x="172.7" y="14.600000000000001" font-size="10.1" fill="#111">f/null</text>
<text x="198.8" y="19.400000000000002" font-size="9.4" fill="#111">+</text>
<text x="146.7" y="30.6" font-size="10.4" fill="#111">LysM-Cre</text>
<text x="224.4" y="77.7" font-size="10.4" fill="#111">Vehicle</text>
<text x="224.3" y="90.7" font-size="10.4" fill="#111">Control</text>
<text x="224.3" y="179.5" font-size="10.5" fill="#111">G-CSF</text>
<text x="1.4" y="131.7" font-size="10.2" fill="#111">Gr1</text>
<text x="107.1" y="234.0" font-size="10.2" fill="#111">Mac-1</text>
<rect x="23.6" y="285.9" width="93.5" height="93.80000000000001" fill="none" stroke="#555" stroke-width="1"/>
<line x1="71.0" y1="285.9" x2="71.0" y2="379.7" stroke="#333" stroke-width="0.9"/>
<line x1="23.6" y1="306.1" x2="117.1" y2="306.1" stroke="#333" stroke-width="0.9"/>
<text x="25.6" y="295.7" font-size="10.6" fill="#111">1</text>
<text x="115.5" y="295.7" font-size="10.6" text-anchor="end" fill="#111">36</text>
<rect x="24.1" y="368.9" width="15.0" height="10.3" fill="#fff"/>
<text x="25.6" y="377.8" font-size="10.6" fill="#111">31</text>
<text x="115.5" y="377.8" font-size="10.6" text-anchor="end" fill="#111">32</text>
<rect x="124.2" y="285.9" width="94.8" height="93.70000000000005" fill="none" stroke="#555" stroke-width="1"/>
<line x1="171.6" y1="285.9" x2="171.6" y2="379.6" stroke="#333" stroke-width="0.9"/>
<line x1="124.2" y1="305.9" x2="219.0" y2="305.9" stroke="#333" stroke-width="0.9"/>
<text x="126.2" y="295.7" font-size="10.6" fill="#111">0</text>
<text x="217.4" y="295.7" font-size="10.6" text-anchor="end" fill="#111">2</text>
<rect x="124.7" y="368.8" width="15.0" height="10.3" fill="#fff"/>
<text x="126.2" y="377.70000000000005" font-size="10.6" fill="#111">22</text>
<text x="217.4" y="377.70000000000005" font-size="10.6" text-anchor="end" fill="#111">76</text>
<text x="46.9" y="271.2" font-size="10.4" font-style="italic" fill="#111">Mcl-1</text>
<text x="72.9" y="266.0" font-size="10.1" fill="#111">f/wt</text>
<text x="92.9" y="270.8" font-size="9.4" fill="#111">+</text>
<text x="46.9" y="281.9" font-size="10.4" fill="#111">LysM-Cre</text>
<text x="144.3" y="271.2" font-size="10.4" font-style="italic" fill="#111">Mcl-1</text>
<text x="170.3" y="266.0" font-size="10.1" fill="#111">f/null</text>
<text x="196.4" y="270.8" font-size="9.4" fill="#111">+</text>
<text x="144.3" y="281.9" font-size="10.4" fill="#111">LysM-Cre</text>
<text x="2.0" y="337.7" font-size="10.2" fill="#111">Gr1</text>
<text x="107.1" y="395.8" font-size="10.2" fill="#111">Mac-1</text>
<line x1="306.2" y1="38.3" x2="306.2" y2="210.8" stroke="#333" stroke-width="0.9"/>
<line x1="305.8" y1="210.5" x2="516.5" y2="210.5" stroke="#333" stroke-width="0.9"/>
<line x1="303.4" y1="210.3" x2="306.2" y2="210.3" stroke="#333" stroke-width="0.9"/>
<text x="302.2" y="213.8" font-size="9.8" text-anchor="end" fill="#111">0</text>
<line x1="304.6" y1="193.15" x2="306.2" y2="193.15" stroke="#333" stroke-width="0.8"/>
<line x1="303.4" y1="176.0" x2="306.2" y2="176.0" stroke="#333" stroke-width="0.9"/>
<text x="302.2" y="179.5" font-size="9.8" text-anchor="end" fill="#111">20</text>
<line x1="304.6" y1="158.85000000000002" x2="306.2" y2="158.85000000000002" stroke="#333" stroke-width="0.8"/>
<line x1="303.4" y1="141.7" x2="306.2" y2="141.7" stroke="#333" stroke-width="0.9"/>
<text x="302.2" y="145.2" font-size="9.8" text-anchor="end" fill="#111">40</text>
<line x1="304.6" y1="124.55000000000001" x2="306.2" y2="124.55000000000001" stroke="#333" stroke-width="0.8"/>
<line x1="303.4" y1="107.4" x2="306.2" y2="107.4" stroke="#333" stroke-width="0.9"/>
<text x="302.2" y="110.9" font-size="9.8" text-anchor="end" fill="#111">60</text>
<line x1="304.6" y1="90.25" x2="306.2" y2="90.25" stroke="#333" stroke-width="0.8"/>
<line x1="303.4" y1="73.1" x2="306.2" y2="73.1" stroke="#333" stroke-width="0.9"/>
<text x="302.2" y="76.6" font-size="9.8" text-anchor="end" fill="#111">80</text>
<line x1="304.6" y1="55.95000000000002" x2="306.2" y2="55.95000000000002" stroke="#333" stroke-width="0.8"/>
<line x1="303.4" y1="38.80000000000001" x2="306.2" y2="38.80000000000001" stroke="#333" stroke-width="0.9"/>
<text x="302.2" y="42.30000000000001" font-size="9.8" text-anchor="end" fill="#111">100</text>
<line x1="310.5" y1="210.5" x2="310.5" y2="213.6" stroke="#333" stroke-width="0.9"/>
<text x="310.5" y="223.8" font-size="10.2" text-anchor="middle" fill="#111">0</text>
<line x1="333.65" y1="210.5" x2="333.65" y2="212.4" stroke="#333" stroke-width="0.8"/>
<line x1="356.8" y1="210.5" x2="356.8" y2="213.6" stroke="#333" stroke-width="0.9"/>
<text x="356.8" y="223.8" font-size="10.2" text-anchor="middle" fill="#111">10</text>
<line x1="379.95" y1="210.5" x2="379.95" y2="212.4" stroke="#333" stroke-width="0.8"/>
<line x1="403.1" y1="210.5" x2="403.1" y2="213.6" stroke="#333" stroke-width="0.9"/>
<text x="403.1" y="223.8" font-size="10.2" text-anchor="middle" fill="#111">20</text>
<line x1="426.25" y1="210.5" x2="426.25" y2="212.4" stroke="#333" stroke-width="0.8"/>
<line x1="449.4" y1="210.5" x2="449.4" y2="213.6" stroke="#333" stroke-width="0.9"/>
<text x="449.4" y="223.8" font-size="10.2" text-anchor="middle" fill="#111">30</text>
<line x1="472.54999999999995" y1="210.5" x2="472.54999999999995" y2="212.4" stroke="#333" stroke-width="0.8"/>
<line x1="495.7" y1="210.5" x2="495.7" y2="213.6" stroke="#333" stroke-width="0.9"/>
<text x="495.7" y="223.8" font-size="10.2" text-anchor="middle" fill="#111">40</text>
<text x="363.0" y="238.0" font-size="9.55" fill="#111">Time in Culture (hrs)</text>
<text transform="translate(286.8,126.5) rotate(-90)" font-size="10.7" text-anchor="middle" fill="#111">Percentage Gr1<tspan font-size="6.5" dy="-3.5">+</tspan><tspan dy="3.5">Annexin-V</tspan><tspan font-size="6.5" dy="-3.5">+</tspan><tspan dy="3.5"> Cells</tspan></text>
<polyline points="310.50,203.10 384.58,201.38 421.62,201.90 495.70,200.70" fill="none" stroke="#c08080" stroke-width="0.9"/>
<polyline points="310.50,202.58 384.58,192.29 421.62,194.87 495.70,191.44" fill="none" stroke="#f08080" stroke-width="0.9"/>
<polyline points="310.50,191.78 384.58,86.82 421.62,75.33 495.70,58.01" fill="none" stroke="#8080e0" stroke-width="0.9"/>
<polyline points="310.50,203.44 384.58,188.00 421.62,192.29 495.70,196.58" fill="none" stroke="#80c8c0" stroke-width="0.9"/>
<line x1="384.58" y1="199.667" x2="384.58" y2="203.097" stroke="#c08080" stroke-width="0.8"/>
<line x1="383.08" y1="199.667" x2="386.08" y2="199.667" stroke="#c08080" stroke-width="0.8"/>
<line x1="383.08" y1="203.097" x2="386.08" y2="203.097" stroke="#c08080" stroke-width="0.8"/>
<line x1="421.62" y1="200.1815" x2="421.62" y2="203.6115" stroke="#c08080" stroke-width="0.8"/>
<line x1="420.12" y1="200.1815" x2="423.12" y2="200.1815" stroke="#c08080" stroke-width="0.8"/>
<line x1="420.12" y1="203.6115" x2="423.12" y2="203.6115" stroke="#c08080" stroke-width="0.8"/>
<line x1="495.7" y1="198.29500000000002" x2="495.7" y2="203.097" stroke="#c08080" stroke-width="0.8"/>
<line x1="494.2" y1="198.29500000000002" x2="497.2" y2="198.29500000000002" stroke="#c08080" stroke-width="0.8"/>
<line x1="494.2" y1="203.097" x2="497.2" y2="203.097" stroke="#c08080" stroke-width="0.8"/>
<line x1="384.58" y1="187.1475" x2="384.58" y2="197.4375" stroke="#f08080" stroke-width="0.8"/>
<line x1="383.08" y1="187.1475" x2="386.08" y2="187.1475" stroke="#f08080" stroke-width="0.8"/>
<line x1="383.08" y1="197.4375" x2="386.08" y2="197.4375" stroke="#f08080" stroke-width="0.8"/>
<line x1="421.62" y1="189.72" x2="421.62" y2="200.01000000000002" stroke="#f08080" stroke-width="0.8"/>
<line x1="420.12" y1="189.72" x2="423.12" y2="189.72" stroke="#f08080" stroke-width="0.8"/>
<line x1="420.12" y1="200.01000000000002" x2="423.12" y2="200.01000000000002" stroke="#f08080" stroke-width="0.8"/>
<line x1="495.7" y1="185.4325" x2="495.7" y2="197.4375" stroke="#f08080" stroke-width="0.8"/>
<line x1="494.2" y1="185.4325" x2="497.2" y2="185.4325" stroke="#f08080" stroke-width="0.8"/>
<line x1="494.2" y1="197.4375" x2="497.2" y2="197.4375" stroke="#f08080" stroke-width="0.8"/>
<line x1="384.58" y1="78.58800000000002" x2="384.58" y2="95.052" stroke="#8080e0" stroke-width="0.8"/>
<line x1="383.08" y1="78.58800000000002" x2="386.08" y2="78.58800000000002" stroke="#8080e0" stroke-width="0.8"/>
<line x1="383.08" y1="95.052" x2="386.08" y2="95.052" stroke="#8080e0" stroke-width="0.8"/>
<line x1="421.62" y1="63.3245" x2="421.62" y2="87.3345" stroke="#8080e0" stroke-width="0.8"/>
<line x1="420.12" y1="63.3245" x2="423.12" y2="63.3245" stroke="#8080e0" stroke-width="0.8"/>
<line x1="420.12" y1="87.3345" x2="423.12" y2="87.3345" stroke="#8080e0" stroke-width="0.8"/>
<line x1="495.7" y1="46.003000000000014" x2="495.7" y2="70.013" stroke="#8080e0" stroke-width="0.8"/>
<line x1="494.2" y1="46.003000000000014" x2="497.2" y2="46.003000000000014" stroke="#8080e0" stroke-width="0.8"/>
<line x1="494.2" y1="70.013" x2="497.2" y2="70.013" stroke="#8080e0" stroke-width="0.8"/>
<line x1="384.58" y1="176.0" x2="384.58" y2="200.01000000000002" stroke="#80c8c0" stroke-width="0.8"/>
<line x1="383.08" y1="176.0" x2="386.08" y2="176.0" stroke="#80c8c0" stroke-width="0.8"/>
<line x1="383.08" y1="200.01000000000002" x2="386.08" y2="200.01000000000002" stroke="#80c8c0" stroke-width="0.8"/>
<line x1="421.62" y1="187.1475" x2="421.62" y2="197.4375" stroke="#80c8c0" stroke-width="0.8"/>
<line x1="420.12" y1="187.1475" x2="423.12" y2="187.1475" stroke="#80c8c0" stroke-width="0.8"/>
<line x1="420.12" y1="197.4375" x2="423.12" y2="197.4375" stroke="#80c8c0" stroke-width="0.8"/>
<line x1="495.7" y1="188.005" x2="495.7" y2="205.155" stroke="#80c8c0" stroke-width="0.8"/>
<line x1="494.2" y1="188.005" x2="497.2" y2="188.005" stroke="#80c8c0" stroke-width="0.8"/>
<line x1="494.2" y1="205.155" x2="497.2" y2="205.155" stroke="#80c8c0" stroke-width="0.8"/>
<rect x="308.1" y="200.7" width="4.8" height="4.8" fill="#000"/>
<rect x="382.18" y="198.98" width="4.8" height="4.8" fill="#000"/>
<rect x="419.22" y="199.5" width="4.8" height="4.8" fill="#000"/>
<rect x="493.3" y="198.3" width="4.8" height="4.8" fill="#000"/>
<circle cx="310.50" cy="202.58" r="2.8000000000000003" fill="#e01010"/>
<circle cx="384.58" cy="192.29" r="2.8000000000000003" fill="#e01010"/>
<circle cx="421.62" cy="194.87" r="2.8000000000000003" fill="#e01010"/>
<circle cx="495.70" cy="191.44" r="2.8000000000000003" fill="#e01010"/>
<path d="M310.50 188.78L313.50 193.78L307.50 193.78Z" fill="#1010c0"/>
<path d="M384.58 83.82L387.58 88.82L381.58 88.82Z" fill="#1010c0"/>
<path d="M421.62 72.33L424.62 77.33L418.62 77.33Z" fill="#1010c0"/>
<path d="M495.70 55.01L498.70 60.01L492.70 60.01Z" fill="#1010c0"/>
<path d="M310.50 206.44L313.50 201.44L307.50 201.44Z" fill="#207070"/>
<path d="M384.58 191.00L387.58 186.00L381.58 186.00Z" fill="#207070"/>
<path d="M421.62 195.29L424.62 190.29L418.62 190.29Z" fill="#207070"/>
<path d="M495.70 199.58L498.70 194.58L492.70 194.58Z" fill="#207070"/>
<circle cx="310.50" cy="202.93" r="2.9" fill="#2f6670"/>
<rect x="381.2" y="103.4" width="136.6" height="70.1" fill="#fff" stroke="#555" stroke-width="0.8"/>
<line x1="385.5" y1="112.3" x2="406.5" y2="112.3" stroke="#c08080" stroke-width="0.9"/>
<rect x="393.8" y="109.9" width="4.8" height="4.8" fill="#000"/>
<text x="407.7" y="115.8" font-size="9.8" fill="#111"><tspan font-style="italic">Mcl-1</tspan><tspan font-size="6.2" dy="-3.8">f/wt</tspan><tspan dy="3.8" font-size="10.6"></tspan></text>
<line x1="385.5" y1="126.2" x2="406.5" y2="126.2" stroke="#f08080" stroke-width="0.9"/>
<circle cx="396.20" cy="126.20" r="2.8000000000000003" fill="#e01010"/>
<text x="407.7" y="129.7" font-size="9.8" fill="#111"><tspan font-style="italic">Mcl-1</tspan><tspan font-size="6.2" dy="-3.8">f/wt</tspan><tspan dy="3.8" font-size="10.6"> + GM-CSF</tspan></text>
<line x1="385.5" y1="139.9" x2="406.5" y2="139.9" stroke="#8080e0" stroke-width="0.9"/>
<path d="M396.20 136.90L399.20 141.90L393.20 141.90Z" fill="#1010c0"/>
<text x="407.7" y="143.4" font-size="9.8" fill="#111"><tspan font-style="italic">Mcl-1</tspan><tspan font-size="6.2" dy="-3.8">f/null</tspan><tspan dy="3.8" font-size="10.6"> plus LysM-Cre</tspan></text>
<line x1="385.5" y1="154.0" x2="406.5" y2="154.0" stroke="#80c8c0" stroke-width="0.9"/>
<path d="M396.20 157.00L399.20 152.00L393.20 152.00Z" fill="#207070"/>
<text x="407.7" y="157.5" font-size="9.8" fill="#111"><tspan font-style="italic">Mcl-1</tspan><tspan font-size="6.2" dy="-3.8">f/null</tspan><tspan dy="3.8" font-size="10.6"> plus LysM-Cre</tspan></text>
<text x="408.3" y="170.0" font-size="10.4" fill="#111">+ GM-CSF</text>
<text x="320.8" y="281.2" font-size="10.2" fill="#111"><tspan font-style="italic">Mcl-1</tspan><tspan font-size="10.2" dy="-5.2">f/wt</tspan></text>
<text x="407.5" y="268.3" font-size="10.2" fill="#111"><tspan font-style="italic">Mcl-1</tspan><tspan font-size="10.2" dy="-5.2">f/null</tspan><tspan dy="5.6" font-size="9.4"> +</tspan></text>
<text x="407.5" y="281.0" font-size="10.4" fill="#111">LysM-Cre</text>
<line x1="283.7" y1="284.3" x2="379.5" y2="284.3" stroke="#222" stroke-width="0.9"/>
<line x1="384.0" y1="284.3" x2="476.4" y2="284.3" stroke="#222" stroke-width="0.9"/>
<text transform="translate(291.3,325.2) rotate(-90)" font-size="10.4" fill="#111">ex vivo</text>
<text transform="translate(390.6,325.2) rotate(-90)" font-size="10.4" fill="#111">ex vivo</text>
<text x="309.3" y="317.3" font-size="10.2" fill="#111">16 hr</text>
<text x="343.6" y="317.3" font-size="10.2" fill="#111">24 hr</text>
<text x="409.0" y="316.6" font-size="10.2" fill="#111">16 hr</text>
<text x="442.5" y="316.6" font-size="10.2" fill="#111">24 hr</text>
<line x1="304.5" y1="321.0" x2="335.5" y2="321.0" stroke="#333" stroke-width="0.9"/>
<line x1="342.0" y1="321.0" x2="373.7" y2="321.0" stroke="#333" stroke-width="0.9"/>
<line x1="404.8" y1="321.0" x2="436.5" y2="321.0" stroke="#333" stroke-width="0.9"/>
<line x1="439.8" y1="321.0" x2="471.5" y2="321.0" stroke="#333" stroke-width="0.9"/>
<text x="230.5" y="335.0" font-size="10.3" fill="#111">GM-CSF</text>
<text x="285.0" y="335.0" font-size="10.4" fill="#111">na</text>
<text x="385.4" y="335.0" font-size="10.4" fill="#111">na</text>
<text x="310.5" y="334.5" font-size="10.0" text-anchor="middle" fill="#111">-</text>
<text x="330.8" y="334.5" font-size="10.0" text-anchor="middle" fill="#111">+</text>
<text x="348.8" y="334.5" font-size="10.0" text-anchor="middle" fill="#111">-</text>
<text x="368.8" y="334.5" font-size="10.0" text-anchor="middle" fill="#111">+</text>
<text x="408.3" y="334.5" font-size="10.0" text-anchor="middle" fill="#111">-</text>
<text x="425.8" y="334.5" font-size="10.0" text-anchor="middle" fill="#111">+</text>
<text x="445.4" y="334.5" font-size="10.0" text-anchor="middle" fill="#111">-</text>
<text x="465.6" y="334.5" font-size="10.0" text-anchor="middle" fill="#111">+</text>
<text x="489.0" y="347.1" font-size="10.3" fill="#111">MCL-1</text>
<text x="489.0" y="369.5" font-size="10.3" fill="#111">PDI</text>
<defs><filter id="bb" x="-20%" y="-60%" width="140%" height="220%"><feGaussianBlur stdDeviation="0.8"/></filter><filter id="bs" x="-5%" y="-20%" width="110%" height="140%"><feGaussianBlur stdDeviation="1"/></filter></defs>
<g filter="url(#bs)">
<rect x="276.7" y="337.8" width="103" height="15.7" fill="#e3e3e3"/>
<rect x="377" y="337.8" width="103.5" height="15.7" fill="#f1f1f1"/>
<rect x="318" y="338.5" width="62" height="14.5" fill="#d9d9d9"/>
<rect x="276.7" y="359.8" width="203.5" height="15.6" fill="#e5e5e5"/>
</g>
<g filter="url(#bb)">
<rect x="281.0" y="346.80" width="17.40" height="3.2" rx="1.3" fill="#3c3c3c"/>
<rect x="303.5" y="347.50" width="13.50" height="3.4" rx="1.3" fill="#2e2e2e"/>
<rect x="419.3" y="348.20" width="14.70" height="3.4" rx="1.3" fill="#222"/>
<rect x="456.4" y="347.90" width="17.40" height="3.4" rx="1.3" fill="#262626"/>
<rect x="341.6" y="347.40" width="14.20" height="3.0" rx="1.3" fill="#333"/>
<rect x="342" y="340.8" width="13.5" height="5.6" rx="1.5" fill="#b4b4b4"/>
<rect x="321.2" y="340.2" width="16.80" height="11.4" rx="2" fill="#1c1c1c"/>
<rect x="322.7" y="344.3" width="13.80" height="2.2" fill="#4a4a4a"/>
<rect x="358.4" y="340.2" width="18.80" height="11.4" rx="2" fill="#1c1c1c"/>
<rect x="359.9" y="344.3" width="15.80" height="2.2" fill="#4a4a4a"/>
<rect x="277.5" y="365.10" width="20.90" height="4.6" rx="2.0" fill="#262626"/>
<rect x="301.6" y="365.00" width="15.90" height="4.8" rx="2.0" fill="#222"/>
<rect x="320.7" y="365.60" width="15.80" height="4.0" rx="2.0" fill="#262626"/>
<rect x="339.7" y="364.90" width="16.90" height="5.0" rx="2.0" fill="#202020"/>
<rect x="357.7" y="364.40" width="18.00" height="5.6" rx="2.0" fill="#1a1a1a"/>
<rect x="376.2" y="365.20" width="17.00" height="4.4" rx="2.0" fill="#282828"/>
<rect x="396.3" y="364.10" width="18.00" height="7.0" rx="2.0" fill="#141414"/>
<rect x="415.4" y="365.10" width="16.90" height="5.0" rx="2.0" fill="#222"/>
<rect x="433.3" y="363.80" width="17.00" height="6.8" rx="2.0" fill="#161616"/>
<rect x="452.0" y="364.00" width="19.40" height="5.0" rx="2.0" fill="#222"/>
<rect x="398" y="371.5" width="14" height="2.5" rx="1" fill="#c8c8c8"/>
</g>
<text x="97.6" y="426.0" font-size="10.3" text-anchor="middle" fill="#111">G-CSF</text>
<line x1="53.2" y1="433.3" x2="53.2" y2="572.4" stroke="#444" stroke-width="0.8"/>
<line x1="52.800000000000004" y1="572.0" x2="153.0" y2="572.0" stroke="#444" stroke-width="0.9"/>
<line x1="51.400000000000006" y1="572.0" x2="53.2" y2="572.0" stroke="#444" stroke-width="0.8"/>
<text x="50.6" y="575.6" font-size="10.1" text-anchor="end" fill="#111">0</text>
<line x1="51.400000000000006" y1="558.18" x2="53.2" y2="558.18" stroke="#444" stroke-width="0.8"/>
<text x="50.6" y="561.78" font-size="10.1" text-anchor="end" fill="#111">10</text>
<line x1="51.400000000000006" y1="544.36" x2="53.2" y2="544.36" stroke="#444" stroke-width="0.8"/>
<text x="50.6" y="547.96" font-size="10.1" text-anchor="end" fill="#111">20</text>
<line x1="51.400000000000006" y1="530.54" x2="53.2" y2="530.54" stroke="#444" stroke-width="0.8"/>
<text x="50.6" y="534.14" font-size="10.1" text-anchor="end" fill="#111">30</text>
<line x1="51.400000000000006" y1="516.72" x2="53.2" y2="516.72" stroke="#444" stroke-width="0.8"/>
<text x="50.6" y="520.32" font-size="10.1" text-anchor="end" fill="#111">40</text>
<line x1="51.400000000000006" y1="502.9" x2="53.2" y2="502.9" stroke="#444" stroke-width="0.8"/>
<text x="50.6" y="506.5" font-size="10.1" text-anchor="end" fill="#111">50</text>
<line x1="51.400000000000006" y1="489.08000000000004" x2="53.2" y2="489.08000000000004" stroke="#444" stroke-width="0.8"/>
<text x="50.6" y="492.68000000000006" font-size="10.1" text-anchor="end" fill="#111">60</text>
<line x1="51.400000000000006" y1="475.26" x2="53.2" y2="475.26" stroke="#444" stroke-width="0.8"/>
<text x="50.6" y="478.86" font-size="10.1" text-anchor="end" fill="#111">70</text>
<line x1="51.400000000000006" y1="461.44" x2="53.2" y2="461.44" stroke="#444" stroke-width="0.8"/>
<text x="50.6" y="465.04" font-size="10.1" text-anchor="end" fill="#111">80</text>
<line x1="51.400000000000006" y1="447.62" x2="53.2" y2="447.62" stroke="#444" stroke-width="0.8"/>
<text x="50.6" y="451.22" font-size="10.1" text-anchor="end" fill="#111">90</text>
<line x1="51.400000000000006" y1="433.8" x2="53.2" y2="433.8" stroke="#444" stroke-width="0.8"/>
<text x="50.6" y="437.40000000000003" font-size="10.1" text-anchor="end" fill="#111">100</text>
<line x1="52.2" y1="565.09" x2="53.2" y2="565.09" stroke="#888" stroke-width="0.6"/>
<line x1="52.2" y1="551.27" x2="53.2" y2="551.27" stroke="#888" stroke-width="0.6"/>
<line x1="52.2" y1="537.45" x2="53.2" y2="537.45" stroke="#888" stroke-width="0.6"/>
<line x1="52.2" y1="523.63" x2="53.2" y2="523.63" stroke="#888" stroke-width="0.6"/>
<line x1="52.2" y1="509.81" x2="53.2" y2="509.81" stroke="#888" stroke-width="0.6"/>
<line x1="52.2" y1="495.99" x2="53.2" y2="495.99" stroke="#888" stroke-width="0.6"/>
<line x1="52.2" y1="482.17" x2="53.2" y2="482.17" stroke="#888" stroke-width="0.6"/>
<line x1="52.2" y1="468.35" x2="53.2" y2="468.35" stroke="#888" stroke-width="0.6"/>
<line x1="52.2" y1="454.53000000000003" x2="53.2" y2="454.53000000000003" stroke="#888" stroke-width="0.6"/>
<line x1="52.2" y1="440.71000000000004" x2="53.2" y2="440.71000000000004" stroke="#888" stroke-width="0.6"/>
<line x1="61.400000000000006" y1="556.798" x2="61.400000000000006" y2="554.725" stroke="#555" stroke-width="0.6"/>
<line x1="60.10000000000001" y1="554.725" x2="62.7" y2="554.725" stroke="#555" stroke-width="0.6"/>
<line x1="71.4" y1="504.28200000000004" x2="71.4" y2="499.445" stroke="#b04848" stroke-width="0.6"/>
<line x1="70.10000000000001" y1="499.445" x2="72.7" y2="499.445" stroke="#b04848" stroke-width="0.6"/>
<rect x="56.400000000000006" y="556.8" width="10" height="15.2" fill="#000"/>
<rect x="66.4" y="504.28" width="10" height="67.72" fill="#f00000"/>
<line x1="78.9" y1="572" x2="78.9" y2="574" stroke="#444" stroke-width="0.7"/>
<text transform="translate(66.00,576.6) rotate(-90)" font-size="10.4" text-anchor="end" fill="#111">myelocyte</text>
<text transform="translate(77.80,576.6) rotate(-90)" font-size="10.4" text-anchor="end" fill="#111">progenitor</text>
<line x1="86.5" y1="561.635" x2="86.5" y2="558.871" stroke="#555" stroke-width="0.6"/>
<line x1="85.2" y1="558.871" x2="87.8" y2="558.871" stroke="#555" stroke-width="0.6"/>
<line x1="96.5" y1="522.248" x2="96.5" y2="520.175" stroke="#b04848" stroke-width="0.6"/>
<line x1="95.2" y1="520.175" x2="97.8" y2="520.175" stroke="#b04848" stroke-width="0.6"/>
<rect x="81.5" y="561.63" width="10" height="10.36" fill="#000"/>
<rect x="91.5" y="522.25" width="10" height="49.75" fill="#f00000"/>
<line x1="104.0" y1="572" x2="104.0" y2="574" stroke="#444" stroke-width="0.7"/>
<text transform="translate(95.10,576.6) rotate(-90)" font-size="10.4" text-anchor="end" fill="#111">metamyelocyte</text>
<line x1="111.60000000000001" y1="555.416" x2="111.60000000000001" y2="553.343" stroke="#555" stroke-width="0.6"/>
<line x1="110.30000000000001" y1="553.343" x2="112.9" y2="553.343" stroke="#555" stroke-width="0.6"/>
<line x1="121.60000000000001" y1="555.416" x2="121.60000000000001" y2="552.652" stroke="#b04848" stroke-width="0.6"/>
<line x1="120.30000000000001" y1="552.652" x2="122.9" y2="552.652" stroke="#b04848" stroke-width="0.6"/>
<rect x="106.60000000000001" y="555.42" width="10" height="16.58" fill="#000"/>
<rect x="116.60000000000001" y="555.42" width="10" height="16.58" fill="#f00000"/>
<line x1="129.10000000000002" y1="572" x2="129.10000000000002" y2="574" stroke="#444" stroke-width="0.7"/>
<text transform="translate(120.20,576.6) rotate(-90)" font-size="10.4" text-anchor="end" fill="#111">band cell</text>
<line x1="136.70000000000002" y1="475.951" x2="136.70000000000002" y2="471.11400000000003" stroke="#555" stroke-width="0.6"/>
<line x1="135.4" y1="471.11400000000003" x2="138.00000000000003" y2="471.11400000000003" stroke="#555" stroke-width="0.6"/>
<line x1="146.70000000000002" y1="567.4394" x2="146.70000000000002" y2="566.7484" stroke="#b04848" stroke-width="0.6"/>
<line x1="145.4" y1="566.7484" x2="148.00000000000003" y2="566.7484" stroke="#b04848" stroke-width="0.6"/>
<rect x="131.70000000000002" y="475.95" width="10" height="96.05" fill="#000"/>
<rect x="141.70000000000002" y="567.44" width="10" height="4.56" fill="#f00000"/>
<text transform="translate(145.30,576.6) rotate(-90)" font-size="10.4" text-anchor="end" fill="#111">segmented</text>
<text x="212.5" y="426.0" font-size="10.3" text-anchor="middle" fill="#111">M-CSF</text>
<line x1="171.3" y1="433.3" x2="171.3" y2="572.4" stroke="#444" stroke-width="0.8"/>
<line x1="170.9" y1="572.0" x2="271.1" y2="572.0" stroke="#444" stroke-width="0.9"/>
<line x1="169.5" y1="572.0" x2="171.3" y2="572.0" stroke="#444" stroke-width="0.8"/>
<text x="168.70000000000002" y="575.6" font-size="10.1" text-anchor="end" fill="#111">0</text>
<line x1="169.5" y1="558.18" x2="171.3" y2="558.18" stroke="#444" stroke-width="0.8"/>
<text x="168.70000000000002" y="561.78" font-size="10.1" text-anchor="end" fill="#111">10</text>
<line x1="169.5" y1="544.36" x2="171.3" y2="544.36" stroke="#444" stroke-width="0.8"/>
<text x="168.70000000000002" y="547.96" font-size="10.1" text-anchor="end" fill="#111">20</text>
<line x1="169.5" y1="530.54" x2="171.3" y2="530.54" stroke="#444" stroke-width="0.8"/>
<text x="168.70000000000002" y="534.14" font-size="10.1" text-anchor="end" fill="#111">30</text>
<line x1="169.5" y1="516.72" x2="171.3" y2="516.72" stroke="#444" stroke-width="0.8"/>
<text x="168.70000000000002" y="520.32" font-size="10.1" text-anchor="end" fill="#111">40</text>
<line x1="169.5" y1="502.9" x2="171.3" y2="502.9" stroke="#444" stroke-width="0.8"/>
<text x="168.70000000000002" y="506.5" font-size="10.1" text-anchor="end" fill="#111">50</text>
<line x1="169.5" y1="489.08000000000004" x2="171.3" y2="489.08000000000004" stroke="#444" stroke-width="0.8"/>
<text x="168.70000000000002" y="492.68000000000006" font-size="10.1" text-anchor="end" fill="#111">60</text>
<line x1="169.5" y1="475.26" x2="171.3" y2="475.26" stroke="#444" stroke-width="0.8"/>
<text x="168.70000000000002" y="478.86" font-size="10.1" text-anchor="end" fill="#111">70</text>
<line x1="169.5" y1="461.44" x2="171.3" y2="461.44" stroke="#444" stroke-width="0.8"/>
<text x="168.70000000000002" y="465.04" font-size="10.1" text-anchor="end" fill="#111">80</text>
<line x1="169.5" y1="447.62" x2="171.3" y2="447.62" stroke="#444" stroke-width="0.8"/>
<text x="168.70000000000002" y="451.22" font-size="10.1" text-anchor="end" fill="#111">90</text>
<line x1="169.5" y1="433.8" x2="171.3" y2="433.8" stroke="#444" stroke-width="0.8"/>
<text x="168.70000000000002" y="437.40000000000003" font-size="10.1" text-anchor="end" fill="#111">100</text>
<line x1="170.3" y1="565.09" x2="171.3" y2="565.09" stroke="#888" stroke-width="0.6"/>
<line x1="170.3" y1="551.27" x2="171.3" y2="551.27" stroke="#888" stroke-width="0.6"/>
<line x1="170.3" y1="537.45" x2="171.3" y2="537.45" stroke="#888" stroke-width="0.6"/>
<line x1="170.3" y1="523.63" x2="171.3" y2="523.63" stroke="#888" stroke-width="0.6"/>
<line x1="170.3" y1="509.81" x2="171.3" y2="509.81" stroke="#888" stroke-width="0.6"/>
<line x1="170.3" y1="495.99" x2="171.3" y2="495.99" stroke="#888" stroke-width="0.6"/>
<line x1="170.3" y1="482.17" x2="171.3" y2="482.17" stroke="#888" stroke-width="0.6"/>
<line x1="170.3" y1="468.35" x2="171.3" y2="468.35" stroke="#888" stroke-width="0.6"/>
<line x1="170.3" y1="454.53000000000003" x2="171.3" y2="454.53000000000003" stroke="#888" stroke-width="0.6"/>
<line x1="170.3" y1="440.71000000000004" x2="171.3" y2="440.71000000000004" stroke="#888" stroke-width="0.6"/>
<line x1="179.5" y1="555.416" x2="179.5" y2="551.27" stroke="#555" stroke-width="0.6"/>
<line x1="178.2" y1="551.27" x2="180.8" y2="551.27" stroke="#555" stroke-width="0.6"/>
<line x1="189.5" y1="489.08000000000004" x2="189.5" y2="484.243" stroke="#b04848" stroke-width="0.6"/>
<line x1="188.2" y1="484.243" x2="190.8" y2="484.243" stroke="#b04848" stroke-width="0.6"/>
<rect x="174.5" y="555.42" width="10" height="16.58" fill="#000"/>
<rect x="184.5" y="489.08" width="10" height="82.92" fill="#f00000"/>
<line x1="197.0" y1="572" x2="197.0" y2="574" stroke="#444" stroke-width="0.7"/>
<text transform="translate(184.10,576.6) rotate(-90)" font-size="10.4" text-anchor="end" fill="#111">myelocyte</text>
<text transform="translate(195.90,576.6) rotate(-90)" font-size="10.4" text-anchor="end" fill="#111">progenitor</text>
<line x1="204.6" y1="557.489" x2="204.6" y2="554.725" stroke="#555" stroke-width="0.6"/>
<line x1="203.29999999999998" y1="554.725" x2="205.9" y2="554.725" stroke="#555" stroke-width="0.6"/>
<line x1="214.6" y1="524.321" x2="214.6" y2="521.557" stroke="#b04848" stroke-width="0.6"/>
<line x1="213.29999999999998" y1="521.557" x2="215.9" y2="521.557" stroke="#b04848" stroke-width="0.6"/>
<rect x="199.6" y="557.49" width="10" height="14.51" fill="#000"/>
<rect x="209.6" y="524.32" width="10" height="47.68" fill="#f00000"/>
<line x1="222.1" y1="572" x2="222.1" y2="574" stroke="#444" stroke-width="0.7"/>
<text transform="translate(213.20,576.6) rotate(-90)" font-size="10.4" text-anchor="end" fill="#111">metamyelocyte</text>
<line x1="229.7" y1="558.18" x2="229.7" y2="555.416" stroke="#555" stroke-width="0.6"/>
<line x1="228.39999999999998" y1="555.416" x2="231.0" y2="555.416" stroke="#555" stroke-width="0.6"/>
<line x1="239.7" y1="567.163" x2="239.7" y2="565.781" stroke="#b04848" stroke-width="0.6"/>
<line x1="238.39999999999998" y1="565.781" x2="241.0" y2="565.781" stroke="#b04848" stroke-width="0.6"/>
<rect x="224.7" y="558.18" width="10" height="13.82" fill="#000"/>
<rect x="234.7" y="567.16" width="10" height="4.84" fill="#f00000"/>
<line x1="247.2" y1="572" x2="247.2" y2="574" stroke="#444" stroke-width="0.7"/>
<text transform="translate(238.30,576.6) rotate(-90)" font-size="10.4" text-anchor="end" fill="#111">band cell</text>
<line x1="254.8" y1="479.406" x2="254.8" y2="471.805" stroke="#555" stroke-width="0.6"/>
<line x1="253.5" y1="471.805" x2="256.1" y2="471.805" stroke="#555" stroke-width="0.6"/>
<line x1="264.8" y1="569.927" x2="264.8" y2="569.236" stroke="#b04848" stroke-width="0.6"/>
<line x1="263.5" y1="569.236" x2="266.1" y2="569.236" stroke="#b04848" stroke-width="0.6"/>
<rect x="249.8" y="479.41" width="10" height="92.59" fill="#000"/>
<rect x="259.8" y="569.93" width="10" height="2.07" fill="#f00000"/>
<text transform="translate(263.40,576.6) rotate(-90)" font-size="10.4" text-anchor="end" fill="#111">segmented</text>
<text x="329.0" y="426.0" font-size="10.3" text-anchor="middle" fill="#111">GM-CSF</text>
<line x1="288.1" y1="433.3" x2="288.1" y2="572.4" stroke="#444" stroke-width="0.8"/>
<line x1="287.70000000000005" y1="572.0" x2="387.90000000000003" y2="572.0" stroke="#444" stroke-width="0.9"/>
<line x1="286.3" y1="572.0" x2="288.1" y2="572.0" stroke="#444" stroke-width="0.8"/>
<text x="285.5" y="575.6" font-size="10.1" text-anchor="end" fill="#111">0</text>
<line x1="286.3" y1="558.18" x2="288.1" y2="558.18" stroke="#444" stroke-width="0.8"/>
<text x="285.5" y="561.78" font-size="10.1" text-anchor="end" fill="#111">10</text>
<line x1="286.3" y1="544.36" x2="288.1" y2="544.36" stroke="#444" stroke-width="0.8"/>
<text x="285.5" y="547.96" font-size="10.1" text-anchor="end" fill="#111">20</text>
<line x1="286.3" y1="530.54" x2="288.1" y2="530.54" stroke="#444" stroke-width="0.8"/>
<text x="285.5" y="534.14" font-size="10.1" text-anchor="end" fill="#111">30</text>
<line x1="286.3" y1="516.72" x2="288.1" y2="516.72" stroke="#444" stroke-width="0.8"/>
<text x="285.5" y="520.32" font-size="10.1" text-anchor="end" fill="#111">40</text>
<line x1="286.3" y1="502.9" x2="288.1" y2="502.9" stroke="#444" stroke-width="0.8"/>
<text x="285.5" y="506.5" font-size="10.1" text-anchor="end" fill="#111">50</text>
<line x1="286.3" y1="489.08000000000004" x2="288.1" y2="489.08000000000004" stroke="#444" stroke-width="0.8"/>
<text x="285.5" y="492.68000000000006" font-size="10.1" text-anchor="end" fill="#111">60</text>
<line x1="286.3" y1="475.26" x2="288.1" y2="475.26" stroke="#444" stroke-width="0.8"/>
<text x="285.5" y="478.86" font-size="10.1" text-anchor="end" fill="#111">70</text>
<line x1="286.3" y1="461.44" x2="288.1" y2="461.44" stroke="#444" stroke-width="0.8"/>
<text x="285.5" y="465.04" font-size="10.1" text-anchor="end" fill="#111">80</text>
<line x1="286.3" y1="447.62" x2="288.1" y2="447.62" stroke="#444" stroke-width="0.8"/>
<text x="285.5" y="451.22" font-size="10.1" text-anchor="end" fill="#111">90</text>
<line x1="286.3" y1="433.8" x2="288.1" y2="433.8" stroke="#444" stroke-width="0.8"/>
<text x="285.5" y="437.40000000000003" font-size="10.1" text-anchor="end" fill="#111">100</text>
<line x1="287.1" y1="565.09" x2="288.1" y2="565.09" stroke="#888" stroke-width="0.6"/>
<line x1="287.1" y1="551.27" x2="288.1" y2="551.27" stroke="#888" stroke-width="0.6"/>
<line x1="287.1" y1="537.45" x2="288.1" y2="537.45" stroke="#888" stroke-width="0.6"/>
<line x1="287.1" y1="523.63" x2="288.1" y2="523.63" stroke="#888" stroke-width="0.6"/>
<line x1="287.1" y1="509.81" x2="288.1" y2="509.81" stroke="#888" stroke-width="0.6"/>
<line x1="287.1" y1="495.99" x2="288.1" y2="495.99" stroke="#888" stroke-width="0.6"/>
<line x1="287.1" y1="482.17" x2="288.1" y2="482.17" stroke="#888" stroke-width="0.6"/>
<line x1="287.1" y1="468.35" x2="288.1" y2="468.35" stroke="#888" stroke-width="0.6"/>
<line x1="287.1" y1="454.53000000000003" x2="288.1" y2="454.53000000000003" stroke="#888" stroke-width="0.6"/>
<line x1="287.1" y1="440.71000000000004" x2="288.1" y2="440.71000000000004" stroke="#888" stroke-width="0.6"/>
<line x1="296.3" y1="550.579" x2="296.3" y2="546.433" stroke="#555" stroke-width="0.6"/>
<line x1="295.0" y1="546.433" x2="297.6" y2="546.433" stroke="#555" stroke-width="0.6"/>
<line x1="306.3" y1="513.956" x2="306.3" y2="504.973" stroke="#b04848" stroke-width="0.6"/>
<line x1="305.0" y1="504.973" x2="307.6" y2="504.973" stroke="#b04848" stroke-width="0.6"/>
<rect x="291.3" y="550.58" width="10" height="21.42" fill="#000"/>
<rect x="301.3" y="513.96" width="10" height="58.04" fill="#f00000"/>
<line x1="313.8" y1="572" x2="313.8" y2="574" stroke="#444" stroke-width="0.7"/>
<text transform="translate(300.90,576.6) rotate(-90)" font-size="10.4" text-anchor="end" fill="#111">myelocyte</text>
<text transform="translate(312.70,576.6) rotate(-90)" font-size="10.4" text-anchor="end" fill="#111">progenitor</text>
<line x1="321.40000000000003" y1="562.326" x2="321.40000000000003" y2="558.871" stroke="#555" stroke-width="0.6"/>
<line x1="320.1" y1="558.871" x2="322.70000000000005" y2="558.871" stroke="#555" stroke-width="0.6"/>
<line x1="331.40000000000003" y1="551.27" x2="331.40000000000003" y2="545.742" stroke="#b04848" stroke-width="0.6"/>
<line x1="330.1" y1="545.742" x2="332.70000000000005" y2="545.742" stroke="#b04848" stroke-width="0.6"/>
<rect x="316.40000000000003" y="562.33" width="10" height="9.67" fill="#000"/>
<rect x="326.40000000000003" y="551.27" width="10" height="20.73" fill="#f00000"/>
<line x1="338.90000000000003" y1="572" x2="338.90000000000003" y2="574" stroke="#444" stroke-width="0.7"/>
<text transform="translate(330.00,576.6) rotate(-90)" font-size="10.4" text-anchor="end" fill="#111">metamyelocyte</text>
<line x1="346.5" y1="552.652" x2="346.5" y2="549.197" stroke="#555" stroke-width="0.6"/>
<line x1="345.2" y1="549.197" x2="347.8" y2="549.197" stroke="#555" stroke-width="0.6"/>
<line x1="356.5" y1="517.4110000000001" x2="356.5" y2="502.9" stroke="#b04848" stroke-width="0.6"/>
<line x1="355.2" y1="502.9" x2="357.8" y2="502.9" stroke="#b04848" stroke-width="0.6"/>
<rect x="341.5" y="552.65" width="10" height="19.35" fill="#000"/>
<rect x="351.5" y="517.41" width="10" height="54.59" fill="#f00000"/>
<line x1="364.0" y1="572" x2="364.0" y2="574" stroke="#444" stroke-width="0.7"/>
<text transform="translate(355.10,576.6) rotate(-90)" font-size="10.4" text-anchor="end" fill="#111">band cell</text>
<line x1="371.6" y1="487.698" x2="371.6" y2="484.243" stroke="#555" stroke-width="0.6"/>
<line x1="370.3" y1="484.243" x2="372.90000000000003" y2="484.243" stroke="#555" stroke-width="0.6"/>
<line x1="381.6" y1="567.4394" x2="381.6" y2="566.0574" stroke="#b04848" stroke-width="0.6"/>
<line x1="380.3" y1="566.0574" x2="382.90000000000003" y2="566.0574" stroke="#b04848" stroke-width="0.6"/>
<rect x="366.6" y="487.7" width="10" height="84.3" fill="#000"/>
<rect x="376.6" y="567.44" width="10" height="4.56" fill="#f00000"/>
<text transform="translate(380.20,576.6) rotate(-90)" font-size="10.4" text-anchor="end" fill="#111">segmented</text>
<text transform="translate(29.3,501.2) rotate(-90)" font-size="9.6" text-anchor="middle" fill="#111">Percentage Cultured BM Cells</text>
<rect x="301.3" y="438.0" width="71.7" height="33.3" fill="#fff" stroke="#555" stroke-width="0.7"/>
<rect x="305.0" y="443.3" width="17.0" height="6.3" fill="#000"/>
<rect x="305.0" y="453.8" width="17.0" height="6.3" fill="#f00000"/>
<text x="325.0" y="449.6" font-size="9.6" fill="#111"><tspan font-style="italic">Mcl-1</tspan><tspan font-size="5.6" dy="-3.8">f/wt</tspan></text>
<text x="325.0" y="460.2" font-size="9.6" fill="#111"><tspan font-style="italic">Mcl-1</tspan><tspan font-size="5.6" dy="-3.8">f/null</tspan><tspan dy="3.8" font-size="9.8"> +</tspan></text>
<text x="325.5" y="469.6" font-size="10.0" fill="#111">LysM-Cre</text>
</svg>
</body></html>
